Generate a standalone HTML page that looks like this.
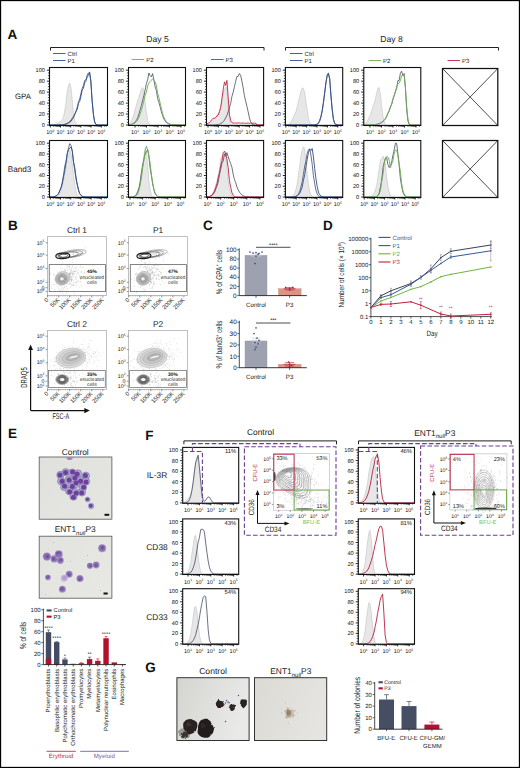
<!DOCTYPE html>
<html><head><meta charset="utf-8"><style>
html,body{margin:0;padding:0;background:#fff;overflow:hidden;width:520px;height:768px;}
svg{display:block;font-family:"Liberation Sans", sans-serif;text-rendering:geometricPrecision;}
</style></head><body>
<svg width="520" height="768" viewBox="0 0 520 768">
<rect x="0" y="0" width="520" height="768" fill="#fff"/>
<defs>
<radialGradient id="cc" cx="0.45" cy="0.45" r="0.6"><stop offset="0" stop-color="#7a3f9e"/><stop offset="0.55" stop-color="#80489f"/><stop offset="0.8" stop-color="#9c96c8"/><stop offset="1" stop-color="#8b88bd"/></radialGradient>
<radialGradient id="ce" cx="0.45" cy="0.45" r="0.6"><stop offset="0" stop-color="#72509e"/><stop offset="0.6" stop-color="#7a5aa8"/><stop offset="0.9" stop-color="#8c78b8"/><stop offset="1" stop-color="#a497c4"/></radialGradient>
<radialGradient id="col" cx="0.5" cy="0.5" r="0.5"><stop offset="0" stop-color="#1e1a1a"/><stop offset="0.7" stop-color="#2a2424"/><stop offset="1" stop-color="#4a4444" stop-opacity="0.6"/></radialGradient>
<linearGradient id="bgE" x1="0" y1="0" x2="1" y2="1"><stop offset="0" stop-color="#e0e1dc"/><stop offset="1" stop-color="#e6e6e2"/></linearGradient>
<linearGradient id="bgE2" x1="0" y1="0" x2="1" y2="1"><stop offset="0" stop-color="#e2e2df"/><stop offset="1" stop-color="#e8e8e5"/></linearGradient>
<filter id="fz" x="-20%" y="-20%" width="140%" height="140%"><feGaussianBlur stdDeviation="0.7"/></filter>
<filter id="fb" x="-20%" y="-20%" width="140%" height="140%"><feGaussianBlur stdDeviation="0.35"/></filter>
<filter id="rag" x="-30%" y="-30%" width="160%" height="160%"><feTurbulence type="fractalNoise" baseFrequency="0.45" numOctaves="2" seed="4" result="n"/><feDisplacementMap in="SourceGraphic" in2="n" scale="2.4" xChannelSelector="R" yChannelSelector="G" result="d"/><feGaussianBlur in="d" stdDeviation="0.55"/></filter>
<linearGradient id="bgG" x1="0" y1="0" x2="1" y2="0.3"><stop offset="0" stop-color="#d4d4d0"/><stop offset="1" stop-color="#e9e9e8"/></linearGradient>
<linearGradient id="bgG2" x1="0" y1="0" x2="1" y2="0.3"><stop offset="0" stop-color="#dcdad5"/><stop offset="1" stop-color="#e5e4e0"/></linearGradient>
</defs>
<text x="7.60" y="39.30" font-size="13.5" text-anchor="start" fill="#111" font-weight="bold">A</text>
<text x="157.50" y="42.20" font-size="8.6" text-anchor="middle" fill="#222" font-weight="normal">Day 5</text>
<text x="391.50" y="42.20" font-size="8.6" text-anchor="middle" fill="#222" font-weight="normal">Day 8</text>
<path d="M50.5,50.5 L50.5,47.5 L264,47.5 L264,50.5" fill="none" stroke="#222" stroke-width="1"/>
<path d="M285.5,50.5 L285.5,47.5 L498.5,47.5 L498.5,50.5" fill="none" stroke="#222" stroke-width="1"/>
<text x="23.00" y="99.00" font-size="7.8" text-anchor="middle" fill="#222" font-weight="normal">GPA</text>
<text x="19.60" y="171.70" font-size="8.2" text-anchor="middle" fill="#222" font-weight="normal">Band3</text>
<line x1="53.00" y1="53.50" x2="65.50" y2="53.50" stroke="#454c63" stroke-width="0.9"/>
<text x="67.60" y="55.60" font-size="6.0" text-anchor="start" fill="#222" font-weight="normal">Ctrl</text>
<line x1="53.00" y1="60.50" x2="65.50" y2="60.50" stroke="#2e4f8e" stroke-width="0.9"/>
<text x="67.60" y="62.60" font-size="6.0" text-anchor="start" fill="#222" font-weight="normal">P1</text>
<line x1="131.70" y1="59.50" x2="144.20" y2="59.50" stroke="#6cb04a" stroke-width="0.9"/>
<text x="146.30" y="61.60" font-size="6.0" text-anchor="start" fill="#222" font-weight="normal">P2</text>
<line x1="211.00" y1="59.50" x2="223.50" y2="59.50" stroke="#c0223e" stroke-width="0.9"/>
<text x="225.60" y="61.60" font-size="6.0" text-anchor="start" fill="#222" font-weight="normal">P3</text>
<line x1="290.00" y1="53.50" x2="302.50" y2="53.50" stroke="#454c63" stroke-width="0.9"/>
<text x="304.60" y="55.60" font-size="6.0" text-anchor="start" fill="#222" font-weight="normal">Ctrl</text>
<line x1="290.00" y1="60.50" x2="302.50" y2="60.50" stroke="#2e4f8e" stroke-width="0.9"/>
<text x="304.60" y="62.60" font-size="6.0" text-anchor="start" fill="#222" font-weight="normal">P1</text>
<line x1="368.50" y1="60.50" x2="381.00" y2="60.50" stroke="#6cb04a" stroke-width="0.9"/>
<text x="383.10" y="62.60" font-size="6.0" text-anchor="start" fill="#222" font-weight="normal">P2</text>
<line x1="447.50" y1="60.50" x2="460.00" y2="60.50" stroke="#c0223e" stroke-width="0.9"/>
<text x="462.10" y="62.60" font-size="6.0" text-anchor="start" fill="#222" font-weight="normal">P3</text>
<path d="M50.0,125.0L51.2,124.9L52.5,124.8L53.7,124.6L55.0,124.3L56.2,123.9L57.4,123.3L58.7,122.6L59.9,122.1L61.2,120.9L62.4,119.4L63.6,116.4L64.9,109.8L66.1,102.1L67.3,90.9L68.6,84.9L69.8,83.0L71.1,88.7L72.3,100.7L73.5,114.1L74.8,120.9L76.0,123.8L77.3,124.7L78.5,125.0L79.7,125.0L81.0,125.0L82.2,125.0L83.5,125.0L84.7,125.0L85.9,125.0L87.2,125.0L88.4,125.0L89.7,125.0L90.9,125.0L92.1,125.0L93.4,125.0L94.6,125.0L95.8,125.0L97.1,125.0L98.3,125.0L99.6,125.0L100.8,125.0L102.0,125.0L103.3,125.0L104.5,125.0L105.8,125.0L107.0,125.0L107.0,125.0L50.0,125.0Z" fill="#e7e7e7" stroke="#b8b8b8" stroke-width="0.5"/>
<path d="M50.0,125.0L51.2,125.0L52.5,125.0L53.7,125.0L55.0,125.0L56.2,125.0L57.4,125.0L58.7,124.9L59.9,124.9L61.2,124.8L62.4,124.7L63.6,124.5L64.9,124.2L66.1,123.8L67.3,123.2L68.6,122.5L69.8,121.2L71.1,120.3L72.3,118.0L73.5,116.3L74.8,113.9L76.0,110.9L77.3,107.0L78.5,101.6L79.7,99.1L81.0,93.2L82.2,88.3L83.5,85.2L84.7,80.4L85.9,79.8L87.2,77.5L88.4,75.2L89.7,71.9L90.9,82.7L92.1,100.1L93.4,113.8L94.6,121.5L95.8,124.2L97.1,124.9L98.3,125.0L99.6,125.0L100.8,125.0L102.0,125.0L103.3,125.0L104.5,125.0L105.8,125.0L107.0,125.0" fill="none" stroke="#454c63" stroke-width="0.8" stroke-linejoin="round"/>
<path d="M50.0,125.0L51.2,125.0L52.5,125.0L53.7,125.0L55.0,125.0L56.2,125.0L57.4,125.0L58.7,125.0L59.9,124.9L61.2,124.9L62.4,124.8L63.6,124.7L64.9,124.5L66.1,124.2L67.3,123.7L68.6,123.0L69.8,122.2L71.1,121.2L72.3,119.4L73.5,117.5L74.8,114.6L76.0,111.7L77.3,109.0L78.5,103.4L79.7,101.4L81.0,96.0L82.2,90.0L83.5,88.1L84.7,82.4L85.9,81.4L87.2,75.2L88.4,73.0L89.7,73.6L90.9,80.9L92.1,100.9L93.4,114.6L94.6,122.0L95.8,124.4L97.1,124.9L98.3,125.0L99.6,125.0L100.8,125.0L102.0,125.0L103.3,125.0L104.5,125.0L105.8,125.0L107.0,125.0" fill="none" stroke="#2e4f8e" stroke-width="0.9" stroke-linejoin="round"/>
<rect x="49.50" y="67.50" width="58.00" height="58.00" fill="none" stroke="#111" stroke-width="1.1"/>
<text x="44.90" y="127.00" font-size="5.6" text-anchor="end" fill="#111" font-weight="normal">0</text>
<text x="44.90" y="116.04" font-size="5.6" text-anchor="end" fill="#111" font-weight="normal">20</text>
<text x="44.90" y="105.08" font-size="5.6" text-anchor="end" fill="#111" font-weight="normal">40</text>
<text x="44.90" y="94.12" font-size="5.6" text-anchor="end" fill="#111" font-weight="normal">60</text>
<text x="44.90" y="83.16" font-size="5.6" text-anchor="end" fill="#111" font-weight="normal">80</text>
<text x="44.90" y="72.20" font-size="5.6" text-anchor="end" fill="#111" font-weight="normal">100</text>
<text x="50.30" y="134.20" font-size="5.5" text-anchor="middle" fill="#111">10<tspan font-size="3.30" dy="-2.20">0</tspan></text>
<text x="60.50" y="134.20" font-size="5.5" text-anchor="middle" fill="#111">10<tspan font-size="3.30" dy="-2.20">1</tspan></text>
<text x="70.70" y="134.20" font-size="5.5" text-anchor="middle" fill="#111">10<tspan font-size="3.30" dy="-2.20">2</tspan></text>
<text x="80.90" y="134.20" font-size="5.5" text-anchor="middle" fill="#111">10<tspan font-size="3.30" dy="-2.20">3</tspan></text>
<text x="91.10" y="134.20" font-size="5.5" text-anchor="middle" fill="#111">10<tspan font-size="3.30" dy="-2.20">4</tspan></text>
<text x="101.30" y="134.20" font-size="5.5" text-anchor="middle" fill="#111">10<tspan font-size="3.30" dy="-2.20">5</tspan></text>
<path d="M46.9,125.0h2.6M46.9,114.0h2.6M46.9,103.1h2.6M46.9,92.1h2.6M46.9,81.2h2.6M46.9,70.2h2.6M50.3,125.5v2M60.5,125.5v2M70.7,125.5v2M80.9,125.5v2M91.1,125.5v2M101.3,125.5v2" fill="none" stroke="#111" stroke-width="0.9"/>
<path d="M47.9,122.3h1.6M47.9,119.5h1.6M47.9,116.8h1.6M47.9,111.3h1.6M47.9,108.6h1.6M47.9,105.8h1.6M47.9,100.3h1.6M47.9,97.6h1.6M47.9,94.9h1.6M47.9,89.4h1.6M47.9,86.6h1.6M47.9,83.9h1.6M47.9,78.4h1.6M47.9,75.7h1.6M47.9,72.9h1.6M53.4,125.5v1.2M55.2,125.5v1.2M56.4,125.5v1.2M57.4,125.5v1.2M58.2,125.5v1.2M58.9,125.5v1.2M59.5,125.5v1.2M60.0,125.5v1.2M63.6,125.5v1.2M65.4,125.5v1.2M66.6,125.5v1.2M67.6,125.5v1.2M68.4,125.5v1.2M69.1,125.5v1.2M69.7,125.5v1.2M70.2,125.5v1.2M73.8,125.5v1.2M75.6,125.5v1.2M76.8,125.5v1.2M77.8,125.5v1.2M78.6,125.5v1.2M79.3,125.5v1.2M79.9,125.5v1.2M80.4,125.5v1.2M84.0,125.5v1.2M85.8,125.5v1.2M87.0,125.5v1.2M88.0,125.5v1.2M88.8,125.5v1.2M89.5,125.5v1.2M90.1,125.5v1.2M90.6,125.5v1.2M94.2,125.5v1.2M96.0,125.5v1.2M97.2,125.5v1.2M98.2,125.5v1.2M99.0,125.5v1.2M99.7,125.5v1.2M100.3,125.5v1.2M100.8,125.5v1.2M104.4,125.5v1.2M106.2,125.5v1.2" fill="none" stroke="#111" stroke-width="0.7"/>
<path d="M50.0,197.0L51.2,197.0L52.5,197.0L53.7,196.9L55.0,196.8L56.2,196.6L57.4,196.1L58.7,195.1L59.9,193.4L61.2,190.4L62.4,185.9L63.6,180.8L64.9,173.5L66.1,168.2L67.3,159.0L68.6,154.3L69.8,150.3L71.1,154.0L72.3,165.0L73.5,175.3L74.8,184.4L76.0,191.5L77.3,194.7L78.5,196.2L79.7,196.8L81.0,196.9L82.2,197.0L83.5,197.0L84.7,197.0L85.9,197.0L87.2,197.0L88.4,197.0L89.7,197.0L90.9,197.0L92.1,197.0L93.4,197.0L94.6,197.0L95.8,197.0L97.1,197.0L98.3,197.0L99.6,197.0L100.8,197.0L102.0,197.0L103.3,197.0L104.5,197.0L105.8,197.0L107.0,197.0L107.0,197.0L50.0,197.0Z" fill="#e7e7e7" stroke="#b8b8b8" stroke-width="0.5"/>
<path d="M50.0,197.0L51.2,197.0L52.5,196.9L53.7,196.7L55.0,196.4L56.2,195.9L57.4,194.9L58.7,193.3L59.9,190.1L61.2,186.8L62.4,181.4L63.6,174.6L64.9,165.5L66.1,161.1L67.3,152.9L68.6,147.6L69.8,143.6L71.1,145.6L72.3,151.1L73.5,162.1L74.8,170.5L76.0,179.0L77.3,185.0L78.5,190.0L79.7,193.7L81.0,195.4L82.2,196.3L83.5,196.7L84.7,196.9L85.9,197.0L87.2,197.0L88.4,197.0L89.7,197.0L90.9,197.0L92.1,197.0L93.4,197.0L94.6,197.0L95.8,197.0L97.1,197.0L98.3,197.0L99.6,197.0L100.8,197.0L102.0,197.0L103.3,197.0L104.5,197.0L105.8,197.0L107.0,197.0" fill="none" stroke="#454c63" stroke-width="0.8" stroke-linejoin="round"/>
<path d="M50.0,197.0L51.2,196.9L52.5,196.9L53.7,196.7L55.0,196.4L56.2,195.9L57.4,195.0L58.7,193.3L59.9,190.7L61.2,187.4L62.4,183.2L63.6,176.5L64.9,169.9L66.1,162.1L67.3,153.6L68.6,149.7L69.8,147.8L71.1,147.3L72.3,151.3L73.5,161.9L74.8,167.8L76.0,177.3L77.3,184.6L78.5,190.1L79.7,193.6L81.0,195.4L82.2,196.3L83.5,196.7L84.7,196.9L85.9,197.0L87.2,197.0L88.4,197.0L89.7,197.0L90.9,197.0L92.1,197.0L93.4,197.0L94.6,197.0L95.8,197.0L97.1,197.0L98.3,197.0L99.6,197.0L100.8,197.0L102.0,197.0L103.3,197.0L104.5,197.0L105.8,197.0L107.0,197.0" fill="none" stroke="#2e4f8e" stroke-width="0.9" stroke-linejoin="round"/>
<rect x="49.50" y="140.50" width="58.00" height="57.00" fill="none" stroke="#111" stroke-width="1.1"/>
<text x="44.90" y="199.00" font-size="5.6" text-anchor="end" fill="#111" font-weight="normal">0</text>
<text x="44.90" y="188.24" font-size="5.6" text-anchor="end" fill="#111" font-weight="normal">20</text>
<text x="44.90" y="177.48" font-size="5.6" text-anchor="end" fill="#111" font-weight="normal">40</text>
<text x="44.90" y="166.72" font-size="5.6" text-anchor="end" fill="#111" font-weight="normal">60</text>
<text x="44.90" y="155.96" font-size="5.6" text-anchor="end" fill="#111" font-weight="normal">80</text>
<text x="44.90" y="145.20" font-size="5.6" text-anchor="end" fill="#111" font-weight="normal">100</text>
<text x="50.30" y="206.20" font-size="5.5" text-anchor="middle" fill="#111">10<tspan font-size="3.30" dy="-2.20">0</tspan></text>
<text x="60.50" y="206.20" font-size="5.5" text-anchor="middle" fill="#111">10<tspan font-size="3.30" dy="-2.20">1</tspan></text>
<text x="70.70" y="206.20" font-size="5.5" text-anchor="middle" fill="#111">10<tspan font-size="3.30" dy="-2.20">2</tspan></text>
<text x="80.90" y="206.20" font-size="5.5" text-anchor="middle" fill="#111">10<tspan font-size="3.30" dy="-2.20">3</tspan></text>
<text x="91.10" y="206.20" font-size="5.5" text-anchor="middle" fill="#111">10<tspan font-size="3.30" dy="-2.20">4</tspan></text>
<text x="101.30" y="206.20" font-size="5.5" text-anchor="middle" fill="#111">10<tspan font-size="3.30" dy="-2.20">5</tspan></text>
<path d="M46.9,197.0h2.6M46.9,186.2h2.6M46.9,175.5h2.6M46.9,164.7h2.6M46.9,154.0h2.6M46.9,143.2h2.6M50.3,197.5v2M60.5,197.5v2M70.7,197.5v2M80.9,197.5v2M91.1,197.5v2M101.3,197.5v2" fill="none" stroke="#111" stroke-width="0.9"/>
<path d="M47.9,194.3h1.6M47.9,191.6h1.6M47.9,188.9h1.6M47.9,183.6h1.6M47.9,180.9h1.6M47.9,178.2h1.6M47.9,172.8h1.6M47.9,170.1h1.6M47.9,167.4h1.6M47.9,162.0h1.6M47.9,159.3h1.6M47.9,156.7h1.6M47.9,151.3h1.6M47.9,148.6h1.6M47.9,145.9h1.6M53.4,197.5v1.2M55.2,197.5v1.2M56.4,197.5v1.2M57.4,197.5v1.2M58.2,197.5v1.2M58.9,197.5v1.2M59.5,197.5v1.2M60.0,197.5v1.2M63.6,197.5v1.2M65.4,197.5v1.2M66.6,197.5v1.2M67.6,197.5v1.2M68.4,197.5v1.2M69.1,197.5v1.2M69.7,197.5v1.2M70.2,197.5v1.2M73.8,197.5v1.2M75.6,197.5v1.2M76.8,197.5v1.2M77.8,197.5v1.2M78.6,197.5v1.2M79.3,197.5v1.2M79.9,197.5v1.2M80.4,197.5v1.2M84.0,197.5v1.2M85.8,197.5v1.2M87.0,197.5v1.2M88.0,197.5v1.2M88.8,197.5v1.2M89.5,197.5v1.2M90.1,197.5v1.2M90.6,197.5v1.2M94.2,197.5v1.2M96.0,197.5v1.2M97.2,197.5v1.2M98.2,197.5v1.2M99.0,197.5v1.2M99.7,197.5v1.2M100.3,197.5v1.2M100.8,197.5v1.2M104.4,197.5v1.2M106.2,197.5v1.2" fill="none" stroke="#111" stroke-width="0.7"/>
<path d="M129.0,124.2L130.2,123.2L131.5,120.7L132.7,118.1L134.0,114.1L135.2,109.3L136.5,105.1L137.7,100.0L139.0,97.0L140.2,93.2L141.4,88.7L142.7,87.6L143.9,89.5L145.2,102.8L146.4,112.4L147.7,120.7L148.9,123.9L150.2,124.8L151.4,125.0L152.6,125.0L153.9,125.0L155.1,125.0L156.4,125.0L157.6,125.0L158.9,125.0L160.1,125.0L161.4,125.0L162.6,125.0L163.8,125.0L165.1,125.0L166.3,125.0L167.6,125.0L168.8,125.0L170.1,125.0L171.3,125.0L172.6,125.0L173.8,125.0L175.0,125.0L176.3,125.0L177.5,125.0L178.8,125.0L180.0,125.0L181.3,125.0L182.5,125.0L183.8,125.0L185.0,125.0L185.0,125.0L129.0,125.0Z" fill="#e7e7e7" stroke="#b8b8b8" stroke-width="0.5"/>
<path d="M129.0,124.8L130.2,124.6L131.5,124.3L132.7,123.8L134.0,123.0L135.2,121.8L136.5,120.1L137.7,117.9L139.0,113.9L140.2,109.5L141.4,105.6L142.7,100.0L143.9,95.6L145.2,89.9L146.4,83.5L147.7,79.5L148.9,73.0L150.2,75.7L151.4,76.9L152.6,73.6L153.9,79.9L155.1,86.7L156.4,90.6L157.6,98.3L158.9,102.4L160.1,106.7L161.4,111.7L162.6,115.7L163.8,118.9L165.1,120.9L166.3,122.5L167.6,123.3L168.8,124.0L170.1,124.4L171.3,124.7L172.6,124.8L173.8,124.9L175.0,125.0L176.3,125.0L177.5,125.0L178.8,125.0L180.0,125.0L181.3,125.0L182.5,125.0L183.8,125.0L185.0,125.0" fill="none" stroke="#454c63" stroke-width="0.8" stroke-linejoin="round"/>
<path d="M129.0,124.8L130.2,124.7L131.5,124.5L132.7,124.1L134.0,123.6L135.2,122.7L136.5,121.6L137.7,119.9L139.0,117.1L140.2,113.8L141.4,110.1L142.7,105.6L143.9,100.5L145.2,95.3L146.4,92.1L147.7,86.0L148.9,82.7L150.2,81.6L151.4,80.2L152.6,78.8L153.9,80.7L155.1,81.9L156.4,85.5L157.6,93.2L158.9,97.3L160.1,103.0L161.4,108.3L162.6,113.6L163.8,117.1L165.1,119.7L166.3,121.5L167.6,122.8L168.8,123.6L170.1,124.2L171.3,124.6L172.6,124.8L173.8,124.9L175.0,124.9L176.3,125.0L177.5,125.0L178.8,125.0L180.0,125.0L181.3,125.0L182.5,125.0L183.8,125.0L185.0,125.0" fill="none" stroke="#6cb04a" stroke-width="0.9" stroke-linejoin="round"/>
<rect x="128.50" y="67.50" width="57.00" height="58.00" fill="none" stroke="#111" stroke-width="1.1"/>
<text x="123.90" y="127.00" font-size="5.6" text-anchor="end" fill="#111" font-weight="normal">0</text>
<text x="123.90" y="116.04" font-size="5.6" text-anchor="end" fill="#111" font-weight="normal">20</text>
<text x="123.90" y="105.08" font-size="5.6" text-anchor="end" fill="#111" font-weight="normal">40</text>
<text x="123.90" y="94.12" font-size="5.6" text-anchor="end" fill="#111" font-weight="normal">60</text>
<text x="123.90" y="83.16" font-size="5.6" text-anchor="end" fill="#111" font-weight="normal">80</text>
<text x="123.90" y="72.20" font-size="5.6" text-anchor="end" fill="#111" font-weight="normal">100</text>
<text x="135.00" y="134.20" font-size="5.5" text-anchor="middle" fill="#111">10<tspan font-size="3.30" dy="-2.20">1</tspan></text>
<text x="146.50" y="134.20" font-size="5.5" text-anchor="middle" fill="#111">10<tspan font-size="3.30" dy="-2.20">2</tspan></text>
<text x="158.00" y="134.20" font-size="5.5" text-anchor="middle" fill="#111">10<tspan font-size="3.30" dy="-2.20">3</tspan></text>
<text x="169.50" y="134.20" font-size="5.5" text-anchor="middle" fill="#111">10<tspan font-size="3.30" dy="-2.20">4</tspan></text>
<text x="181.00" y="134.20" font-size="5.5" text-anchor="middle" fill="#111">10<tspan font-size="3.30" dy="-2.20">5</tspan></text>
<path d="M125.9,125.0h2.6M125.9,114.0h2.6M125.9,103.1h2.6M125.9,92.1h2.6M125.9,81.2h2.6M125.9,70.2h2.6M135.0,125.5v2M146.5,125.5v2M158.0,125.5v2M169.5,125.5v2M181.0,125.5v2" fill="none" stroke="#111" stroke-width="0.9"/>
<path d="M126.9,122.3h1.6M126.9,119.5h1.6M126.9,116.8h1.6M126.9,111.3h1.6M126.9,108.6h1.6M126.9,105.8h1.6M126.9,100.3h1.6M126.9,97.6h1.6M126.9,94.9h1.6M126.9,89.4h1.6M126.9,86.6h1.6M126.9,83.9h1.6M126.9,78.4h1.6M126.9,75.7h1.6M126.9,72.9h1.6M138.5,125.5v1.2M140.5,125.5v1.2M141.9,125.5v1.2M143.0,125.5v1.2M143.9,125.5v1.2M144.7,125.5v1.2M145.4,125.5v1.2M146.0,125.5v1.2M150.0,125.5v1.2M152.0,125.5v1.2M153.4,125.5v1.2M154.5,125.5v1.2M155.4,125.5v1.2M156.2,125.5v1.2M156.9,125.5v1.2M157.5,125.5v1.2M161.5,125.5v1.2M163.5,125.5v1.2M164.9,125.5v1.2M166.0,125.5v1.2M166.9,125.5v1.2M167.7,125.5v1.2M168.4,125.5v1.2M169.0,125.5v1.2M173.0,125.5v1.2M175.0,125.5v1.2M176.4,125.5v1.2M177.5,125.5v1.2M178.4,125.5v1.2M179.2,125.5v1.2M179.9,125.5v1.2M180.5,125.5v1.2M184.5,125.5v1.2" fill="none" stroke="#111" stroke-width="0.7"/>
<path d="M129.0,197.0L130.2,197.0L131.5,197.0L132.7,196.9L134.0,196.7L135.2,196.2L136.5,194.9L137.7,192.4L139.0,188.4L140.2,181.3L141.4,171.7L142.7,166.2L143.9,154.7L145.2,148.7L146.4,152.9L147.7,165.6L148.9,180.6L150.2,190.5L151.4,194.7L152.6,196.5L153.9,196.9L155.1,197.0L156.4,197.0L157.6,197.0L158.9,197.0L160.1,197.0L161.4,197.0L162.6,197.0L163.8,197.0L165.1,197.0L166.3,197.0L167.6,197.0L168.8,197.0L170.1,197.0L171.3,197.0L172.6,197.0L173.8,197.0L175.0,197.0L176.3,197.0L177.5,197.0L178.8,197.0L180.0,197.0L181.3,197.0L182.5,197.0L183.8,197.0L185.0,197.0L185.0,197.0L129.0,197.0Z" fill="#e7e7e7" stroke="#b8b8b8" stroke-width="0.5"/>
<path d="M129.0,197.0L130.2,197.0L131.5,196.9L132.7,196.8L134.0,196.4L135.2,195.7L136.5,194.2L137.7,191.4L139.0,187.7L140.2,181.8L141.4,172.8L142.7,164.8L143.9,159.3L145.2,154.0L146.4,151.6L147.7,149.6L148.9,156.9L150.2,168.5L151.4,175.6L152.6,183.5L153.9,189.7L155.1,193.5L156.4,195.4L157.6,196.3L158.9,196.8L160.1,196.9L161.4,197.0L162.6,197.0L163.8,197.0L165.1,197.0L166.3,197.0L167.6,197.0L168.8,197.0L170.1,197.0L171.3,197.0L172.6,197.0L173.8,197.0L175.0,197.0L176.3,197.0L177.5,197.0L178.8,197.0L180.0,197.0L181.3,197.0L182.5,197.0L183.8,197.0L185.0,197.0" fill="none" stroke="#454c63" stroke-width="0.8" stroke-linejoin="round"/>
<path d="M129.0,197.0L130.2,197.0L131.5,197.0L132.7,196.9L134.0,196.8L135.2,196.4L136.5,195.5L137.7,193.9L139.0,190.1L140.2,185.1L141.4,178.1L142.7,167.9L143.9,160.4L145.2,150.4L146.4,146.1L147.7,150.0L148.9,155.3L150.2,164.1L151.4,174.3L152.6,182.4L153.9,189.3L155.1,193.2L156.4,195.4L157.6,196.4L158.9,196.8L160.1,196.9L161.4,197.0L162.6,197.0L163.8,197.0L165.1,197.0L166.3,197.0L167.6,197.0L168.8,197.0L170.1,197.0L171.3,197.0L172.6,197.0L173.8,197.0L175.0,197.0L176.3,197.0L177.5,197.0L178.8,197.0L180.0,197.0L181.3,197.0L182.5,197.0L183.8,197.0L185.0,197.0" fill="none" stroke="#6cb04a" stroke-width="0.9" stroke-linejoin="round"/>
<rect x="128.50" y="140.50" width="57.00" height="57.00" fill="none" stroke="#111" stroke-width="1.1"/>
<text x="123.90" y="199.00" font-size="5.6" text-anchor="end" fill="#111" font-weight="normal">0</text>
<text x="123.90" y="188.24" font-size="5.6" text-anchor="end" fill="#111" font-weight="normal">20</text>
<text x="123.90" y="177.48" font-size="5.6" text-anchor="end" fill="#111" font-weight="normal">40</text>
<text x="123.90" y="166.72" font-size="5.6" text-anchor="end" fill="#111" font-weight="normal">60</text>
<text x="123.90" y="155.96" font-size="5.6" text-anchor="end" fill="#111" font-weight="normal">80</text>
<text x="123.90" y="145.20" font-size="5.6" text-anchor="end" fill="#111" font-weight="normal">100</text>
<text x="130.00" y="206.20" font-size="5.5" text-anchor="middle" fill="#111">10<tspan font-size="3.30" dy="-2.20">1</tspan></text>
<text x="142.60" y="206.20" font-size="5.5" text-anchor="middle" fill="#111">10<tspan font-size="3.30" dy="-2.20">2</tspan></text>
<text x="155.20" y="206.20" font-size="5.5" text-anchor="middle" fill="#111">10<tspan font-size="3.30" dy="-2.20">3</tspan></text>
<text x="167.80" y="206.20" font-size="5.5" text-anchor="middle" fill="#111">10<tspan font-size="3.30" dy="-2.20">4</tspan></text>
<text x="180.40" y="206.20" font-size="5.5" text-anchor="middle" fill="#111">10<tspan font-size="3.30" dy="-2.20">5</tspan></text>
<path d="M125.9,197.0h2.6M125.9,186.2h2.6M125.9,175.5h2.6M125.9,164.7h2.6M125.9,154.0h2.6M125.9,143.2h2.6M130.0,197.5v2M142.6,197.5v2M155.2,197.5v2M167.8,197.5v2M180.4,197.5v2" fill="none" stroke="#111" stroke-width="0.9"/>
<path d="M126.9,194.3h1.6M126.9,191.6h1.6M126.9,188.9h1.6M126.9,183.6h1.6M126.9,180.9h1.6M126.9,178.2h1.6M126.9,172.8h1.6M126.9,170.1h1.6M126.9,167.4h1.6M126.9,162.0h1.6M126.9,159.3h1.6M126.9,156.7h1.6M126.9,151.3h1.6M126.9,148.6h1.6M126.9,145.9h1.6M133.8,197.5v1.2M136.0,197.5v1.2M137.6,197.5v1.2M138.8,197.5v1.2M139.8,197.5v1.2M140.6,197.5v1.2M141.4,197.5v1.2M142.0,197.5v1.2M146.4,197.5v1.2M148.6,197.5v1.2M150.2,197.5v1.2M151.4,197.5v1.2M152.4,197.5v1.2M153.2,197.5v1.2M154.0,197.5v1.2M154.6,197.5v1.2M159.0,197.5v1.2M161.2,197.5v1.2M162.8,197.5v1.2M164.0,197.5v1.2M165.0,197.5v1.2M165.8,197.5v1.2M166.6,197.5v1.2M167.2,197.5v1.2M171.6,197.5v1.2M173.8,197.5v1.2M175.4,197.5v1.2M176.6,197.5v1.2M177.6,197.5v1.2M178.4,197.5v1.2M179.2,197.5v1.2M179.8,197.5v1.2M184.2,197.5v1.2" fill="none" stroke="#111" stroke-width="0.7"/>
<path d="M207.0,124.7L208.2,124.3L209.5,123.6L210.7,122.8L212.0,121.5L213.2,119.9L214.5,118.0L215.7,117.1L217.0,114.9L218.2,113.7L219.5,110.8L220.7,106.1L222.0,102.0L223.2,93.0L224.5,88.9L225.7,87.5L226.9,87.4L228.2,106.7L229.4,118.4L230.7,123.6L231.9,124.8L233.2,125.0L234.4,125.0L235.7,125.0L236.9,125.0L238.2,125.0L239.4,125.0L240.7,125.0L241.9,125.0L243.2,125.0L244.4,125.0L245.6,125.0L246.9,125.0L248.1,125.0L249.4,125.0L250.6,125.0L251.9,125.0L253.1,125.0L254.4,125.0L255.6,125.0L256.9,125.0L258.1,125.0L259.4,125.0L260.6,125.0L261.9,125.0L263.1,125.0L263.1,125.0L207.0,125.0Z" fill="#e7e7e7" stroke="#b8b8b8" stroke-width="0.5"/>
<path d="M207.0,125.0L208.2,125.0L209.5,125.0L210.7,125.0L212.0,125.0L213.2,125.0L214.5,124.9L215.7,124.8L217.0,124.7L218.2,124.5L219.5,124.2L220.7,123.6L222.0,122.9L223.2,121.7L224.5,120.1L225.7,117.7L226.9,115.6L228.2,111.5L229.4,108.0L230.7,103.3L231.9,96.6L233.2,92.2L234.4,86.8L235.7,81.2L236.9,76.5L238.2,76.4L239.4,73.5L240.7,75.4L241.9,81.3L243.2,88.0L244.4,95.6L245.6,100.8L246.9,106.2L248.1,111.6L249.4,117.8L250.6,121.8L251.9,123.9L253.1,124.7L254.4,124.9L255.6,125.0L256.9,125.0L258.1,125.0L259.4,125.0L260.6,125.0L261.9,125.0L263.1,125.0" fill="none" stroke="#454c63" stroke-width="0.8" stroke-linejoin="round"/>
<path d="M207.0,124.1L208.2,123.2L209.5,122.6L210.7,121.2L212.0,119.4L213.2,118.2L214.5,118.4L215.7,117.6L217.0,116.0L218.2,115.1L219.5,111.6L220.7,107.6L222.0,98.1L223.2,89.7L224.5,81.9L225.7,85.4L226.9,80.4L228.2,97.2L229.4,114.3L230.7,120.6L231.9,122.6L233.2,123.2L234.4,122.9L235.7,123.1L236.9,123.1L238.2,122.9L239.4,122.9L240.7,123.2L241.9,123.1L243.2,123.1L244.4,123.2L245.6,123.2L246.9,123.2L248.1,123.0L249.4,123.3L250.6,123.1L251.9,123.1L253.1,123.3L254.4,123.2L255.6,123.0L256.9,125.0L258.1,125.0L259.4,125.0L260.6,125.0L261.9,125.0L263.1,125.0" fill="none" stroke="#c0223e" stroke-width="0.9" stroke-linejoin="round"/>
<rect x="206.50" y="67.50" width="57.10" height="58.00" fill="none" stroke="#111" stroke-width="1.1"/>
<text x="201.90" y="127.00" font-size="5.6" text-anchor="end" fill="#111" font-weight="normal">0</text>
<text x="201.90" y="116.04" font-size="5.6" text-anchor="end" fill="#111" font-weight="normal">20</text>
<text x="201.90" y="105.08" font-size="5.6" text-anchor="end" fill="#111" font-weight="normal">40</text>
<text x="201.90" y="94.12" font-size="5.6" text-anchor="end" fill="#111" font-weight="normal">60</text>
<text x="201.90" y="83.16" font-size="5.6" text-anchor="end" fill="#111" font-weight="normal">80</text>
<text x="201.90" y="72.20" font-size="5.6" text-anchor="end" fill="#111" font-weight="normal">100</text>
<text x="208.00" y="134.20" font-size="5.5" text-anchor="middle" fill="#111">10<tspan font-size="3.30" dy="-2.20">0</tspan></text>
<text x="218.40" y="134.20" font-size="5.5" text-anchor="middle" fill="#111">10<tspan font-size="3.30" dy="-2.20">1</tspan></text>
<text x="228.80" y="134.20" font-size="5.5" text-anchor="middle" fill="#111">10<tspan font-size="3.30" dy="-2.20">2</tspan></text>
<text x="239.20" y="134.20" font-size="5.5" text-anchor="middle" fill="#111">10<tspan font-size="3.30" dy="-2.20">3</tspan></text>
<text x="249.60" y="134.20" font-size="5.5" text-anchor="middle" fill="#111">10<tspan font-size="3.30" dy="-2.20">4</tspan></text>
<text x="260.00" y="134.20" font-size="5.5" text-anchor="middle" fill="#111">10<tspan font-size="3.30" dy="-2.20">5</tspan></text>
<path d="M203.9,125.0h2.6M203.9,114.0h2.6M203.9,103.1h2.6M203.9,92.1h2.6M203.9,81.2h2.6M203.9,70.2h2.6M208.0,125.5v2M218.4,125.5v2M228.8,125.5v2M239.2,125.5v2M249.6,125.5v2M260.0,125.5v2" fill="none" stroke="#111" stroke-width="0.9"/>
<path d="M204.9,122.3h1.6M204.9,119.5h1.6M204.9,116.8h1.6M204.9,111.3h1.6M204.9,108.6h1.6M204.9,105.8h1.6M204.9,100.3h1.6M204.9,97.6h1.6M204.9,94.9h1.6M204.9,89.4h1.6M204.9,86.6h1.6M204.9,83.9h1.6M204.9,78.4h1.6M204.9,75.7h1.6M204.9,72.9h1.6M211.1,125.5v1.2M213.0,125.5v1.2M214.3,125.5v1.2M215.3,125.5v1.2M216.1,125.5v1.2M216.8,125.5v1.2M217.4,125.5v1.2M217.9,125.5v1.2M221.5,125.5v1.2M223.4,125.5v1.2M224.7,125.5v1.2M225.7,125.5v1.2M226.5,125.5v1.2M227.2,125.5v1.2M227.8,125.5v1.2M228.3,125.5v1.2M231.9,125.5v1.2M233.8,125.5v1.2M235.1,125.5v1.2M236.1,125.5v1.2M236.9,125.5v1.2M237.6,125.5v1.2M238.2,125.5v1.2M238.7,125.5v1.2M242.3,125.5v1.2M244.2,125.5v1.2M245.5,125.5v1.2M246.5,125.5v1.2M247.3,125.5v1.2M248.0,125.5v1.2M248.6,125.5v1.2M249.1,125.5v1.2M252.7,125.5v1.2M254.6,125.5v1.2M255.9,125.5v1.2M256.9,125.5v1.2M257.7,125.5v1.2M258.4,125.5v1.2M259.0,125.5v1.2M259.5,125.5v1.2M263.1,125.5v1.2" fill="none" stroke="#111" stroke-width="0.7"/>
<path d="M207.0,196.9L208.2,196.7L209.5,196.3L210.7,195.6L212.0,194.6L213.2,192.1L214.5,189.1L215.7,184.4L217.0,181.2L218.2,174.5L219.5,169.2L220.7,158.3L222.0,156.7L223.2,154.9L224.5,152.4L225.7,155.2L226.9,167.1L228.2,180.5L229.4,188.7L230.7,192.9L231.9,195.6L233.2,196.6L234.4,196.9L235.7,197.0L236.9,197.0L238.2,197.0L239.4,197.0L240.7,197.0L241.9,197.0L243.2,197.0L244.4,197.0L245.6,197.0L246.9,197.0L248.1,197.0L249.4,197.0L250.6,197.0L251.9,197.0L253.1,197.0L254.4,197.0L255.6,197.0L256.9,197.0L258.1,197.0L259.4,197.0L260.6,197.0L261.9,197.0L263.1,197.0L263.1,197.0L207.0,197.0Z" fill="#e7e7e7" stroke="#b8b8b8" stroke-width="0.5"/>
<path d="M207.0,196.9L208.2,196.8L209.5,196.5L210.7,196.1L212.0,195.3L213.2,194.2L214.5,192.5L215.7,189.3L217.0,185.9L218.2,182.0L219.5,174.6L220.7,169.4L222.0,162.9L223.2,161.1L224.5,153.9L225.7,156.3L226.9,152.6L228.2,156.6L229.4,160.3L230.7,163.6L231.9,167.2L233.2,174.3L234.4,179.3L235.7,182.7L236.9,186.8L238.2,189.9L239.4,192.1L240.7,193.8L241.9,194.9L243.2,195.7L244.4,196.2L245.6,196.6L246.9,196.8L248.1,196.9L249.4,196.9L250.6,197.0L251.9,197.0L253.1,197.0L254.4,197.0L255.6,197.0L256.9,197.0L258.1,197.0L259.4,197.0L260.6,197.0L261.9,197.0L263.1,197.0" fill="none" stroke="#454c63" stroke-width="0.8" stroke-linejoin="round"/>
<path d="M207.0,196.9L208.2,196.7L209.5,196.5L210.7,195.9L212.0,195.1L213.2,193.4L214.5,191.2L215.7,187.7L217.0,183.6L218.2,177.8L219.5,172.5L220.7,165.4L222.0,160.7L223.2,152.7L224.5,151.2L225.7,154.0L226.9,159.1L228.2,167.8L229.4,180.4L230.7,187.2L231.9,192.7L233.2,195.3L234.4,196.4L235.7,196.8L236.9,197.0L238.2,197.0L239.4,197.0L240.7,197.0L241.9,197.0L243.2,197.0L244.4,197.0L245.6,197.0L246.9,197.0L248.1,197.0L249.4,197.0L250.6,197.0L251.9,197.0L253.1,197.0L254.4,197.0L255.6,197.0L256.9,197.0L258.1,197.0L259.4,197.0L260.6,197.0L261.9,197.0L263.1,197.0" fill="none" stroke="#c0223e" stroke-width="0.9" stroke-linejoin="round"/>
<rect x="206.50" y="140.50" width="57.10" height="57.00" fill="none" stroke="#111" stroke-width="1.1"/>
<text x="201.90" y="199.00" font-size="5.6" text-anchor="end" fill="#111" font-weight="normal">0</text>
<text x="201.90" y="188.24" font-size="5.6" text-anchor="end" fill="#111" font-weight="normal">20</text>
<text x="201.90" y="177.48" font-size="5.6" text-anchor="end" fill="#111" font-weight="normal">40</text>
<text x="201.90" y="166.72" font-size="5.6" text-anchor="end" fill="#111" font-weight="normal">60</text>
<text x="201.90" y="155.96" font-size="5.6" text-anchor="end" fill="#111" font-weight="normal">80</text>
<text x="201.90" y="145.20" font-size="5.6" text-anchor="end" fill="#111" font-weight="normal">100</text>
<text x="207.50" y="206.20" font-size="5.5" text-anchor="middle" fill="#111">10<tspan font-size="3.30" dy="-2.20">1</tspan></text>
<text x="220.60" y="206.20" font-size="5.5" text-anchor="middle" fill="#111">10<tspan font-size="3.30" dy="-2.20">2</tspan></text>
<text x="233.70" y="206.20" font-size="5.5" text-anchor="middle" fill="#111">10<tspan font-size="3.30" dy="-2.20">3</tspan></text>
<text x="246.80" y="206.20" font-size="5.5" text-anchor="middle" fill="#111">10<tspan font-size="3.30" dy="-2.20">4</tspan></text>
<text x="259.90" y="206.20" font-size="5.5" text-anchor="middle" fill="#111">10<tspan font-size="3.30" dy="-2.20">5</tspan></text>
<path d="M203.9,197.0h2.6M203.9,186.2h2.6M203.9,175.5h2.6M203.9,164.7h2.6M203.9,154.0h2.6M203.9,143.2h2.6M207.5,197.5v2M220.6,197.5v2M233.7,197.5v2M246.8,197.5v2M259.9,197.5v2" fill="none" stroke="#111" stroke-width="0.9"/>
<path d="M204.9,194.3h1.6M204.9,191.6h1.6M204.9,188.9h1.6M204.9,183.6h1.6M204.9,180.9h1.6M204.9,178.2h1.6M204.9,172.8h1.6M204.9,170.1h1.6M204.9,167.4h1.6M204.9,162.0h1.6M204.9,159.3h1.6M204.9,156.7h1.6M204.9,151.3h1.6M204.9,148.6h1.6M204.9,145.9h1.6M211.4,197.5v1.2M213.8,197.5v1.2M215.4,197.5v1.2M216.7,197.5v1.2M217.7,197.5v1.2M218.6,197.5v1.2M219.3,197.5v1.2M220.0,197.5v1.2M224.5,197.5v1.2M226.9,197.5v1.2M228.5,197.5v1.2M229.8,197.5v1.2M230.8,197.5v1.2M231.7,197.5v1.2M232.4,197.5v1.2M233.1,197.5v1.2M237.6,197.5v1.2M240.0,197.5v1.2M241.6,197.5v1.2M242.9,197.5v1.2M243.9,197.5v1.2M244.8,197.5v1.2M245.5,197.5v1.2M246.2,197.5v1.2M250.7,197.5v1.2M253.1,197.5v1.2M254.7,197.5v1.2M256.0,197.5v1.2M257.0,197.5v1.2M257.9,197.5v1.2M258.6,197.5v1.2M259.3,197.5v1.2" fill="none" stroke="#111" stroke-width="0.7"/>
<path d="M285.9,124.9L287.2,124.8L288.4,124.4L289.7,123.5L290.9,122.1L292.2,120.0L293.4,117.2L294.7,113.7L295.9,111.9L297.2,106.7L298.4,102.0L299.7,96.3L300.9,91.6L302.2,87.8L303.4,88.6L304.7,92.3L305.9,101.5L307.2,109.2L308.4,117.9L309.7,122.2L310.9,124.0L312.2,124.7L313.4,124.9L314.7,125.0L315.9,125.0L317.2,125.0L318.4,125.0L319.7,125.0L320.9,125.0L322.2,125.0L323.4,125.0L324.7,125.0L325.9,125.0L327.2,125.0L328.4,125.0L329.7,125.0L330.9,125.0L332.2,125.0L333.4,125.0L334.7,125.0L335.9,125.0L337.2,125.0L338.4,125.0L339.7,125.0L340.9,125.0L342.2,125.0L342.2,125.0L285.9,125.0Z" fill="#e7e7e7" stroke="#b8b8b8" stroke-width="0.5"/>
<path d="M285.9,125.0L287.2,125.0L288.4,125.0L289.7,125.0L290.9,125.0L292.2,125.0L293.4,125.0L294.7,125.0L295.9,125.0L297.2,125.0L298.4,125.0L299.7,125.0L300.9,125.0L302.2,125.0L303.4,125.0L304.7,125.0L305.9,125.0L307.2,125.0L308.4,125.0L309.7,125.0L310.9,125.0L312.2,125.0L313.4,125.0L314.7,124.9L315.9,124.8L317.2,124.4L318.4,123.5L319.7,121.3L320.9,117.5L322.2,111.5L323.4,103.4L324.7,93.4L325.9,83.2L327.2,75.0L328.4,72.9L329.7,78.6L330.9,95.1L332.2,109.9L333.4,119.6L334.7,123.6L335.9,124.7L337.2,125.0L338.4,125.0L339.7,125.0L340.9,125.0L342.2,125.0" fill="none" stroke="#454c63" stroke-width="0.8" stroke-linejoin="round"/>
<path d="M285.9,125.0L287.2,125.0L288.4,125.0L289.7,125.0L290.9,125.0L292.2,125.0L293.4,125.0L294.7,125.0L295.9,125.0L297.2,125.0L298.4,125.0L299.7,125.0L300.9,125.0L302.2,125.0L303.4,125.0L304.7,125.0L305.9,125.0L307.2,125.0L308.4,125.0L309.7,125.0L310.9,125.0L312.2,125.0L313.4,125.0L314.7,124.9L315.9,124.6L317.2,124.1L318.4,122.8L319.7,120.3L320.9,116.4L322.2,110.2L323.4,102.4L324.7,92.2L325.9,82.7L327.2,75.7L328.4,73.9L329.7,78.9L330.9,94.9L332.2,109.3L333.4,118.9L334.7,123.1L335.9,124.6L337.2,124.9L338.4,125.0L339.7,125.0L340.9,125.0L342.2,125.0" fill="none" stroke="#2e4f8e" stroke-width="0.9" stroke-linejoin="round"/>
<rect x="285.40" y="67.50" width="57.30" height="58.00" fill="none" stroke="#111" stroke-width="1.1"/>
<text x="280.80" y="127.00" font-size="5.6" text-anchor="end" fill="#111" font-weight="normal">0</text>
<text x="280.80" y="116.04" font-size="5.6" text-anchor="end" fill="#111" font-weight="normal">20</text>
<text x="280.80" y="105.08" font-size="5.6" text-anchor="end" fill="#111" font-weight="normal">40</text>
<text x="280.80" y="94.12" font-size="5.6" text-anchor="end" fill="#111" font-weight="normal">60</text>
<text x="280.80" y="83.16" font-size="5.6" text-anchor="end" fill="#111" font-weight="normal">80</text>
<text x="280.80" y="72.20" font-size="5.6" text-anchor="end" fill="#111" font-weight="normal">100</text>
<text x="285.80" y="134.20" font-size="5.5" text-anchor="middle" fill="#111">10<tspan font-size="3.30" dy="-2.20">0</tspan></text>
<text x="296.20" y="134.20" font-size="5.5" text-anchor="middle" fill="#111">10<tspan font-size="3.30" dy="-2.20">1</tspan></text>
<text x="306.60" y="134.20" font-size="5.5" text-anchor="middle" fill="#111">10<tspan font-size="3.30" dy="-2.20">2</tspan></text>
<text x="317.00" y="134.20" font-size="5.5" text-anchor="middle" fill="#111">10<tspan font-size="3.30" dy="-2.20">3</tspan></text>
<text x="327.40" y="134.20" font-size="5.5" text-anchor="middle" fill="#111">10<tspan font-size="3.30" dy="-2.20">4</tspan></text>
<text x="337.80" y="134.20" font-size="5.5" text-anchor="middle" fill="#111">10<tspan font-size="3.30" dy="-2.20">5</tspan></text>
<path d="M282.8,125.0h2.6M282.8,114.0h2.6M282.8,103.1h2.6M282.8,92.1h2.6M282.8,81.2h2.6M282.8,70.2h2.6M285.8,125.5v2M296.2,125.5v2M306.6,125.5v2M317.0,125.5v2M327.4,125.5v2M337.8,125.5v2" fill="none" stroke="#111" stroke-width="0.9"/>
<path d="M283.8,122.3h1.6M283.8,119.5h1.6M283.8,116.8h1.6M283.8,111.3h1.6M283.8,108.6h1.6M283.8,105.8h1.6M283.8,100.3h1.6M283.8,97.6h1.6M283.8,94.9h1.6M283.8,89.4h1.6M283.8,86.6h1.6M283.8,83.9h1.6M283.8,78.4h1.6M283.8,75.7h1.6M283.8,72.9h1.6M288.9,125.5v1.2M290.8,125.5v1.2M292.1,125.5v1.2M293.1,125.5v1.2M293.9,125.5v1.2M294.6,125.5v1.2M295.2,125.5v1.2M295.7,125.5v1.2M299.3,125.5v1.2M301.2,125.5v1.2M302.5,125.5v1.2M303.5,125.5v1.2M304.3,125.5v1.2M305.0,125.5v1.2M305.6,125.5v1.2M306.1,125.5v1.2M309.7,125.5v1.2M311.6,125.5v1.2M312.9,125.5v1.2M313.9,125.5v1.2M314.7,125.5v1.2M315.4,125.5v1.2M316.0,125.5v1.2M316.5,125.5v1.2M320.1,125.5v1.2M322.0,125.5v1.2M323.3,125.5v1.2M324.3,125.5v1.2M325.1,125.5v1.2M325.8,125.5v1.2M326.4,125.5v1.2M326.9,125.5v1.2M330.5,125.5v1.2M332.4,125.5v1.2M333.7,125.5v1.2M334.7,125.5v1.2M335.5,125.5v1.2M336.2,125.5v1.2M336.8,125.5v1.2M337.3,125.5v1.2M340.9,125.5v1.2" fill="none" stroke="#111" stroke-width="0.7"/>
<path d="M285.9,197.0L287.2,197.0L288.4,197.0L289.7,196.9L290.9,196.7L292.2,196.1L293.4,195.2L294.7,193.2L295.9,189.3L297.2,183.9L298.4,175.1L299.7,166.3L300.9,155.9L302.2,149.9L303.4,146.7L304.7,149.0L305.9,162.7L307.2,174.8L308.4,183.3L309.7,191.5L310.9,194.6L312.2,196.3L313.4,196.8L314.7,197.0L315.9,197.0L317.2,197.0L318.4,197.0L319.7,197.0L320.9,197.0L322.2,197.0L323.4,197.0L324.7,197.0L325.9,197.0L327.2,197.0L328.4,197.0L329.7,197.0L330.9,197.0L332.2,197.0L333.4,197.0L334.7,197.0L335.9,197.0L337.2,197.0L338.4,197.0L339.7,197.0L340.9,197.0L342.2,197.0L342.2,197.0L285.9,197.0Z" fill="#e7e7e7" stroke="#b8b8b8" stroke-width="0.5"/>
<path d="M285.9,197.0L287.2,197.0L288.4,197.0L289.7,197.0L290.9,197.0L292.2,197.0L293.4,196.9L294.7,196.7L295.9,196.3L297.2,195.5L298.4,194.2L299.7,191.3L300.9,187.1L302.2,181.8L303.4,174.5L304.7,166.1L305.9,161.2L307.2,153.3L308.4,150.0L309.7,148.7L310.9,154.8L312.2,164.4L313.4,175.5L314.7,183.7L315.9,190.2L317.2,193.8L318.4,195.8L319.7,196.5L320.9,196.9L322.2,197.0L323.4,197.0L324.7,197.0L325.9,197.0L327.2,197.0L328.4,197.0L329.7,197.0L330.9,197.0L332.2,197.0L333.4,197.0L334.7,197.0L335.9,197.0L337.2,197.0L338.4,197.0L339.7,197.0L340.9,197.0L342.2,197.0" fill="none" stroke="#454c63" stroke-width="0.8" stroke-linejoin="round"/>
<path d="M285.9,197.0L287.2,197.0L288.4,197.0L289.7,197.0L290.9,197.0L292.2,197.0L293.4,196.9L294.7,196.8L295.9,196.5L297.2,195.9L298.4,195.0L299.7,193.4L300.9,190.6L302.2,187.1L303.4,180.7L304.7,174.7L305.9,167.0L307.2,159.5L308.4,152.7L309.7,149.3L310.9,150.5L312.2,148.5L313.4,156.9L314.7,168.5L315.9,178.5L317.2,186.4L318.4,192.1L319.7,194.6L320.9,196.1L322.2,196.7L323.4,196.9L324.7,197.0L325.9,197.0L327.2,197.0L328.4,197.0L329.7,197.0L330.9,197.0L332.2,197.0L333.4,197.0L334.7,197.0L335.9,197.0L337.2,197.0L338.4,197.0L339.7,197.0L340.9,197.0L342.2,197.0" fill="none" stroke="#2e4f8e" stroke-width="0.9" stroke-linejoin="round"/>
<rect x="285.40" y="140.50" width="57.30" height="57.00" fill="none" stroke="#111" stroke-width="1.1"/>
<text x="280.80" y="199.00" font-size="5.6" text-anchor="end" fill="#111" font-weight="normal">0</text>
<text x="280.80" y="188.24" font-size="5.6" text-anchor="end" fill="#111" font-weight="normal">20</text>
<text x="280.80" y="177.48" font-size="5.6" text-anchor="end" fill="#111" font-weight="normal">40</text>
<text x="280.80" y="166.72" font-size="5.6" text-anchor="end" fill="#111" font-weight="normal">60</text>
<text x="280.80" y="155.96" font-size="5.6" text-anchor="end" fill="#111" font-weight="normal">80</text>
<text x="280.80" y="145.20" font-size="5.6" text-anchor="end" fill="#111" font-weight="normal">100</text>
<text x="285.80" y="206.20" font-size="5.5" text-anchor="middle" fill="#111">10<tspan font-size="3.30" dy="-2.20">0</tspan></text>
<text x="296.20" y="206.20" font-size="5.5" text-anchor="middle" fill="#111">10<tspan font-size="3.30" dy="-2.20">1</tspan></text>
<text x="306.60" y="206.20" font-size="5.5" text-anchor="middle" fill="#111">10<tspan font-size="3.30" dy="-2.20">2</tspan></text>
<text x="317.00" y="206.20" font-size="5.5" text-anchor="middle" fill="#111">10<tspan font-size="3.30" dy="-2.20">3</tspan></text>
<text x="327.40" y="206.20" font-size="5.5" text-anchor="middle" fill="#111">10<tspan font-size="3.30" dy="-2.20">4</tspan></text>
<text x="337.80" y="206.20" font-size="5.5" text-anchor="middle" fill="#111">10<tspan font-size="3.30" dy="-2.20">5</tspan></text>
<path d="M282.8,197.0h2.6M282.8,186.2h2.6M282.8,175.5h2.6M282.8,164.7h2.6M282.8,154.0h2.6M282.8,143.2h2.6M285.8,197.5v2M296.2,197.5v2M306.6,197.5v2M317.0,197.5v2M327.4,197.5v2M337.8,197.5v2" fill="none" stroke="#111" stroke-width="0.9"/>
<path d="M283.8,194.3h1.6M283.8,191.6h1.6M283.8,188.9h1.6M283.8,183.6h1.6M283.8,180.9h1.6M283.8,178.2h1.6M283.8,172.8h1.6M283.8,170.1h1.6M283.8,167.4h1.6M283.8,162.0h1.6M283.8,159.3h1.6M283.8,156.7h1.6M283.8,151.3h1.6M283.8,148.6h1.6M283.8,145.9h1.6M288.9,197.5v1.2M290.8,197.5v1.2M292.1,197.5v1.2M293.1,197.5v1.2M293.9,197.5v1.2M294.6,197.5v1.2M295.2,197.5v1.2M295.7,197.5v1.2M299.3,197.5v1.2M301.2,197.5v1.2M302.5,197.5v1.2M303.5,197.5v1.2M304.3,197.5v1.2M305.0,197.5v1.2M305.6,197.5v1.2M306.1,197.5v1.2M309.7,197.5v1.2M311.6,197.5v1.2M312.9,197.5v1.2M313.9,197.5v1.2M314.7,197.5v1.2M315.4,197.5v1.2M316.0,197.5v1.2M316.5,197.5v1.2M320.1,197.5v1.2M322.0,197.5v1.2M323.3,197.5v1.2M324.3,197.5v1.2M325.1,197.5v1.2M325.8,197.5v1.2M326.4,197.5v1.2M326.9,197.5v1.2M330.5,197.5v1.2M332.4,197.5v1.2M333.7,197.5v1.2M334.7,197.5v1.2M335.5,197.5v1.2M336.2,197.5v1.2M336.8,197.5v1.2M337.3,197.5v1.2M340.9,197.5v1.2" fill="none" stroke="#111" stroke-width="0.7"/>
<path d="M364.3,124.3L365.5,123.5L366.8,122.1L368.0,119.9L369.3,116.6L370.5,114.6L371.8,110.4L373.0,106.0L374.3,103.1L375.5,98.3L376.7,92.7L378.0,88.0L379.2,87.5L380.5,95.5L381.7,106.3L383.0,116.7L384.2,121.7L385.5,124.0L386.7,124.8L387.9,125.0L389.2,125.0L390.4,125.0L391.7,125.0L392.9,125.0L394.2,125.0L395.4,125.0L396.7,125.0L397.9,125.0L399.1,125.0L400.4,125.0L401.6,125.0L402.9,125.0L404.1,125.0L405.4,125.0L406.6,125.0L407.9,125.0L409.1,125.0L410.3,125.0L411.6,125.0L412.8,125.0L414.1,125.0L415.3,125.0L416.6,125.0L417.8,125.0L419.1,125.0L420.3,125.0L420.3,125.0L364.3,125.0Z" fill="#e7e7e7" stroke="#b8b8b8" stroke-width="0.5"/>
<path d="M364.3,125.0L365.5,125.0L366.8,125.0L368.0,125.0L369.3,125.0L370.5,124.9L371.8,124.9L373.0,124.8L374.3,124.8L375.5,124.6L376.7,124.4L378.0,124.1L379.2,123.8L380.5,123.1L381.7,122.5L383.0,121.4L384.2,120.4L385.5,118.8L386.7,116.6L387.9,113.6L389.2,110.6L390.4,107.2L391.7,104.3L392.9,99.6L394.2,95.5L395.4,91.1L396.7,88.4L397.9,80.6L399.1,80.6L400.4,73.2L401.6,71.2L402.9,75.7L404.1,73.5L405.4,87.6L406.6,108.6L407.9,120.9L409.1,124.3L410.3,124.9L411.6,125.0L412.8,125.0L414.1,125.0L415.3,125.0L416.6,125.0L417.8,125.0L419.1,125.0L420.3,125.0" fill="none" stroke="#454c63" stroke-width="0.8" stroke-linejoin="round"/>
<path d="M364.3,125.0L365.5,125.0L366.8,125.0L368.0,125.0L369.3,125.0L370.5,124.9L371.8,124.9L373.0,124.8L374.3,124.7L375.5,124.5L376.7,124.3L378.0,124.0L379.2,123.6L380.5,123.0L381.7,122.0L383.0,121.2L384.2,119.7L385.5,118.3L386.7,115.9L387.9,112.9L389.2,111.3L390.4,106.7L391.7,103.8L392.9,98.8L394.2,95.1L395.4,92.8L396.7,85.9L397.9,84.0L399.1,83.1L400.4,80.6L401.6,75.7L402.9,74.7L404.1,75.4L405.4,87.3L406.6,105.5L407.9,118.6L409.1,123.6L410.3,124.8L411.6,125.0L412.8,125.0L414.1,125.0L415.3,125.0L416.6,125.0L417.8,125.0L419.1,125.0L420.3,125.0" fill="none" stroke="#6cb04a" stroke-width="0.9" stroke-linejoin="round"/>
<rect x="363.80" y="67.50" width="57.00" height="58.00" fill="none" stroke="#111" stroke-width="1.1"/>
<text x="359.20" y="127.00" font-size="5.6" text-anchor="end" fill="#111" font-weight="normal">0</text>
<text x="359.20" y="116.04" font-size="5.6" text-anchor="end" fill="#111" font-weight="normal">20</text>
<text x="359.20" y="105.08" font-size="5.6" text-anchor="end" fill="#111" font-weight="normal">40</text>
<text x="359.20" y="94.12" font-size="5.6" text-anchor="end" fill="#111" font-weight="normal">60</text>
<text x="359.20" y="83.16" font-size="5.6" text-anchor="end" fill="#111" font-weight="normal">80</text>
<text x="359.20" y="72.20" font-size="5.6" text-anchor="end" fill="#111" font-weight="normal">100</text>
<text x="370.00" y="134.20" font-size="5.5" text-anchor="middle" fill="#111">10<tspan font-size="3.30" dy="-2.20">1</tspan></text>
<text x="381.50" y="134.20" font-size="5.5" text-anchor="middle" fill="#111">10<tspan font-size="3.30" dy="-2.20">2</tspan></text>
<text x="393.00" y="134.20" font-size="5.5" text-anchor="middle" fill="#111">10<tspan font-size="3.30" dy="-2.20">3</tspan></text>
<text x="404.50" y="134.20" font-size="5.5" text-anchor="middle" fill="#111">10<tspan font-size="3.30" dy="-2.20">4</tspan></text>
<text x="416.00" y="134.20" font-size="5.5" text-anchor="middle" fill="#111">10<tspan font-size="3.30" dy="-2.20">5</tspan></text>
<path d="M361.2,125.0h2.6M361.2,114.0h2.6M361.2,103.1h2.6M361.2,92.1h2.6M361.2,81.2h2.6M361.2,70.2h2.6M370.0,125.5v2M381.5,125.5v2M393.0,125.5v2M404.5,125.5v2M416.0,125.5v2" fill="none" stroke="#111" stroke-width="0.9"/>
<path d="M362.2,122.3h1.6M362.2,119.5h1.6M362.2,116.8h1.6M362.2,111.3h1.6M362.2,108.6h1.6M362.2,105.8h1.6M362.2,100.3h1.6M362.2,97.6h1.6M362.2,94.9h1.6M362.2,89.4h1.6M362.2,86.6h1.6M362.2,83.9h1.6M362.2,78.4h1.6M362.2,75.7h1.6M362.2,72.9h1.6M373.5,125.5v1.2M375.5,125.5v1.2M376.9,125.5v1.2M378.0,125.5v1.2M378.9,125.5v1.2M379.7,125.5v1.2M380.4,125.5v1.2M381.0,125.5v1.2M385.0,125.5v1.2M387.0,125.5v1.2M388.4,125.5v1.2M389.5,125.5v1.2M390.4,125.5v1.2M391.2,125.5v1.2M391.9,125.5v1.2M392.5,125.5v1.2M396.5,125.5v1.2M398.5,125.5v1.2M399.9,125.5v1.2M401.0,125.5v1.2M401.9,125.5v1.2M402.7,125.5v1.2M403.4,125.5v1.2M404.0,125.5v1.2M408.0,125.5v1.2M410.0,125.5v1.2M411.4,125.5v1.2M412.5,125.5v1.2M413.4,125.5v1.2M414.2,125.5v1.2M414.9,125.5v1.2M415.5,125.5v1.2M419.5,125.5v1.2" fill="none" stroke="#111" stroke-width="0.7"/>
<path d="M364.3,197.0L365.5,197.0L366.8,197.0L368.0,197.0L369.3,196.9L370.5,196.7L371.8,196.2L373.0,195.3L374.3,193.0L375.5,189.3L376.7,185.5L378.0,176.4L379.2,169.0L380.5,160.1L381.7,158.6L383.0,156.0L384.2,159.1L385.5,164.3L386.7,177.1L387.9,186.5L389.2,192.1L390.4,195.1L391.7,196.4L392.9,196.8L394.2,197.0L395.4,197.0L396.7,197.0L397.9,197.0L399.1,197.0L400.4,197.0L401.6,197.0L402.9,197.0L404.1,197.0L405.4,197.0L406.6,197.0L407.9,197.0L409.1,197.0L410.3,197.0L411.6,197.0L412.8,197.0L414.1,197.0L415.3,197.0L416.6,197.0L417.8,197.0L419.1,197.0L420.3,197.0L420.3,197.0L364.3,197.0Z" fill="#e7e7e7" stroke="#b8b8b8" stroke-width="0.5"/>
<path d="M364.3,197.0L365.5,197.0L366.8,197.0L368.0,197.0L369.3,197.0L370.5,197.0L371.8,197.0L373.0,197.0L374.3,197.0L375.5,196.9L376.7,196.5L378.0,195.4L379.2,192.9L380.5,186.9L381.7,180.1L383.0,167.5L384.2,162.6L385.5,158.4L386.7,157.8L387.9,164.5L389.2,167.6L390.4,165.4L391.7,161.9L392.9,155.4L394.2,149.8L395.4,143.1L396.7,143.5L397.9,154.2L399.1,164.6L400.4,178.9L401.6,185.8L402.9,192.0L404.1,194.9L405.4,196.3L406.6,196.8L407.9,196.9L409.1,197.0L410.3,197.0L411.6,197.0L412.8,197.0L414.1,197.0L415.3,197.0L416.6,197.0L417.8,197.0L419.1,197.0L420.3,197.0" fill="none" stroke="#454c63" stroke-width="0.8" stroke-linejoin="round"/>
<path d="M364.3,197.0L365.5,197.0L366.8,197.0L368.0,197.0L369.3,197.0L370.5,197.0L371.8,197.0L373.0,197.0L374.3,197.0L375.5,196.9L376.7,196.7L378.0,195.8L379.2,194.0L380.5,190.2L381.7,181.4L383.0,174.5L384.2,163.2L385.5,157.4L386.7,156.5L387.9,156.9L389.2,160.6L390.4,167.5L391.7,163.8L392.9,161.1L394.2,153.2L395.4,149.8L396.7,150.5L397.9,154.7L399.1,163.7L400.4,171.6L401.6,183.3L402.9,190.6L404.1,193.9L405.4,195.9L406.6,196.7L407.9,196.9L409.1,197.0L410.3,197.0L411.6,197.0L412.8,197.0L414.1,197.0L415.3,197.0L416.6,197.0L417.8,197.0L419.1,197.0L420.3,197.0" fill="none" stroke="#6cb04a" stroke-width="0.9" stroke-linejoin="round"/>
<rect x="363.80" y="140.50" width="57.00" height="57.00" fill="none" stroke="#111" stroke-width="1.1"/>
<text x="359.20" y="199.00" font-size="5.6" text-anchor="end" fill="#111" font-weight="normal">0</text>
<text x="359.20" y="188.24" font-size="5.6" text-anchor="end" fill="#111" font-weight="normal">20</text>
<text x="359.20" y="177.48" font-size="5.6" text-anchor="end" fill="#111" font-weight="normal">40</text>
<text x="359.20" y="166.72" font-size="5.6" text-anchor="end" fill="#111" font-weight="normal">60</text>
<text x="359.20" y="155.96" font-size="5.6" text-anchor="end" fill="#111" font-weight="normal">80</text>
<text x="359.20" y="145.20" font-size="5.6" text-anchor="end" fill="#111" font-weight="normal">100</text>
<text x="364.20" y="206.20" font-size="5.5" text-anchor="middle" fill="#111">10<tspan font-size="3.30" dy="-2.20">0</tspan></text>
<text x="374.40" y="206.20" font-size="5.5" text-anchor="middle" fill="#111">10<tspan font-size="3.30" dy="-2.20">1</tspan></text>
<text x="384.60" y="206.20" font-size="5.5" text-anchor="middle" fill="#111">10<tspan font-size="3.30" dy="-2.20">2</tspan></text>
<text x="394.80" y="206.20" font-size="5.5" text-anchor="middle" fill="#111">10<tspan font-size="3.30" dy="-2.20">3</tspan></text>
<text x="405.00" y="206.20" font-size="5.5" text-anchor="middle" fill="#111">10<tspan font-size="3.30" dy="-2.20">4</tspan></text>
<text x="415.20" y="206.20" font-size="5.5" text-anchor="middle" fill="#111">10<tspan font-size="3.30" dy="-2.20">5</tspan></text>
<path d="M361.2,197.0h2.6M361.2,186.2h2.6M361.2,175.5h2.6M361.2,164.7h2.6M361.2,154.0h2.6M361.2,143.2h2.6M364.2,197.5v2M374.4,197.5v2M384.6,197.5v2M394.8,197.5v2M405.0,197.5v2M415.2,197.5v2" fill="none" stroke="#111" stroke-width="0.9"/>
<path d="M362.2,194.3h1.6M362.2,191.6h1.6M362.2,188.9h1.6M362.2,183.6h1.6M362.2,180.9h1.6M362.2,178.2h1.6M362.2,172.8h1.6M362.2,170.1h1.6M362.2,167.4h1.6M362.2,162.0h1.6M362.2,159.3h1.6M362.2,156.7h1.6M362.2,151.3h1.6M362.2,148.6h1.6M362.2,145.9h1.6M367.3,197.5v1.2M369.1,197.5v1.2M370.3,197.5v1.2M371.3,197.5v1.2M372.1,197.5v1.2M372.8,197.5v1.2M373.4,197.5v1.2M373.9,197.5v1.2M377.5,197.5v1.2M379.3,197.5v1.2M380.5,197.5v1.2M381.5,197.5v1.2M382.3,197.5v1.2M383.0,197.5v1.2M383.6,197.5v1.2M384.1,197.5v1.2M387.7,197.5v1.2M389.5,197.5v1.2M390.7,197.5v1.2M391.7,197.5v1.2M392.5,197.5v1.2M393.2,197.5v1.2M393.8,197.5v1.2M394.3,197.5v1.2M397.9,197.5v1.2M399.7,197.5v1.2M400.9,197.5v1.2M401.9,197.5v1.2M402.7,197.5v1.2M403.4,197.5v1.2M404.0,197.5v1.2M404.5,197.5v1.2M408.1,197.5v1.2M409.9,197.5v1.2M411.1,197.5v1.2M412.1,197.5v1.2M412.9,197.5v1.2M413.6,197.5v1.2M414.2,197.5v1.2M414.7,197.5v1.2M418.3,197.5v1.2M420.1,197.5v1.2" fill="none" stroke="#111" stroke-width="0.7"/>
<rect x="442.50" y="68.50" width="55.30" height="57.00" fill="none" stroke="#111" stroke-width="1.25"/>
<line x1="442.50" y1="68.50" x2="497.80" y2="125.50" stroke="#222" stroke-width="0.8"/>
<line x1="442.50" y1="125.50" x2="497.80" y2="68.50" stroke="#222" stroke-width="0.8"/>
<rect x="442.50" y="140.50" width="55.30" height="57.00" fill="none" stroke="#111" stroke-width="1.25"/>
<line x1="442.50" y1="140.50" x2="497.80" y2="197.50" stroke="#222" stroke-width="0.8"/>
<line x1="442.50" y1="197.50" x2="497.80" y2="140.50" stroke="#222" stroke-width="0.8"/>
<text x="8.00" y="230.00" font-size="13.5" text-anchor="start" fill="#111" font-weight="bold">B</text>
<text x="76.90" y="233.00" font-size="8.4" text-anchor="middle" fill="#1a1a1a" font-weight="normal">Ctrl 1</text>
<path d="M81.9,252.7h0.6M77.5,254.6h0.6M79.9,254.1h0.6M78.8,254.1h0.6M74.4,256.7h0.6M82.7,250.4h0.6M68.5,256.2h0.6M67.7,255.0h0.6M73.2,254.9h0.6M72.2,259.7h0.6M80.4,254.7h0.6M64.5,252.9h0.6M75.8,255.4h0.6M74.8,256.1h0.6M58.6,258.6h0.6M82.0,249.4h0.6M76.2,253.9h0.6M70.0,250.7h0.6M65.4,256.1h0.6M81.3,252.9h0.6M85.7,250.4h0.6M85.0,247.9h0.6M74.6,255.0h0.6M79.5,255.2h0.6M66.8,251.0h0.6M72.1,251.6h0.6M74.7,251.8h0.6M72.5,254.2h0.6M75.2,252.5h0.6M82.9,251.2h0.6M73.4,255.3h0.6M74.8,256.9h0.6M73.2,253.4h0.6M82.2,253.8h0.6M68.3,254.2h0.6M76.4,256.5h0.6M80.2,253.2h0.6M57.7,258.3h0.6M65.0,252.4h0.6M69.5,255.2h0.6M75.6,259.1h0.6M72.5,252.8h0.6M82.5,253.0h0.6M70.8,252.9h0.6M74.4,257.1h0.6M78.7,252.7h0.6M80.6,253.4h0.6M65.5,257.1h0.6M78.9,256.7h0.6M73.4,251.9h0.6" fill="none" stroke="#aaa" stroke-width="0.6"/>
<g filter="url(#fb)">
<ellipse cx="71.9" cy="253.8" rx="14.5" ry="3.6" transform="rotate(-9 71.9 253.8)" fill="none" stroke="#888" stroke-width="0.55" opacity="1.0"/>
<ellipse cx="70.9" cy="254.2" rx="12.0" ry="2.9" transform="rotate(-9 70.9 254.2)" fill="none" stroke="#666" stroke-width="0.6" opacity="1.0"/>
<ellipse cx="69.4" cy="254.6" rx="9.5" ry="2.4" transform="rotate(-7 69.4 254.6)" fill="none" stroke="#555" stroke-width="0.6" opacity="1.0"/>
<ellipse cx="62.8" cy="255.9" rx="7.0" ry="2.7" transform="rotate(-3 62.8 255.9)" fill="none" stroke="#1a1a1a" stroke-width="1.2" opacity="1.0"/>
<ellipse cx="63.0" cy="255.8" rx="4.8" ry="1.5" transform="rotate(-3 63.0 255.8)" fill="none" stroke="#444" stroke-width="0.8" opacity="1.0"/>
<ellipse cx="63.4" cy="255.8" rx="2.8" ry="0.6" transform="rotate(-3 63.4 255.8)" fill="#fff" stroke="none" stroke-width="0.5" opacity="1.0"/>
</g>
<path d="M79.6,287.2h0.6M67.2,288.6h0.6M69.6,280.2h0.6M64.8,272.3h0.6M73.6,270.6h0.6M70.8,279.2h0.6M60.2,285.9h0.6M70.1,273.8h0.6M64.4,281.3h0.6M70.4,274.3h0.6M69.5,276.2h0.6M59.3,290.5h0.6M72.0,266.4h0.6M82.8,267.4h0.6M66.5,281.0h0.6M75.5,267.4h0.6M77.8,272.6h0.6M64.1,283.2h0.6M66.4,280.9h0.6M72.6,273.7h0.6M62.6,293.3h0.6M85.1,278.9h0.6M71.3,280.6h0.6M67.5,265.0h0.6M65.3,278.7h0.6M60.8,281.5h0.6M69.9,273.0h0.6M62.0,290.9h0.6M74.5,273.9h0.6M66.6,266.1h0.6M68.9,276.2h0.6M83.9,273.1h0.6M71.4,285.8h0.6M70.3,271.2h0.6M71.9,291.2h0.6M61.3,276.5h0.6M63.1,273.2h0.6M67.1,277.4h0.6M60.8,265.0h0.6M50.5,274.0h0.6M72.2,274.6h0.6M50.9,288.8h0.6M72.6,271.6h0.6M70.0,282.4h0.6M51.3,286.6h0.6M76.9,282.5h0.6M60.4,267.8h0.6M64.2,269.1h0.6M66.4,282.6h0.6M63.1,288.3h0.6M71.9,276.2h0.6M64.7,272.9h0.6M68.9,276.5h0.6M60.2,278.8h0.6M80.4,267.3h0.6M72.1,273.5h0.6M70.3,276.5h0.6M56.0,283.3h0.6M62.8,280.9h0.6M60.6,285.3h0.6M57.2,272.3h0.6M69.1,267.2h0.6M80.5,278.2h0.6M68.2,284.8h0.6M62.5,287.6h0.6M70.7,279.7h0.6M68.7,279.8h0.6M71.1,268.4h0.6M66.4,283.4h0.6M75.0,271.9h0.6M73.8,285.4h0.6M47.2,270.8h0.6M75.2,276.8h0.6M67.3,264.6h0.6M68.2,275.1h0.6M67.4,280.0h0.6M81.3,285.9h0.6M49.6,278.9h0.6M61.6,290.0h0.6M62.5,281.1h0.6M62.7,262.9h0.6M76.7,277.0h0.6M61.9,276.5h0.6M65.5,280.5h0.6M70.6,279.8h0.6M56.2,277.2h0.6M67.6,277.5h0.6M66.0,286.6h0.6M71.7,279.7h0.6M75.6,283.7h0.6M64.2,277.7h0.6M74.3,276.8h0.6M56.2,280.0h0.6M71.4,276.6h0.6M61.6,273.3h0.6M68.2,282.0h0.6M71.9,272.3h0.6M59.8,278.4h0.6M57.9,289.0h0.6M73.4,273.0h0.6M75.1,282.7h0.6M67.4,277.3h0.6M71.0,270.3h0.6M67.2,270.4h0.6M70.4,269.7h0.6M68.0,277.3h0.6M56.1,280.0h0.6M68.7,274.2h0.6M60.1,276.2h0.6M63.0,279.1h0.6M68.7,284.1h0.6M69.2,274.1h0.6M54.7,284.7h0.6M71.0,273.6h0.6M83.6,279.1h0.6M74.2,271.4h0.6M84.1,272.2h0.6M59.7,290.8h0.6M53.7,275.7h0.6M77.9,280.9h0.6M71.1,281.4h0.6M69.7,264.6h0.6M70.8,279.1h0.6M62.3,284.5h0.6M65.3,280.2h0.6M71.9,285.1h0.6M68.0,275.1h0.6M54.2,279.8h0.6M81.1,271.8h0.6M76.6,277.6h0.6M56.3,280.0h0.6M67.3,283.4h0.6M59.0,277.8h0.6M60.1,274.5h0.6M65.8,278.1h0.6M58.6,276.2h0.6M73.1,285.1h0.6M65.1,270.4h0.6M73.3,280.3h0.6M70.7,277.0h0.6M64.7,279.5h0.6M60.4,283.6h0.6M77.5,273.3h0.6M79.1,275.4h0.6M64.8,269.9h0.6M75.8,274.5h0.6M59.8,292.8h0.6M80.3,279.5h0.6M78.0,270.2h0.6M66.9,272.7h0.6M74.5,271.6h0.6M80.0,265.2h0.6M77.7,281.2h0.6M68.7,274.8h0.6M64.1,287.9h0.6M80.3,281.6h0.6M70.4,287.5h0.6M74.8,278.8h0.6M70.1,272.8h0.6M69.8,283.4h0.6M66.8,278.7h0.6M70.2,278.7h0.6M74.8,268.3h0.6M69.1,273.0h0.6M66.2,274.0h0.6M56.4,281.1h0.6M62.6,290.2h0.6M57.0,279.5h0.6M68.4,273.9h0.6M76.5,270.9h0.6M60.5,288.3h0.6M74.1,293.8h0.6M59.8,277.9h0.6M64.4,270.9h0.6M76.4,281.6h0.6M80.8,272.7h0.6M71.0,284.4h0.6M75.7,270.9h0.6M61.6,274.8h0.6M68.7,275.9h0.6M75.9,279.4h0.6M60.8,283.8h0.6M68.8,273.5h0.6M72.7,283.6h0.6M67.4,276.7h0.6M66.0,280.0h0.6M65.5,281.6h0.6M56.9,278.0h0.6M73.7,282.3h0.6M63.5,279.5h0.6M70.8,272.6h0.6M69.8,277.7h0.6M53.2,274.1h0.6M65.3,270.9h0.6M67.3,277.7h0.6M58.4,274.8h0.6M64.5,286.3h0.6M54.1,290.0h0.6M64.1,273.3h0.6M68.1,275.0h0.6M59.4,279.9h0.6M68.1,278.6h0.6M66.6,276.0h0.6M49.0,282.0h0.6M71.4,277.9h0.6M58.2,276.7h0.6M54.6,274.1h0.6M71.9,279.3h0.6M67.1,278.8h0.6M72.8,265.7h0.6M66.4,276.4h0.6M69.2,266.1h0.6M56.8,285.2h0.6M62.8,280.7h0.6M72.2,276.9h0.6M73.6,274.5h0.6M62.3,268.9h0.6M69.2,266.6h0.6M69.8,284.0h0.6M57.7,287.0h0.6M61.2,279.4h0.6M49.6,272.9h0.6M75.9,285.7h0.6M72.5,274.2h0.6M72.8,284.9h0.6M76.0,267.7h0.6M65.7,290.2h0.6M66.4,281.7h0.6M72.8,268.2h0.6M59.1,271.8h0.6M74.2,271.7h0.6M68.7,266.8h0.6M69.0,269.9h0.6M61.6,271.1h0.6M67.1,281.2h0.6M64.1,276.6h0.6M69.3,273.5h0.6M70.4,275.4h0.6M71.5,271.5h0.6M68.5,277.3h0.6M78.4,273.0h0.6M56.3,275.0h0.6M65.6,275.1h0.6M59.8,277.4h0.6M67.1,265.1h0.6M68.2,274.5h0.6M72.3,262.4h0.6M69.5,274.3h0.6M69.2,278.8h0.6M81.3,271.5h0.6M66.7,267.9h0.6M67.6,267.8h0.6M67.5,279.6h0.6M79.3,276.4h0.6M71.1,280.3h0.6M65.9,278.1h0.6M69.1,281.3h0.6M62.7,272.9h0.6M66.2,293.4h0.6M53.2,284.5h0.6" fill="none" stroke="#a0a0a0" stroke-width="0.6"/>
<g filter="url(#fb)">
<ellipse cx="62.4" cy="278.4" rx="7.4" ry="6.6" transform="rotate(-30 62.4 278.4)" fill="#d6d6d6" stroke="#aaa" stroke-width="0.5" opacity="1.0"/>
<ellipse cx="61.9" cy="278.9" rx="6.0" ry="5.4" transform="rotate(0 61.9 278.9)" fill="none" stroke="#999" stroke-width="0.65" opacity="1.0"/>
<ellipse cx="61.9" cy="278.9" rx="4.9" ry="4.4" transform="rotate(0 61.9 278.9)" fill="none" stroke="#888" stroke-width="0.65" opacity="1.0"/>
<ellipse cx="61.9" cy="278.9" rx="3.8" ry="3.4" transform="rotate(0 61.9 278.9)" fill="none" stroke="#777" stroke-width="0.65" opacity="1.0"/>
<ellipse cx="61.9" cy="278.9" rx="2.7" ry="2.4" transform="rotate(0 61.9 278.9)" fill="none" stroke="#777" stroke-width="0.65" opacity="1.0"/>
<ellipse cx="61.9" cy="278.9" rx="1.2" ry="1.1" transform="rotate(0 61.9 278.9)" fill="#f4f4f4" stroke="none" stroke-width="0.5" opacity="1.0"/>
</g>
<rect x="47.40" y="236.60" width="59.00" height="59.00" fill="none" stroke="#b0b0b0" stroke-width="0.8"/>
<rect x="49.20" y="264.60" width="56.20" height="27.00" fill="none" stroke="#666" stroke-width="0.8"/>
<text x="91.90" y="273.40" font-size="4.9" text-anchor="middle" fill="#111" font-weight="bold">45%</text>
<text x="91.90" y="278.60" font-size="5.0" text-anchor="middle" fill="#333" font-weight="normal">enucleated</text>
<text x="91.90" y="283.60" font-size="5.0" text-anchor="middle" fill="#333" font-weight="normal">cells</text>
<text x="44.4" y="244.5" font-size="5.3" text-anchor="end" fill="#222">10<tspan font-size="3.3" dy="-2.1">5</tspan></text>
<text x="44.4" y="256.8" font-size="5.3" text-anchor="end" fill="#222">10<tspan font-size="3.3" dy="-2.1">4</tspan></text>
<text x="44.4" y="270.2" font-size="5.3" text-anchor="end" fill="#222">10<tspan font-size="3.3" dy="-2.1">3</tspan></text>
<text x="44.4" y="284.0" font-size="5.3" text-anchor="end" fill="#222">10<tspan font-size="3.3" dy="-2.1">2</tspan></text>
<text x="44.40" y="289.50" font-size="5.3" text-anchor="end" fill="#222" font-weight="normal">0</text>
<text x="44.4" y="293.2" font-size="5.3" text-anchor="end" fill="#222">10<tspan font-size="3.3" dy="-2.1">2</tspan></text>
<text x="48.8" y="300.2" font-size="5.8" text-anchor="end" fill="#222" transform="rotate(-45 48.8 300.2)">0</text>
<text x="59.9" y="300.2" font-size="5.8" text-anchor="end" fill="#222" transform="rotate(-45 59.9 300.2)">50K</text>
<text x="70.9" y="300.2" font-size="5.8" text-anchor="end" fill="#222" transform="rotate(-45 70.9 300.2)">100K</text>
<text x="82.0" y="300.2" font-size="5.8" text-anchor="end" fill="#222" transform="rotate(-45 82.0 300.2)">150K</text>
<text x="93.0" y="300.2" font-size="5.8" text-anchor="end" fill="#222" transform="rotate(-45 93.0 300.2)">200K</text>
<text x="104.0" y="300.2" font-size="5.8" text-anchor="end" fill="#222" transform="rotate(-45 104.0 300.2)">250K</text>
<path d="M45.6,242.8h1.8M45.6,255.1h1.8M45.6,268.5h1.8M45.6,282.3h1.8M45.6,287.7h1.8M45.6,291.5h1.8M47.6,295.6v1.8M58.7,295.6v1.8M69.7,295.6v1.8M80.8,295.6v1.8M91.8,295.6v1.8M102.8,295.6v1.8" fill="none" stroke="#333" stroke-width="0.5"/>
<path d="M47.6,295.6v1M49.8,295.6v1M52.0,295.6v1M54.2,295.6v1M56.4,295.6v1M58.6,295.6v1M60.8,295.6v1M63.0,295.6v1M65.2,295.6v1M67.4,295.6v1M69.6,295.6v1M71.8,295.6v1M74.0,295.6v1M76.2,295.6v1M78.4,295.6v1M80.6,295.6v1M82.8,295.6v1M85.0,295.6v1M87.2,295.6v1M89.4,295.6v1M91.6,295.6v1M93.8,295.6v1M96.0,295.6v1M98.2,295.6v1M100.4,295.6v1" fill="none" stroke="#555" stroke-width="0.35"/>
<text x="158.00" y="233.00" font-size="8.4" text-anchor="middle" fill="#1a1a1a" font-weight="normal">P1</text>
<path d="M154.2,254.0h0.6M149.4,256.3h0.6M156.1,252.1h0.6M152.7,252.2h0.6M159.0,257.4h0.6M166.6,254.2h0.6M155.7,254.2h0.6M159.5,256.7h0.6M156.1,254.0h0.6M147.5,255.6h0.6M156.6,252.7h0.6M149.1,255.3h0.6M157.9,252.3h0.6M160.7,252.6h0.6M158.4,256.7h0.6M152.2,254.7h0.6M153.5,253.8h0.6M157.5,250.7h0.6M157.3,251.0h0.6M151.5,256.4h0.6M144.5,258.7h0.6M168.2,254.0h0.6M160.2,253.5h0.6M155.0,258.5h0.6M148.8,255.3h0.6M159.1,252.5h0.6M147.4,256.1h0.6M155.2,250.8h0.6M151.4,253.3h0.6M153.8,255.4h0.6M160.7,250.7h0.6M155.1,252.9h0.6M144.7,257.3h0.6M152.3,254.2h0.6M141.7,257.5h0.6M156.1,255.3h0.6M152.6,257.6h0.6M157.6,252.8h0.6M158.6,254.8h0.6M152.0,256.9h0.6M159.0,255.0h0.6M163.4,257.8h0.6M154.9,253.3h0.6M158.6,253.3h0.6M141.4,260.5h0.6M158.1,250.5h0.6M151.4,255.4h0.6M153.3,253.8h0.6M157.7,255.7h0.6M162.4,253.3h0.6" fill="none" stroke="#aaa" stroke-width="0.6"/>
<g filter="url(#fb)">
<ellipse cx="153.0" cy="253.8" rx="14.5" ry="3.6" transform="rotate(-9 153.0 253.8)" fill="none" stroke="#888" stroke-width="0.55" opacity="1.0"/>
<ellipse cx="152.0" cy="254.2" rx="12.0" ry="2.9" transform="rotate(-9 152.0 254.2)" fill="none" stroke="#666" stroke-width="0.6" opacity="1.0"/>
<ellipse cx="150.5" cy="254.6" rx="9.5" ry="2.4" transform="rotate(-7 150.5 254.6)" fill="none" stroke="#555" stroke-width="0.6" opacity="1.0"/>
<ellipse cx="143.9" cy="255.9" rx="7.0" ry="2.7" transform="rotate(-3 143.9 255.9)" fill="none" stroke="#1a1a1a" stroke-width="1.2" opacity="1.0"/>
<ellipse cx="144.1" cy="255.8" rx="4.8" ry="1.5" transform="rotate(-3 144.1 255.8)" fill="none" stroke="#444" stroke-width="0.8" opacity="1.0"/>
<ellipse cx="144.5" cy="255.8" rx="2.8" ry="0.6" transform="rotate(-3 144.5 255.8)" fill="#fff" stroke="none" stroke-width="0.5" opacity="1.0"/>
</g>
<path d="M146.3,267.6h0.6M138.2,282.5h0.6M144.6,279.7h0.6M140.5,276.9h0.6M140.6,266.1h0.6M141.5,284.5h0.6M144.8,271.5h0.6M154.2,284.3h0.6M153.2,265.7h0.6M138.2,269.6h0.6M139.9,272.6h0.6M143.0,281.5h0.6M144.8,276.5h0.6M139.9,287.4h0.6M141.6,271.1h0.6M151.1,282.4h0.6M139.9,284.3h0.6M141.7,286.2h0.6M151.2,273.2h0.6M136.9,273.4h0.6M144.1,284.3h0.6M149.8,275.6h0.6M143.6,278.4h0.6M144.3,262.9h0.6M144.7,278.4h0.6M138.6,278.4h0.6M142.8,271.8h0.6M135.3,274.2h0.6M140.5,280.2h0.6M151.8,273.2h0.6M142.5,273.7h0.6M146.8,274.1h0.6M154.2,272.7h0.6M154.0,275.3h0.6M147.4,277.9h0.6M143.2,283.2h0.6M143.3,273.5h0.6M149.7,280.9h0.6M140.0,265.1h0.6M142.8,279.1h0.6M147.4,270.7h0.6M150.4,279.1h0.6M144.7,266.4h0.6M140.3,275.5h0.6M142.6,278.1h0.6M153.7,272.2h0.6M135.5,274.3h0.6M148.1,269.7h0.6M149.2,284.6h0.6M161.3,278.5h0.6M144.4,289.7h0.6M150.2,282.3h0.6M151.0,282.5h0.6M148.4,277.1h0.6M144.6,273.3h0.6M150.7,281.2h0.6M141.1,281.8h0.6M138.0,274.9h0.6M142.9,292.0h0.6M148.6,274.7h0.6M149.3,262.8h0.6M147.2,273.6h0.6M149.1,267.7h0.6M149.1,276.4h0.6M156.4,269.1h0.6M149.4,279.3h0.6M152.9,278.0h0.6M146.3,271.6h0.6M161.9,281.1h0.6M147.3,273.2h0.6M152.8,268.2h0.6M145.6,268.2h0.6M154.3,265.7h0.6M148.7,272.6h0.6M141.5,272.6h0.6M144.4,271.5h0.6M152.0,268.7h0.6M149.7,280.9h0.6M155.9,278.6h0.6M156.5,274.8h0.6M155.7,278.8h0.6M139.4,282.0h0.6M148.3,276.1h0.6M149.4,269.6h0.6M136.8,279.4h0.6M149.2,270.6h0.6M136.3,292.2h0.6M158.7,275.2h0.6M146.4,276.6h0.6M137.0,276.6h0.6M152.5,271.7h0.6M155.8,271.4h0.6M133.9,286.5h0.6M159.8,272.4h0.6M141.6,276.1h0.6M150.1,270.6h0.6M140.2,282.7h0.6M146.6,273.0h0.6M142.6,282.9h0.6M133.9,280.7h0.6M150.0,288.3h0.6M143.3,284.3h0.6M150.4,283.7h0.6M157.3,270.0h0.6M147.0,271.5h0.6M147.9,282.3h0.6M137.4,277.9h0.6M147.6,275.2h0.6M139.4,267.7h0.6M145.6,277.7h0.6M148.1,277.6h0.6M160.0,284.5h0.6M137.4,276.6h0.6M145.3,263.7h0.6M138.0,276.5h0.6M137.2,275.5h0.6M136.8,277.4h0.6M154.7,283.0h0.6M138.0,285.8h0.6M152.7,276.8h0.6M160.8,272.2h0.6M154.4,268.0h0.6M143.3,289.0h0.6M146.3,269.2h0.6M150.2,281.5h0.6M143.9,282.1h0.6M140.8,285.2h0.6M149.7,275.0h0.6M145.9,277.3h0.6M161.0,278.0h0.6M131.1,279.6h0.6M147.1,277.8h0.6M143.6,285.5h0.6M162.8,260.9h0.6M141.4,281.8h0.6M158.6,276.8h0.6M150.6,279.3h0.6M148.7,276.6h0.6M145.2,275.3h0.6M150.6,274.8h0.6M149.3,273.5h0.6M159.5,271.5h0.6M153.4,285.0h0.6M149.7,277.9h0.6M145.0,267.8h0.6M151.1,266.3h0.6M158.5,275.7h0.6M142.8,272.4h0.6M151.9,272.5h0.6M157.7,268.9h0.6M149.2,276.3h0.6M136.0,273.4h0.6M154.5,276.0h0.6M145.7,274.1h0.6M150.5,269.3h0.6M155.2,275.2h0.6M139.9,278.2h0.6M144.8,275.3h0.6M147.2,271.1h0.6M138.7,274.6h0.6M143.5,282.9h0.6M144.7,262.5h0.6M146.1,269.2h0.6M148.4,279.0h0.6M157.9,269.4h0.6M148.5,271.1h0.6M127.9,276.7h0.6M149.0,268.1h0.6M148.3,283.6h0.6M151.3,270.7h0.6M140.5,272.6h0.6M154.7,265.4h0.6M148.1,277.2h0.6M150.5,282.7h0.6M134.2,278.2h0.6M149.0,275.0h0.6M149.6,265.0h0.6M151.2,268.4h0.6M151.8,288.1h0.6M147.4,267.4h0.6M152.1,271.3h0.6M157.5,275.9h0.6M147.4,272.8h0.6M141.1,264.8h0.6M153.0,283.4h0.6M141.6,273.6h0.6M151.6,279.9h0.6M142.8,267.6h0.6M145.4,279.1h0.6M147.3,266.1h0.6M152.9,283.1h0.6M155.7,263.7h0.6M139.7,280.6h0.6M143.2,277.3h0.6M151.3,279.1h0.6M143.3,273.3h0.6M140.3,278.6h0.6M143.9,278.8h0.6M173.6,268.7h0.6M146.7,280.0h0.6M135.9,274.9h0.6M156.6,279.7h0.6M146.3,284.8h0.6M149.9,276.0h0.6M161.5,268.3h0.6M139.4,282.6h0.6M152.3,286.4h0.6M136.3,291.2h0.6M143.9,266.6h0.6M152.6,273.0h0.6M153.0,275.1h0.6M150.4,278.2h0.6M157.6,274.1h0.6M150.9,269.7h0.6M160.2,264.9h0.6M158.2,274.7h0.6M146.1,280.1h0.6M152.6,272.9h0.6M137.2,279.2h0.6M156.7,269.1h0.6M144.1,283.8h0.6M164.2,282.7h0.6M152.8,273.9h0.6M153.7,274.9h0.6M144.2,291.1h0.6M155.7,265.0h0.6M161.2,272.8h0.6M141.3,271.1h0.6M150.2,275.4h0.6M159.1,279.7h0.6M156.0,268.4h0.6M149.0,285.1h0.6M146.7,274.4h0.6M147.7,281.9h0.6M156.1,277.8h0.6M152.4,278.8h0.6M158.0,279.3h0.6M159.4,271.2h0.6M149.4,277.9h0.6M151.5,272.8h0.6M158.3,265.3h0.6M149.8,273.4h0.6M145.5,279.4h0.6M157.5,265.6h0.6M140.4,275.8h0.6M145.8,289.1h0.6M138.9,283.5h0.6M152.7,278.0h0.6M159.9,273.8h0.6M143.8,278.1h0.6M150.0,271.8h0.6M145.5,280.5h0.6M151.9,287.8h0.6M147.4,280.8h0.6M142.1,280.7h0.6M150.0,273.8h0.6M150.2,275.3h0.6M153.4,267.5h0.6M153.2,281.5h0.6M149.0,281.5h0.6" fill="none" stroke="#a0a0a0" stroke-width="0.6"/>
<g filter="url(#fb)">
<ellipse cx="143.5" cy="278.4" rx="7.4" ry="6.6" transform="rotate(-30 143.5 278.4)" fill="#d6d6d6" stroke="#aaa" stroke-width="0.5" opacity="1.0"/>
<ellipse cx="143.0" cy="278.9" rx="6.0" ry="5.4" transform="rotate(0 143.0 278.9)" fill="none" stroke="#999" stroke-width="0.65" opacity="1.0"/>
<ellipse cx="143.0" cy="278.9" rx="4.9" ry="4.4" transform="rotate(0 143.0 278.9)" fill="none" stroke="#888" stroke-width="0.65" opacity="1.0"/>
<ellipse cx="143.0" cy="278.9" rx="3.8" ry="3.4" transform="rotate(0 143.0 278.9)" fill="none" stroke="#777" stroke-width="0.65" opacity="1.0"/>
<ellipse cx="143.0" cy="278.9" rx="2.7" ry="2.4" transform="rotate(0 143.0 278.9)" fill="none" stroke="#777" stroke-width="0.65" opacity="1.0"/>
<ellipse cx="143.0" cy="278.9" rx="1.2" ry="1.1" transform="rotate(0 143.0 278.9)" fill="#f4f4f4" stroke="none" stroke-width="0.5" opacity="1.0"/>
</g>
<rect x="128.50" y="236.60" width="59.00" height="59.00" fill="none" stroke="#b0b0b0" stroke-width="0.8"/>
<rect x="130.30" y="264.60" width="56.20" height="27.00" fill="none" stroke="#666" stroke-width="0.8"/>
<text x="173.00" y="273.40" font-size="4.9" text-anchor="middle" fill="#111" font-weight="bold">47%</text>
<text x="173.00" y="278.60" font-size="5.0" text-anchor="middle" fill="#333" font-weight="normal">enucleated</text>
<text x="173.00" y="283.60" font-size="5.0" text-anchor="middle" fill="#333" font-weight="normal">cells</text>
<text x="125.5" y="244.5" font-size="5.3" text-anchor="end" fill="#222">10<tspan font-size="3.3" dy="-2.1">5</tspan></text>
<text x="125.5" y="256.8" font-size="5.3" text-anchor="end" fill="#222">10<tspan font-size="3.3" dy="-2.1">4</tspan></text>
<text x="125.5" y="270.2" font-size="5.3" text-anchor="end" fill="#222">10<tspan font-size="3.3" dy="-2.1">3</tspan></text>
<text x="125.5" y="284.0" font-size="5.3" text-anchor="end" fill="#222">10<tspan font-size="3.3" dy="-2.1">2</tspan></text>
<text x="125.50" y="289.50" font-size="5.3" text-anchor="end" fill="#222" font-weight="normal">0</text>
<text x="125.5" y="293.2" font-size="5.3" text-anchor="end" fill="#222">10<tspan font-size="3.3" dy="-2.1">2</tspan></text>
<text x="129.9" y="300.2" font-size="5.8" text-anchor="end" fill="#222" transform="rotate(-45 129.9 300.2)">0</text>
<text x="140.9" y="300.2" font-size="5.8" text-anchor="end" fill="#222" transform="rotate(-45 140.9 300.2)">50K</text>
<text x="152.0" y="300.2" font-size="5.8" text-anchor="end" fill="#222" transform="rotate(-45 152.0 300.2)">100K</text>
<text x="163.0" y="300.2" font-size="5.8" text-anchor="end" fill="#222" transform="rotate(-45 163.0 300.2)">150K</text>
<text x="174.1" y="300.2" font-size="5.8" text-anchor="end" fill="#222" transform="rotate(-45 174.1 300.2)">200K</text>
<text x="185.1" y="300.2" font-size="5.8" text-anchor="end" fill="#222" transform="rotate(-45 185.1 300.2)">250K</text>
<path d="M126.7,242.8h1.8M126.7,255.1h1.8M126.7,268.5h1.8M126.7,282.3h1.8M126.7,287.7h1.8M126.7,291.5h1.8M128.7,295.6v1.8M139.8,295.6v1.8M150.8,295.6v1.8M161.8,295.6v1.8M172.9,295.6v1.8M183.9,295.6v1.8" fill="none" stroke="#333" stroke-width="0.5"/>
<path d="M128.7,295.6v1M130.9,295.6v1M133.1,295.6v1M135.3,295.6v1M137.5,295.6v1M139.7,295.6v1M141.9,295.6v1M144.1,295.6v1M146.3,295.6v1M148.5,295.6v1M150.7,295.6v1M152.9,295.6v1M155.1,295.6v1M157.3,295.6v1M159.5,295.6v1M161.7,295.6v1M163.9,295.6v1M166.1,295.6v1M168.3,295.6v1M170.5,295.6v1M172.7,295.6v1M174.9,295.6v1M177.1,295.6v1M179.3,295.6v1M181.5,295.6v1" fill="none" stroke="#555" stroke-width="0.35"/>
<text x="76.90" y="326.80" font-size="8.4" text-anchor="middle" fill="#1a1a1a" font-weight="normal">Ctrl 2</text>
<path d="M77.8,363.3h0.6M113.5,345.7h0.6M77.2,355.4h0.6M70.6,373.6h0.6M91.4,357.2h0.6M69.1,378.4h0.6M94.1,353.6h0.6M70.3,362.0h0.6M94.8,352.3h0.6M65.4,359.2h0.6M51.0,370.2h0.6M78.2,365.8h0.6M78.5,360.0h0.6M72.4,346.8h0.6M75.1,360.2h0.6M87.7,359.2h0.6M63.7,360.6h0.6M79.7,365.8h0.6M64.2,347.6h0.6M65.5,357.5h0.6M91.3,357.8h0.6M58.9,368.1h0.6M93.9,356.9h0.6M64.5,372.2h0.6M80.2,349.7h0.6M98.6,352.7h0.6M50.2,366.2h0.6M73.3,362.5h0.6M76.8,350.9h0.6M80.2,362.0h0.6M71.9,357.9h0.6M60.2,360.4h0.6M67.0,359.2h0.6M64.9,347.1h0.6M78.5,351.7h0.6M68.4,352.3h0.6M72.3,355.6h0.6M89.7,340.6h0.6M59.1,362.0h0.6M58.3,360.2h0.6M103.6,352.2h0.6M75.2,361.9h0.6M80.8,359.2h0.6M73.7,356.2h0.6M89.3,360.0h0.6M74.0,359.0h0.6M59.2,356.1h0.6M54.6,361.3h0.6M93.8,361.2h0.6M71.6,356.2h0.6M84.1,360.9h0.6M63.5,360.5h0.6M82.7,360.5h0.6M84.9,362.2h0.6M76.3,353.9h0.6M54.3,357.7h0.6M86.9,365.9h0.6M82.8,352.6h0.6M55.1,369.4h0.6M61.1,360.0h0.6M90.5,348.8h0.6M69.5,363.5h0.6M68.3,365.9h0.6M93.3,351.0h0.6M89.3,346.7h0.6M74.6,355.6h0.6M43.4,363.9h0.6M80.4,353.8h0.6M59.6,366.4h0.6M65.2,366.8h0.6M84.9,358.0h0.6M70.5,358.6h0.6M96.2,366.5h0.6M73.2,341.1h0.6M56.3,352.6h0.6M88.4,343.8h0.6M89.7,355.7h0.6M73.9,368.6h0.6M73.0,366.9h0.6M86.1,349.8h0.6M75.0,366.2h0.6M48.7,371.7h0.6M72.1,364.2h0.6M68.6,356.2h0.6M46.3,355.0h0.6M63.6,360.0h0.6M59.4,363.5h0.6M77.2,359.8h0.6M80.6,360.4h0.6M65.8,363.2h0.6M73.9,360.8h0.6M50.7,360.0h0.6M59.8,355.5h0.6M67.4,355.5h0.6M67.8,351.6h0.6M56.9,359.3h0.6M63.4,361.8h0.6M74.6,362.7h0.6M61.4,360.5h0.6M71.2,357.9h0.6M61.9,372.5h0.6M76.3,366.3h0.6M63.5,360.8h0.6M82.5,355.0h0.6M72.8,353.8h0.6M95.8,357.8h0.6M69.3,359.9h0.6M64.7,365.3h0.6M71.5,354.9h0.6M82.0,373.7h0.6M71.4,354.2h0.6M68.7,364.9h0.6M63.4,351.6h0.6M82.8,344.5h0.6M53.7,361.8h0.6M69.0,346.8h0.6M53.3,365.2h0.6M62.4,345.3h0.6M91.9,363.4h0.6M92.7,353.0h0.6M60.1,357.1h0.6M87.0,352.0h0.6M56.8,368.6h0.6M82.2,348.4h0.6M65.0,365.6h0.6M55.7,365.6h0.6M71.6,365.3h0.6M61.6,358.6h0.6M66.9,371.1h0.6M79.2,349.4h0.6M66.4,361.3h0.6M71.7,362.1h0.6M58.2,357.6h0.6M97.2,360.0h0.6M66.0,372.3h0.6M84.4,339.4h0.6M78.2,363.9h0.6M74.2,357.1h0.6M87.9,356.7h0.6M46.9,365.2h0.6M72.8,349.1h0.6M86.9,354.2h0.6M55.1,361.6h0.6M65.6,364.3h0.6M63.0,356.9h0.6M88.5,350.3h0.6M67.5,358.9h0.6M65.9,365.1h0.6M58.0,358.4h0.6M91.5,340.2h0.6M60.6,361.9h0.6M41.3,349.4h0.6M66.9,367.0h0.6M74.7,353.4h0.6M64.1,378.6h0.6M77.4,349.1h0.6M94.3,362.1h0.6M61.9,348.5h0.6M96.9,350.6h0.6M67.5,361.5h0.6M71.6,366.8h0.6M65.4,359.9h0.6M82.0,364.9h0.6M63.3,356.5h0.6M89.3,353.2h0.6M84.9,356.7h0.6M73.7,351.8h0.6M72.4,357.5h0.6M68.7,372.2h0.6M56.8,356.8h0.6M79.4,364.3h0.6M63.8,358.6h0.6M62.5,353.7h0.6M88.0,353.8h0.6M68.4,361.2h0.6M86.3,364.6h0.6M77.6,358.8h0.6M81.6,363.4h0.6M77.7,347.8h0.6M73.7,355.3h0.6M93.0,353.6h0.6M67.4,369.8h0.6M69.5,362.4h0.6M73.2,361.2h0.6M84.1,349.5h0.6M67.1,366.0h0.6M70.4,360.3h0.6M83.2,349.2h0.6M84.5,352.9h0.6M65.6,356.2h0.6M99.8,355.4h0.6M77.8,351.7h0.6M88.1,346.0h0.6M70.0,368.1h0.6M85.5,352.5h0.6M80.7,354.2h0.6M60.5,368.7h0.6M76.2,363.2h0.6M80.9,350.0h0.6M73.9,352.5h0.6M79.5,362.3h0.6M89.4,371.4h0.6M71.4,367.4h0.6M85.1,360.6h0.6M65.2,364.9h0.6M78.7,357.9h0.6M76.3,351.1h0.6M74.3,362.3h0.6M72.4,363.3h0.6M90.2,355.7h0.6M70.1,362.3h0.6M70.7,355.5h0.6M73.6,371.5h0.6M83.0,360.9h0.6M80.9,344.6h0.6M80.2,361.7h0.6M69.2,352.0h0.6M80.2,354.8h0.6M85.3,352.1h0.6M76.7,364.9h0.6M87.3,362.5h0.6M75.1,372.9h0.6M62.5,357.1h0.6M75.8,367.2h0.6M82.0,369.9h0.6M84.4,361.0h0.6M63.6,359.0h0.6M72.7,351.0h0.6M62.7,352.9h0.6M70.3,365.4h0.6M79.7,358.5h0.6M77.7,351.6h0.6M69.3,356.0h0.6M62.1,358.3h0.6M63.2,360.6h0.6M82.7,357.9h0.6M74.7,361.2h0.6M69.5,353.1h0.6M54.3,372.0h0.6M72.9,343.2h0.6M76.1,354.2h0.6M72.9,359.8h0.6M63.2,350.9h0.6M67.3,365.5h0.6M60.8,351.8h0.6M76.6,371.0h0.6M65.2,368.2h0.6M76.1,360.4h0.6M87.5,347.9h0.6M71.6,356.3h0.6M79.8,357.2h0.6M77.5,362.6h0.6M70.8,359.9h0.6M69.1,368.6h0.6M85.5,367.2h0.6M55.0,357.9h0.6M74.5,365.3h0.6M67.1,353.4h0.6M94.9,352.2h0.6M73.0,352.1h0.6M95.8,355.7h0.6M69.7,357.4h0.6M74.0,361.2h0.6M73.7,353.0h0.6M87.9,347.8h0.6M89.6,359.3h0.6M59.7,369.0h0.6M76.1,352.0h0.6M98.9,360.4h0.6M51.1,371.5h0.6M63.3,349.5h0.6M78.5,347.6h0.6M69.4,359.7h0.6M67.2,352.3h0.6M46.1,363.9h0.6M88.8,362.6h0.6M91.0,356.2h0.6M74.7,352.2h0.6M42.2,360.7h0.6M61.7,354.1h0.6M73.5,360.4h0.6M66.9,365.4h0.6M77.4,362.8h0.6M86.9,362.8h0.6M67.6,354.7h0.6M75.8,365.9h0.6M48.8,370.2h0.6M68.3,364.1h0.6M77.0,354.2h0.6M62.6,358.2h0.6M76.6,348.6h0.6M72.3,353.8h0.6M62.9,352.2h0.6M54.5,365.9h0.6M74.9,354.3h0.6M71.9,364.9h0.6M74.6,360.0h0.6M72.6,362.8h0.6M67.2,352.0h0.6M81.7,359.8h0.6" fill="none" stroke="#b0b0b0" stroke-width="0.6"/>
<g filter="url(#fb)">
<ellipse cx="70.9" cy="358.0" rx="15.0" ry="9.8" transform="rotate(-8 70.9 358.0)" fill="#e0e0e0" stroke="#b0b0b0" stroke-width="0.5" opacity="1.0"/>
<ellipse cx="71.4" cy="357.7" rx="12.8" ry="7.8" transform="rotate(-10 71.4 357.7)" fill="#d4d4d4" stroke="#aaa" stroke-width="0.4" opacity="1.0"/>
<ellipse cx="71.9" cy="357.5" rx="10.2" ry="5.6" transform="rotate(-13 71.9 357.5)" fill="#c8c8c8" stroke="#a0a0a0" stroke-width="0.4" opacity="1.0"/>
<ellipse cx="72.9" cy="357.2" rx="7.0" ry="3.2" transform="rotate(-15 72.9 357.2)" fill="#b4b4b4" stroke="#999" stroke-width="0.4" opacity="1.0"/>
<ellipse cx="73.4" cy="357.0" rx="4.8" ry="0.9" transform="rotate(-15 73.4 357.0)" fill="#f6f6f6" stroke="none" stroke-width="0.5" opacity="1.0"/>
</g>
<path d="M60.7,380.3h0.6M68.5,380.9h0.6M88.9,380.4h0.6M67.2,377.9h0.6M63.2,368.6h0.6M64.1,378.9h0.6M59.7,379.9h0.6M70.4,384.3h0.6M82.9,380.1h0.6M61.1,375.2h0.6M76.5,377.3h0.6M67.2,382.6h0.6M68.3,380.3h0.6M69.2,372.0h0.6M65.9,382.1h0.6M58.4,373.7h0.6M71.0,378.5h0.6M70.0,372.2h0.6M66.9,376.0h0.6M72.4,386.4h0.6M64.3,383.1h0.6M60.8,378.4h0.6M69.7,377.0h0.6M76.0,380.9h0.6M58.2,374.3h0.6M63.0,371.3h0.6M74.9,378.0h0.6M63.1,379.6h0.6M64.4,384.6h0.6M76.6,382.5h0.6M71.1,383.3h0.6M70.2,379.3h0.6M74.5,380.7h0.6M71.3,385.6h0.6M80.6,379.7h0.6M74.8,374.1h0.6M62.1,381.1h0.6M62.8,375.5h0.6M61.6,381.3h0.6M57.6,381.8h0.6M74.2,371.9h0.6M70.2,382.5h0.6M58.8,381.4h0.6M64.5,381.8h0.6M72.5,381.4h0.6M49.1,382.2h0.6M79.0,375.3h0.6M84.9,378.0h0.6M57.9,374.6h0.6M77.0,381.8h0.6M62.7,377.5h0.6M51.6,375.3h0.6M57.2,380.3h0.6M65.2,383.1h0.6M68.4,379.0h0.6M71.2,385.2h0.6M64.4,380.1h0.6M63.6,376.3h0.6M60.9,377.6h0.6M58.3,378.6h0.6M64.5,380.8h0.6M73.4,387.2h0.6M63.9,379.0h0.6M70.7,377.3h0.6M74.3,382.4h0.6M67.1,384.2h0.6M62.5,378.6h0.6M64.1,378.7h0.6M57.9,379.2h0.6M73.5,381.6h0.6M73.9,381.5h0.6M73.0,375.8h0.6M64.6,373.0h0.6M83.3,387.7h0.6M66.6,377.8h0.6M70.6,376.1h0.6M75.6,388.5h0.6M56.0,376.9h0.6M75.1,384.8h0.6M72.0,380.6h0.6M66.3,380.1h0.6M63.2,378.1h0.6M63.8,385.6h0.6M54.1,383.4h0.6M56.9,374.0h0.6M52.8,376.2h0.6M70.1,377.8h0.6M67.0,375.9h0.6M68.1,373.6h0.6M68.8,377.8h0.6" fill="none" stroke="#a0a0a0" stroke-width="0.6"/>
<g filter="url(#fb)">
<ellipse cx="62.2" cy="379.6" rx="6.6" ry="5.0" transform="rotate(0 62.2 379.6)" fill="#c8c8c8" stroke="#999" stroke-width="0.5" opacity="1.0"/>
<ellipse cx="62.2" cy="379.6" rx="5.6" ry="4.2" transform="rotate(0 62.2 379.6)" fill="none" stroke="#555" stroke-width="0.7" opacity="1.0"/>
<ellipse cx="62.2" cy="379.6" rx="4.7" ry="3.5" transform="rotate(0 62.2 379.6)" fill="none" stroke="#444" stroke-width="0.7" opacity="1.0"/>
<ellipse cx="62.2" cy="379.6" rx="3.8" ry="2.8" transform="rotate(0 62.2 379.6)" fill="none" stroke="#333" stroke-width="0.7" opacity="1.0"/>
<ellipse cx="62.2" cy="379.6" rx="2.9" ry="2.1" transform="rotate(0 62.2 379.6)" fill="none" stroke="#444" stroke-width="0.7" opacity="1.0"/>
<ellipse cx="62.2" cy="379.6" rx="1.9" ry="1.3" transform="rotate(0 62.2 379.6)" fill="#fff" stroke="none" stroke-width="0.5" opacity="1.0"/>
</g>
<rect x="47.40" y="330.40" width="59.00" height="59.00" fill="none" stroke="#b0b0b0" stroke-width="0.8"/>
<rect x="48.50" y="370.40" width="56.80" height="17.00" fill="none" stroke="#777" stroke-width="0.8"/>
<text x="91.90" y="376.20" font-size="4.9" text-anchor="middle" fill="#111" font-weight="bold">35%</text>
<text x="91.90" y="381.20" font-size="5.0" text-anchor="middle" fill="#333" font-weight="normal">enucleated</text>
<text x="91.90" y="386.20" font-size="5.0" text-anchor="middle" fill="#333" font-weight="normal">cells</text>
<text x="44.4" y="337.9" font-size="5.3" text-anchor="end" fill="#222">10<tspan font-size="3.3" dy="-2.1">5</tspan></text>
<text x="44.4" y="351.3" font-size="5.3" text-anchor="end" fill="#222">10<tspan font-size="3.3" dy="-2.1">4</tspan></text>
<text x="44.4" y="364.4" font-size="5.3" text-anchor="end" fill="#222">10<tspan font-size="3.3" dy="-2.1">3</tspan></text>
<text x="44.4" y="377.5" font-size="5.3" text-anchor="end" fill="#222">10<tspan font-size="3.3" dy="-2.1">2</tspan></text>
<text x="44.40" y="383.00" font-size="5.3" text-anchor="end" fill="#222" font-weight="normal">0</text>
<text x="44.4" y="387.7" font-size="5.3" text-anchor="end" fill="#222">10<tspan font-size="3.3" dy="-2.1">2</tspan></text>
<text x="48.8" y="394.0" font-size="5.8" text-anchor="end" fill="#222" transform="rotate(-45 48.8 394.0)">0</text>
<text x="59.9" y="394.0" font-size="5.8" text-anchor="end" fill="#222" transform="rotate(-45 59.9 394.0)">50K</text>
<text x="70.9" y="394.0" font-size="5.8" text-anchor="end" fill="#222" transform="rotate(-45 70.9 394.0)">100K</text>
<text x="82.0" y="394.0" font-size="5.8" text-anchor="end" fill="#222" transform="rotate(-45 82.0 394.0)">150K</text>
<text x="93.0" y="394.0" font-size="5.8" text-anchor="end" fill="#222" transform="rotate(-45 93.0 394.0)">200K</text>
<text x="104.0" y="394.0" font-size="5.8" text-anchor="end" fill="#222" transform="rotate(-45 104.0 394.0)">250K</text>
<path d="M45.6,336.2h1.8M45.6,349.6h1.8M45.6,362.7h1.8M45.6,375.8h1.8M45.6,381.2h1.8M45.6,386.0h1.8M47.6,389.4v1.8M58.7,389.4v1.8M69.7,389.4v1.8M80.8,389.4v1.8M91.8,389.4v1.8M102.8,389.4v1.8" fill="none" stroke="#333" stroke-width="0.5"/>
<path d="M47.6,389.4v1M49.8,389.4v1M52.0,389.4v1M54.2,389.4v1M56.4,389.4v1M58.6,389.4v1M60.8,389.4v1M63.0,389.4v1M65.2,389.4v1M67.4,389.4v1M69.6,389.4v1M71.8,389.4v1M74.0,389.4v1M76.2,389.4v1M78.4,389.4v1M80.6,389.4v1M82.8,389.4v1M85.0,389.4v1M87.2,389.4v1M89.4,389.4v1M91.6,389.4v1M93.8,389.4v1M96.0,389.4v1M98.2,389.4v1M100.4,389.4v1" fill="none" stroke="#555" stroke-width="0.35"/>
<text x="158.00" y="326.80" font-size="8.4" text-anchor="middle" fill="#1a1a1a" font-weight="normal">P2</text>
<path d="M142.9,369.5h0.6M170.6,349.8h0.6M169.9,356.4h0.6M167.2,359.8h0.6M155.0,354.4h0.6M168.3,349.3h0.6M155.0,362.5h0.6M134.2,367.8h0.6M148.6,357.7h0.6M159.7,356.9h0.6M155.2,353.3h0.6M144.5,358.6h0.6M148.0,353.1h0.6M171.5,365.0h0.6M136.1,360.1h0.6M160.0,339.9h0.6M164.7,355.7h0.6M163.7,362.3h0.6M166.2,345.4h0.6M161.4,357.0h0.6M158.8,346.8h0.6M145.0,365.6h0.6M169.1,365.7h0.6M137.8,371.5h0.6M150.0,357.2h0.6M151.2,363.2h0.6M164.7,349.2h0.6M161.1,357.3h0.6M147.2,366.1h0.6M143.0,357.6h0.6M153.4,358.8h0.6M144.0,357.6h0.6M167.0,355.5h0.6M157.5,356.9h0.6M166.7,363.2h0.6M154.1,363.7h0.6M145.0,360.4h0.6M140.2,358.0h0.6M187.3,343.1h0.6M169.0,356.0h0.6M153.4,343.6h0.6M154.0,347.9h0.6M145.4,355.1h0.6M153.1,370.9h0.6M170.0,341.4h0.6M148.5,353.9h0.6M152.6,346.5h0.6M137.4,361.9h0.6M147.2,367.2h0.6M151.0,360.2h0.6M150.0,364.5h0.6M167.1,353.9h0.6M149.2,363.3h0.6M156.7,364.0h0.6M155.1,358.4h0.6M161.3,350.3h0.6M140.6,364.7h0.6M152.8,362.5h0.6M163.6,357.9h0.6M150.0,370.0h0.6M126.8,359.9h0.6M143.4,374.6h0.6M149.5,357.7h0.6M162.8,364.3h0.6M164.7,354.6h0.6M154.0,350.4h0.6M156.4,355.3h0.6M129.7,366.0h0.6M153.9,363.5h0.6M161.0,356.7h0.6M154.8,369.0h0.6M158.1,364.1h0.6M161.2,365.5h0.6M163.0,347.7h0.6M163.0,366.7h0.6M168.7,351.8h0.6M174.1,358.9h0.6M160.3,351.6h0.6M159.8,360.0h0.6M130.1,361.0h0.6M134.1,350.7h0.6M158.0,363.2h0.6M151.3,348.2h0.6M141.1,367.6h0.6M152.4,360.5h0.6M151.2,359.9h0.6M145.5,355.6h0.6M138.5,362.5h0.6M155.4,365.7h0.6M180.7,352.3h0.6M120.3,358.6h0.6M169.9,357.2h0.6M150.7,352.5h0.6M160.2,358.7h0.6M168.8,363.7h0.6M173.7,359.8h0.6M142.3,365.3h0.6M140.3,356.8h0.6M143.3,352.7h0.6M147.3,370.2h0.6M156.0,368.9h0.6M152.6,345.9h0.6M149.6,370.8h0.6M166.3,353.6h0.6M153.7,366.8h0.6M159.4,355.2h0.6M167.3,354.9h0.6M140.2,351.3h0.6M135.4,379.6h0.6M159.7,368.5h0.6M156.6,358.2h0.6M157.2,359.1h0.6M139.2,361.9h0.6M169.3,369.5h0.6M150.4,362.0h0.6M165.0,365.7h0.6M159.6,354.5h0.6M174.4,354.8h0.6M160.7,376.8h0.6M137.5,362.5h0.6M145.1,371.2h0.6M144.5,362.1h0.6M158.1,354.9h0.6M152.9,355.6h0.6M145.4,354.5h0.6M156.2,355.5h0.6M142.3,358.2h0.6M176.3,343.5h0.6M147.3,356.1h0.6M155.3,363.3h0.6M146.8,362.0h0.6M162.6,367.4h0.6M146.7,355.2h0.6M162.0,355.7h0.6M147.4,358.0h0.6M166.5,343.6h0.6M154.9,369.8h0.6M156.8,351.9h0.6M149.3,366.6h0.6M158.6,354.0h0.6M145.4,351.4h0.6M140.1,364.5h0.6M159.1,353.3h0.6M161.0,351.5h0.6M154.8,343.6h0.6M166.9,367.7h0.6M163.7,355.2h0.6M159.7,357.0h0.6M155.5,357.4h0.6M159.1,354.5h0.6M152.7,355.1h0.6M165.0,364.6h0.6M163.8,358.9h0.6M168.6,348.4h0.6M174.4,338.9h0.6M162.6,356.8h0.6M156.0,346.8h0.6M167.9,356.3h0.6M157.3,364.7h0.6M156.1,358.3h0.6M164.0,355.0h0.6M157.6,354.5h0.6M147.8,360.0h0.6M147.9,361.6h0.6M150.5,355.2h0.6M150.9,350.3h0.6M163.3,359.9h0.6M128.1,365.3h0.6M150.3,363.1h0.6M176.8,348.9h0.6M151.5,352.9h0.6M159.3,361.7h0.6M157.4,358.0h0.6M142.0,360.8h0.6M143.1,358.5h0.6M171.8,354.0h0.6M143.8,353.3h0.6M136.2,359.4h0.6M177.0,350.2h0.6M149.9,351.9h0.6M150.7,365.8h0.6M165.0,353.8h0.6M146.3,365.0h0.6M184.9,370.0h0.6M169.9,354.1h0.6M161.3,353.6h0.6M144.2,356.1h0.6M155.7,362.4h0.6M172.9,362.2h0.6M155.5,342.1h0.6M171.8,356.6h0.6M148.8,368.7h0.6M143.9,358.8h0.6M154.5,357.8h0.6M149.9,344.9h0.6M138.4,361.6h0.6M162.4,355.6h0.6M138.7,353.4h0.6M142.7,368.9h0.6M144.3,366.1h0.6M139.0,354.9h0.6M149.1,368.5h0.6M145.7,358.8h0.6M146.2,356.4h0.6M163.9,350.9h0.6M149.3,350.6h0.6M146.1,360.9h0.6M173.9,365.6h0.6M139.7,360.2h0.6M132.5,361.5h0.6M155.6,362.0h0.6M157.8,349.7h0.6M137.6,351.9h0.6M170.1,344.7h0.6M165.4,356.8h0.6M161.6,344.3h0.6M159.5,359.4h0.6M154.8,361.2h0.6M143.6,371.0h0.6M141.1,360.4h0.6M164.9,358.9h0.6M171.8,353.0h0.6M142.1,363.8h0.6M156.9,345.6h0.6M166.5,363.5h0.6M146.2,366.6h0.6M156.6,364.3h0.6M149.4,365.2h0.6M161.8,356.4h0.6M150.1,358.0h0.6M164.6,365.5h0.6M154.0,364.3h0.6M158.6,370.5h0.6M169.2,359.5h0.6M158.0,353.2h0.6M137.3,368.4h0.6M144.6,355.8h0.6M166.6,356.8h0.6M143.8,369.2h0.6M152.5,365.5h0.6M138.7,351.5h0.6M148.6,365.2h0.6M128.8,356.9h0.6M169.6,371.9h0.6M149.6,352.4h0.6M147.4,354.2h0.6M172.9,358.2h0.6M145.2,366.4h0.6M129.1,365.0h0.6M153.7,356.4h0.6M142.1,356.7h0.6M133.3,366.8h0.6M143.7,364.9h0.6M162.4,350.8h0.6M140.3,362.2h0.6M159.4,346.9h0.6M151.5,351.3h0.6M171.6,356.0h0.6M134.2,359.2h0.6M153.8,354.4h0.6M155.6,360.4h0.6M155.4,354.6h0.6M172.1,359.5h0.6M150.2,358.1h0.6M143.7,350.4h0.6M150.2,359.3h0.6M147.9,352.6h0.6M115.3,355.5h0.6M160.2,342.9h0.6M161.7,361.1h0.6M152.7,358.3h0.6M163.2,355.1h0.6M154.8,364.1h0.6M156.9,371.6h0.6M140.2,358.7h0.6M151.0,359.9h0.6M149.6,372.9h0.6M157.9,343.4h0.6M154.9,362.6h0.6M168.3,357.0h0.6M146.4,365.8h0.6M138.9,362.7h0.6M142.6,370.8h0.6M165.9,370.3h0.6M150.3,358.2h0.6M150.4,367.2h0.6M142.7,366.1h0.6M151.2,363.9h0.6M155.3,351.9h0.6M145.7,347.6h0.6M142.2,356.8h0.6M164.8,352.0h0.6M156.4,355.6h0.6M139.9,366.0h0.6M177.1,356.2h0.6M169.1,358.2h0.6M168.8,368.9h0.6M133.5,358.6h0.6M136.7,362.8h0.6M148.2,354.1h0.6" fill="none" stroke="#b0b0b0" stroke-width="0.6"/>
<g filter="url(#fb)">
<ellipse cx="152.0" cy="358.0" rx="15.0" ry="9.8" transform="rotate(-8 152.0 358.0)" fill="#e0e0e0" stroke="#b0b0b0" stroke-width="0.5" opacity="1.0"/>
<ellipse cx="152.5" cy="357.7" rx="12.8" ry="7.8" transform="rotate(-10 152.5 357.7)" fill="#d4d4d4" stroke="#aaa" stroke-width="0.4" opacity="1.0"/>
<ellipse cx="153.0" cy="357.5" rx="10.2" ry="5.6" transform="rotate(-13 153.0 357.5)" fill="#c8c8c8" stroke="#a0a0a0" stroke-width="0.4" opacity="1.0"/>
<ellipse cx="154.0" cy="357.2" rx="7.0" ry="3.2" transform="rotate(-15 154.0 357.2)" fill="#b4b4b4" stroke="#999" stroke-width="0.4" opacity="1.0"/>
<ellipse cx="154.5" cy="357.0" rx="4.8" ry="0.9" transform="rotate(-15 154.5 357.0)" fill="#f6f6f6" stroke="none" stroke-width="0.5" opacity="1.0"/>
</g>
<path d="M151.5,387.0h0.6M157.8,386.7h0.6M149.2,381.4h0.6M158.4,383.5h0.6M155.2,378.3h0.6M145.4,377.0h0.6M157.1,376.2h0.6M149.6,380.7h0.6M147.6,378.5h0.6M151.3,376.7h0.6M149.3,384.9h0.6M144.5,384.3h0.6M157.1,386.9h0.6M142.2,386.5h0.6M155.6,385.5h0.6M155.2,379.1h0.6M155.0,380.4h0.6M145.1,377.4h0.6M145.3,379.1h0.6M137.3,381.0h0.6M138.8,382.2h0.6M158.2,384.5h0.6M159.7,385.9h0.6M164.9,379.4h0.6M142.6,379.1h0.6M141.6,385.0h0.6M132.2,379.8h0.6M155.0,382.1h0.6M154.5,375.5h0.6M145.4,379.2h0.6M151.9,382.0h0.6M158.9,374.8h0.6M150.6,388.6h0.6M157.6,380.7h0.6M154.6,378.9h0.6M157.9,377.6h0.6M154.3,380.7h0.6M143.3,380.5h0.6M148.1,377.1h0.6M149.7,376.3h0.6M156.4,381.8h0.6M155.6,382.5h0.6M150.5,374.4h0.6M146.5,379.9h0.6M145.1,379.4h0.6M146.1,377.9h0.6M142.5,377.8h0.6M141.0,383.8h0.6M150.5,381.7h0.6M154.2,378.3h0.6M156.1,372.8h0.6M144.4,379.9h0.6M160.3,384.2h0.6M154.4,382.7h0.6M144.9,379.2h0.6M144.2,380.1h0.6M140.2,378.5h0.6M145.2,381.6h0.6M144.4,381.1h0.6M151.9,381.7h0.6M154.0,376.2h0.6M149.2,379.2h0.6M155.9,378.0h0.6M150.6,374.6h0.6M146.4,376.9h0.6M148.3,377.3h0.6M148.1,380.6h0.6M141.7,382.6h0.6M144.5,387.7h0.6M156.2,382.3h0.6M149.2,385.0h0.6M150.6,373.4h0.6M153.2,380.7h0.6M132.1,372.9h0.6M157.7,381.0h0.6M143.7,372.7h0.6M141.3,385.7h0.6M133.0,381.7h0.6M164.9,380.2h0.6M142.2,381.7h0.6M152.8,381.2h0.6M147.2,373.6h0.6M152.0,382.6h0.6M151.3,381.7h0.6M149.5,383.1h0.6M172.1,377.5h0.6M150.4,375.2h0.6M136.1,379.7h0.6M158.1,376.0h0.6M145.2,377.6h0.6" fill="none" stroke="#a0a0a0" stroke-width="0.6"/>
<g filter="url(#fb)">
<ellipse cx="143.3" cy="379.6" rx="6.6" ry="5.0" transform="rotate(0 143.3 379.6)" fill="#c8c8c8" stroke="#999" stroke-width="0.5" opacity="1.0"/>
<ellipse cx="143.3" cy="379.6" rx="5.6" ry="4.2" transform="rotate(0 143.3 379.6)" fill="none" stroke="#555" stroke-width="0.7" opacity="1.0"/>
<ellipse cx="143.3" cy="379.6" rx="4.7" ry="3.5" transform="rotate(0 143.3 379.6)" fill="none" stroke="#444" stroke-width="0.7" opacity="1.0"/>
<ellipse cx="143.3" cy="379.6" rx="3.8" ry="2.8" transform="rotate(0 143.3 379.6)" fill="none" stroke="#333" stroke-width="0.7" opacity="1.0"/>
<ellipse cx="143.3" cy="379.6" rx="2.9" ry="2.1" transform="rotate(0 143.3 379.6)" fill="none" stroke="#444" stroke-width="0.7" opacity="1.0"/>
<ellipse cx="143.3" cy="379.6" rx="1.9" ry="1.3" transform="rotate(0 143.3 379.6)" fill="#fff" stroke="none" stroke-width="0.5" opacity="1.0"/>
</g>
<rect x="128.50" y="330.40" width="59.00" height="59.00" fill="none" stroke="#b0b0b0" stroke-width="0.8"/>
<rect x="129.60" y="370.40" width="56.80" height="17.00" fill="none" stroke="#777" stroke-width="0.8"/>
<text x="173.00" y="376.20" font-size="4.9" text-anchor="middle" fill="#111" font-weight="bold">30%</text>
<text x="173.00" y="381.20" font-size="5.0" text-anchor="middle" fill="#333" font-weight="normal">enucleated</text>
<text x="173.00" y="386.20" font-size="5.0" text-anchor="middle" fill="#333" font-weight="normal">cells</text>
<text x="125.5" y="337.9" font-size="5.3" text-anchor="end" fill="#222">10<tspan font-size="3.3" dy="-2.1">5</tspan></text>
<text x="125.5" y="351.3" font-size="5.3" text-anchor="end" fill="#222">10<tspan font-size="3.3" dy="-2.1">4</tspan></text>
<text x="125.5" y="364.4" font-size="5.3" text-anchor="end" fill="#222">10<tspan font-size="3.3" dy="-2.1">3</tspan></text>
<text x="125.5" y="377.5" font-size="5.3" text-anchor="end" fill="#222">10<tspan font-size="3.3" dy="-2.1">2</tspan></text>
<text x="125.50" y="383.00" font-size="5.3" text-anchor="end" fill="#222" font-weight="normal">0</text>
<text x="125.5" y="387.7" font-size="5.3" text-anchor="end" fill="#222">10<tspan font-size="3.3" dy="-2.1">2</tspan></text>
<text x="129.9" y="394.0" font-size="5.8" text-anchor="end" fill="#222" transform="rotate(-45 129.9 394.0)">0</text>
<text x="140.9" y="394.0" font-size="5.8" text-anchor="end" fill="#222" transform="rotate(-45 140.9 394.0)">50K</text>
<text x="152.0" y="394.0" font-size="5.8" text-anchor="end" fill="#222" transform="rotate(-45 152.0 394.0)">100K</text>
<text x="163.0" y="394.0" font-size="5.8" text-anchor="end" fill="#222" transform="rotate(-45 163.0 394.0)">150K</text>
<text x="174.1" y="394.0" font-size="5.8" text-anchor="end" fill="#222" transform="rotate(-45 174.1 394.0)">200K</text>
<text x="185.1" y="394.0" font-size="5.8" text-anchor="end" fill="#222" transform="rotate(-45 185.1 394.0)">250K</text>
<path d="M126.7,336.2h1.8M126.7,349.6h1.8M126.7,362.7h1.8M126.7,375.8h1.8M126.7,381.2h1.8M126.7,386.0h1.8M128.7,389.4v1.8M139.8,389.4v1.8M150.8,389.4v1.8M161.8,389.4v1.8M172.9,389.4v1.8M183.9,389.4v1.8" fill="none" stroke="#333" stroke-width="0.5"/>
<path d="M128.7,389.4v1M130.9,389.4v1M133.1,389.4v1M135.3,389.4v1M137.5,389.4v1M139.7,389.4v1M141.9,389.4v1M144.1,389.4v1M146.3,389.4v1M148.5,389.4v1M150.7,389.4v1M152.9,389.4v1M155.1,389.4v1M157.3,389.4v1M159.5,389.4v1M161.7,389.4v1M163.9,389.4v1M166.1,389.4v1M168.3,389.4v1M170.5,389.4v1M172.7,389.4v1M174.9,389.4v1M177.1,389.4v1M179.3,389.4v1M181.5,389.4v1" fill="none" stroke="#555" stroke-width="0.35"/>
<path d="M30.6,410.6 L30.6,348" fill="none" stroke="#111" stroke-width="1.2"/>
<path d="M28.2,350 L30.6,344.6 L33,350 Z" fill="#111" stroke="none" stroke-width="1"/>
<path d="M30.6,410.6 L85,410.6" fill="none" stroke="#111" stroke-width="1.2"/>
<path d="M84.3,408 L89.8,410.6 L84.3,413.2 Z" fill="#111" stroke="none" stroke-width="1"/>
<g transform="translate(27.00,377.50) rotate(-90) scale(0.676,1)"><text x="0" y="0" font-size="8.8" text-anchor="middle" fill="#222"><tspan>DRAQ5</tspan></text></g>
<g transform="translate(60.80,419.00) rotate(0) scale(0.667,1)"><text x="0" y="0" font-size="8.3" text-anchor="middle" fill="#222"><tspan>FSC-A</tspan></text></g>
<text x="203.00" y="230.00" font-size="13.5" text-anchor="start" fill="#111" font-weight="bold">C</text>
<rect x="245.00" y="255.30" width="22.00" height="40.30" fill="#9ea1b0" stroke="#9296a6" stroke-width="0.4"/>
<rect x="278.50" y="288.73" width="22.60" height="6.87" fill="#dc9584" stroke="#d08676" stroke-width="0.4"/>
<line x1="256.00" y1="253.92" x2="256.00" y2="256.67" stroke="#c4c8d6" stroke-width="0.6"/>
<line x1="251.50" y1="253.92" x2="260.50" y2="253.92" stroke="#c4c8d6" stroke-width="0.6"/>
<line x1="251.50" y1="256.67" x2="260.50" y2="256.67" stroke="#c4c8d6" stroke-width="0.6"/>
<line x1="250.00" y1="255.30" x2="262.00" y2="255.30" stroke="#c4c8d6" stroke-width="0.7"/>
<line x1="289.60" y1="287.59" x2="289.60" y2="289.88" stroke="#b3203a" stroke-width="0.6"/>
<line x1="285.10" y1="287.59" x2="294.10" y2="287.59" stroke="#b3203a" stroke-width="0.6"/>
<line x1="285.10" y1="289.88" x2="294.10" y2="289.88" stroke="#b3203a" stroke-width="0.6"/>
<line x1="283.60" y1="288.73" x2="295.60" y2="288.73" stroke="#b3203a" stroke-width="0.7"/>
<rect x="249.30" y="251.39" width="1.40" height="1.40" fill="#33446e" stroke="none" stroke-width="1"/>
<rect x="252.30" y="252.31" width="1.40" height="1.40" fill="#33446e" stroke="none" stroke-width="1"/>
<rect x="255.30" y="251.85" width="1.40" height="1.40" fill="#33446e" stroke="none" stroke-width="1"/>
<rect x="258.30" y="252.76" width="1.40" height="1.40" fill="#33446e" stroke="none" stroke-width="1"/>
<rect x="261.30" y="251.39" width="1.40" height="1.40" fill="#33446e" stroke="none" stroke-width="1"/>
<rect x="255.30" y="255.51" width="1.40" height="1.40" fill="#33446e" stroke="none" stroke-width="1"/>
<rect x="254.30" y="262.84" width="1.40" height="1.40" fill="#33446e" stroke="none" stroke-width="1"/>
<rect x="257.30" y="253.68" width="1.40" height="1.40" fill="#33446e" stroke="none" stroke-width="1"/>
<rect x="284.90" y="286.66" width="1.40" height="1.40" fill="#b01c38" stroke="none" stroke-width="1"/>
<rect x="288.90" y="287.57" width="1.40" height="1.40" fill="#b01c38" stroke="none" stroke-width="1"/>
<rect x="291.90" y="286.66" width="1.40" height="1.40" fill="#b01c38" stroke="none" stroke-width="1"/>
<rect x="288.90" y="289.40" width="1.40" height="1.40" fill="#b01c38" stroke="none" stroke-width="1"/>
<line x1="239.20" y1="248.30" x2="239.20" y2="295.60" stroke="#222" stroke-width="0.8"/>
<line x1="239.20" y1="295.60" x2="306.80" y2="295.60" stroke="#222" stroke-width="0.9"/>
<text x="236.60" y="297.80" font-size="6.4" text-anchor="end" fill="#222" font-weight="normal">0</text>
<text x="236.60" y="288.64" font-size="6.4" text-anchor="end" fill="#222" font-weight="normal">20</text>
<text x="236.60" y="279.48" font-size="6.4" text-anchor="end" fill="#222" font-weight="normal">40</text>
<text x="236.60" y="270.32" font-size="6.4" text-anchor="end" fill="#222" font-weight="normal">60</text>
<text x="236.60" y="261.16" font-size="6.4" text-anchor="end" fill="#222" font-weight="normal">80</text>
<text x="236.60" y="252.00" font-size="6.4" text-anchor="end" fill="#222" font-weight="normal">100</text>
<path d="M237.2,295.6h2M237.2,286.4h2M237.2,277.3h2M237.2,268.1h2M237.2,259.0h2M237.2,249.8h2M256,295.6v2.2M289.6,295.6v2.2" fill="none" stroke="#222" stroke-width="0.7"/>
<line x1="256.00" y1="247.30" x2="290.50" y2="247.30" stroke="#222" stroke-width="0.8"/>
<text x="273.30" y="246.50" font-size="5.4" text-anchor="middle" fill="#222" font-weight="normal">****</text>
<text x="256.00" y="307.20" font-size="6.2" text-anchor="middle" fill="#222" font-weight="normal">Control</text>
<text x="289.60" y="307.20" font-size="6.2" text-anchor="middle" fill="#222" font-weight="normal">P3</text>
<g transform="translate(221.80,272.00) rotate(-90) scale(0.763,1)"><text x="0" y="0" font-size="8.4" text-anchor="middle" fill="#222"><tspan>% of GPA</tspan><tspan font-size="5.04" dy="-2.9">+</tspan><tspan font-size="8.40" dy="2.9"> cells</tspan></text></g>
<rect x="245.00" y="340.97" width="22.00" height="26.73" fill="#9ea1b0" stroke="#9296a6" stroke-width="0.4"/>
<rect x="278.50" y="364.29" width="22.60" height="3.41" fill="#dc9584" stroke="#d08676" stroke-width="0.4"/>
<line x1="256.00" y1="338.12" x2="256.00" y2="343.81" stroke="#c4c8d6" stroke-width="0.6"/>
<line x1="251.50" y1="338.12" x2="260.50" y2="338.12" stroke="#c4c8d6" stroke-width="0.6"/>
<line x1="251.50" y1="343.81" x2="260.50" y2="343.81" stroke="#c4c8d6" stroke-width="0.6"/>
<line x1="250.00" y1="340.97" x2="262.00" y2="340.97" stroke="#c4c8d6" stroke-width="0.7"/>
<line x1="289.60" y1="362.58" x2="289.60" y2="365.99" stroke="#b3203a" stroke-width="0.6"/>
<line x1="285.10" y1="362.58" x2="294.10" y2="362.58" stroke="#b3203a" stroke-width="0.6"/>
<line x1="285.10" y1="365.99" x2="294.10" y2="365.99" stroke="#b3203a" stroke-width="0.6"/>
<line x1="283.60" y1="364.29" x2="295.60" y2="364.29" stroke="#b3203a" stroke-width="0.7"/>
<rect x="255.30" y="327.19" width="1.40" height="1.40" fill="#33446e" stroke="none" stroke-width="1"/>
<rect x="253.30" y="332.88" width="1.40" height="1.40" fill="#33446e" stroke="none" stroke-width="1"/>
<rect x="256.30" y="337.43" width="1.40" height="1.40" fill="#33446e" stroke="none" stroke-width="1"/>
<rect x="254.30" y="341.98" width="1.40" height="1.40" fill="#33446e" stroke="none" stroke-width="1"/>
<rect x="257.30" y="343.11" width="1.40" height="1.40" fill="#33446e" stroke="none" stroke-width="1"/>
<rect x="255.30" y="346.52" width="1.40" height="1.40" fill="#33446e" stroke="none" stroke-width="1"/>
<rect x="254.30" y="348.80" width="1.40" height="1.40" fill="#33446e" stroke="none" stroke-width="1"/>
<rect x="258.30" y="339.70" width="1.40" height="1.40" fill="#33446e" stroke="none" stroke-width="1"/>
<rect x="287.90" y="361.31" width="1.40" height="1.40" fill="#b01c38" stroke="none" stroke-width="1"/>
<rect x="288.90" y="363.59" width="1.40" height="1.40" fill="#b01c38" stroke="none" stroke-width="1"/>
<rect x="290.90" y="364.73" width="1.40" height="1.40" fill="#b01c38" stroke="none" stroke-width="1"/>
<rect x="288.90" y="365.86" width="1.40" height="1.40" fill="#b01c38" stroke="none" stroke-width="1"/>
<line x1="239.30" y1="320.70" x2="239.30" y2="367.70" stroke="#222" stroke-width="0.8"/>
<line x1="239.30" y1="367.70" x2="306.80" y2="367.70" stroke="#222" stroke-width="0.9"/>
<text x="236.70" y="369.90" font-size="6.4" text-anchor="end" fill="#222" font-weight="normal">0</text>
<text x="236.70" y="358.52" font-size="6.4" text-anchor="end" fill="#222" font-weight="normal">10</text>
<text x="236.70" y="347.15" font-size="6.4" text-anchor="end" fill="#222" font-weight="normal">20</text>
<text x="236.70" y="335.77" font-size="6.4" text-anchor="end" fill="#222" font-weight="normal">30</text>
<text x="236.70" y="324.40" font-size="6.4" text-anchor="end" fill="#222" font-weight="normal">40</text>
<path d="M237.3,367.7h2M237.3,356.3h2M237.3,344.9h2M237.3,333.6h2M237.3,322.2h2M256,367.7v2.2M289.6,367.7v2.2" fill="none" stroke="#222" stroke-width="0.7"/>
<line x1="256.00" y1="323.00" x2="290.50" y2="323.00" stroke="#222" stroke-width="0.8"/>
<text x="273.30" y="322.20" font-size="5.4" text-anchor="middle" fill="#222" font-weight="normal">***</text>
<text x="256.00" y="378.60" font-size="6.2" text-anchor="middle" fill="#222" font-weight="normal">Control</text>
<text x="289.60" y="378.60" font-size="6.2" text-anchor="middle" fill="#222" font-weight="normal">P3</text>
<g transform="translate(222.30,344.50) rotate(-90) scale(0.743,1)"><text x="0" y="0" font-size="8.4" text-anchor="middle" fill="#222"><tspan>% of band3</tspan><tspan font-size="5.04" dy="-2.9">+</tspan><tspan font-size="8.40" dy="2.9"> cells</tspan></text></g>
<text x="323.00" y="230.00" font-size="13.5" text-anchor="start" fill="#111" font-weight="bold">D</text>
<line x1="370.90" y1="237.78" x2="370.90" y2="316.60" stroke="#222" stroke-width="0.8"/>
<line x1="370.90" y1="316.60" x2="491.78" y2="316.60" stroke="#222" stroke-width="0.8"/>
<text x="368.30" y="318.70" font-size="6.0" text-anchor="end" fill="#222" font-weight="normal">0.1</text>
<text x="368.30" y="305.73" font-size="6.0" text-anchor="end" fill="#222" font-weight="normal">1</text>
<text x="368.30" y="292.76" font-size="6.0" text-anchor="end" fill="#222" font-weight="normal">10</text>
<text x="368.30" y="279.79" font-size="6.0" text-anchor="end" fill="#222" font-weight="normal">100</text>
<text x="368.30" y="266.82" font-size="6.0" text-anchor="end" fill="#222" font-weight="normal">1000</text>
<text x="368.30" y="253.85" font-size="6.0" text-anchor="end" fill="#222" font-weight="normal">10000</text>
<text x="368.30" y="240.88" font-size="6.0" text-anchor="end" fill="#222" font-weight="normal">100000</text>
<text x="370.90" y="324.40" font-size="6.0" text-anchor="middle" fill="#222" font-weight="normal">0</text>
<text x="380.89" y="324.40" font-size="6.0" text-anchor="middle" fill="#222" font-weight="normal">1</text>
<text x="390.88" y="324.40" font-size="6.0" text-anchor="middle" fill="#222" font-weight="normal">2</text>
<text x="400.87" y="324.40" font-size="6.0" text-anchor="middle" fill="#222" font-weight="normal">3</text>
<text x="410.86" y="324.40" font-size="6.0" text-anchor="middle" fill="#222" font-weight="normal">4</text>
<text x="420.85" y="324.40" font-size="6.0" text-anchor="middle" fill="#222" font-weight="normal">5</text>
<text x="430.84" y="324.40" font-size="6.0" text-anchor="middle" fill="#222" font-weight="normal">6</text>
<text x="440.83" y="324.40" font-size="6.0" text-anchor="middle" fill="#222" font-weight="normal">7</text>
<text x="450.82" y="324.40" font-size="6.0" text-anchor="middle" fill="#222" font-weight="normal">8</text>
<text x="460.81" y="324.40" font-size="6.0" text-anchor="middle" fill="#222" font-weight="normal">9</text>
<text x="470.80" y="324.40" font-size="6.0" text-anchor="middle" fill="#222" font-weight="normal">10</text>
<text x="480.79" y="324.40" font-size="6.0" text-anchor="middle" fill="#222" font-weight="normal">11</text>
<text x="490.78" y="324.40" font-size="6.0" text-anchor="middle" fill="#222" font-weight="normal">12</text>
<path d="M368.9,316.6h2M368.9,303.6h2M368.9,290.7h2M368.9,277.7h2M368.9,264.7h2M368.9,251.8h2M368.9,238.8h2M370.9,316.6v2M380.9,316.6v2M390.9,316.6v2M400.9,316.6v2M410.9,316.6v2M420.8,316.6v2M430.8,316.6v2M440.8,316.6v2M450.8,316.6v2M460.8,316.6v2M470.8,316.6v2M480.8,316.6v2M490.8,316.6v2" fill="none" stroke="#222" stroke-width="0.7"/>
<g transform="translate(432.00,335.60) rotate(0) scale(0.793,1)"><text x="0" y="0" font-size="7.8" text-anchor="middle" fill="#222"><tspan>Day</tspan></text></g>
<g transform="translate(343.60,274.80) rotate(-90) scale(0.845,1)"><text x="0" y="0" font-size="7.6" text-anchor="middle" fill="#222"><tspan>Number of cells (× 10</tspan><tspan font-size="4.56" dy="-2.6">6</tspan><tspan font-size="7.60" dy="2.6">)</tspan></text></g>
<path d="M370.9,307.5L380.9,295.8L390.9,290.8L410.9,283.5L420.8,277.4L430.8,269.0L440.8,257.7L450.8,251.3L490.8,245.0" fill="none" stroke="#3b4256" stroke-width="1.0" stroke-linejoin="round"/>
<path d="M380.9,294.6V297.0M379.9,294.6h2M379.9,297.0h2M390.9,288.3V293.3M389.9,288.3h2M389.9,293.3h2M410.9,281.0V286.0M409.9,281.0h2M409.9,286.0h2M430.8,265.0V273.0M429.8,265.0h2M429.8,273.0h2M440.8,254.7V260.7M439.8,254.7h2M439.8,260.7h2M450.8,248.8V253.8M449.8,248.8h2M449.8,253.8h2M490.8,241.5V248.5M489.8,241.5h2M489.8,248.5h2" fill="none" stroke="#777" stroke-width="0.55"/>
<rect x="370.20" y="306.80" width="1.40" height="1.40" fill="#3b4256" stroke="none" stroke-width="1"/>
<rect x="380.19" y="295.10" width="1.40" height="1.40" fill="#3b4256" stroke="none" stroke-width="1"/>
<rect x="390.18" y="290.10" width="1.40" height="1.40" fill="#3b4256" stroke="none" stroke-width="1"/>
<rect x="410.16" y="282.80" width="1.40" height="1.40" fill="#3b4256" stroke="none" stroke-width="1"/>
<rect x="420.15" y="276.70" width="1.40" height="1.40" fill="#3b4256" stroke="none" stroke-width="1"/>
<rect x="430.14" y="268.30" width="1.40" height="1.40" fill="#3b4256" stroke="none" stroke-width="1"/>
<rect x="440.13" y="257.00" width="1.40" height="1.40" fill="#3b4256" stroke="none" stroke-width="1"/>
<rect x="450.12" y="250.60" width="1.40" height="1.40" fill="#3b4256" stroke="none" stroke-width="1"/>
<rect x="490.08" y="244.30" width="1.40" height="1.40" fill="#3b4256" stroke="none" stroke-width="1"/>
<path d="M370.9,307.5L380.9,297.7L390.9,294.7L410.9,284.3L420.8,277.4L430.8,270.4L440.8,263.5L450.8,257.0L490.8,250.8" fill="none" stroke="#34589a" stroke-width="1.0" stroke-linejoin="round"/>
<path d="M380.9,296.7V298.7M379.9,296.7h2M379.9,298.7h2M390.9,293.2V296.2M389.9,293.2h2M389.9,296.2h2M410.9,282.3V286.3M409.9,282.3h2M409.9,286.3h2M420.8,275.4V279.4M419.8,275.4h2M419.8,279.4h2M430.8,268.4V272.4M429.8,268.4h2M429.8,272.4h2M450.8,255.5V258.5M449.8,255.5h2M449.8,258.5h2M490.8,240.8V260.8M489.8,240.8h2M489.8,260.8h2" fill="none" stroke="#8a8a8a" stroke-width="0.55"/>
<rect x="370.20" y="306.80" width="1.40" height="1.40" fill="#34589a" stroke="none" stroke-width="1"/>
<rect x="380.19" y="297.00" width="1.40" height="1.40" fill="#34589a" stroke="none" stroke-width="1"/>
<rect x="390.18" y="294.00" width="1.40" height="1.40" fill="#34589a" stroke="none" stroke-width="1"/>
<rect x="410.16" y="283.60" width="1.40" height="1.40" fill="#34589a" stroke="none" stroke-width="1"/>
<rect x="420.15" y="276.70" width="1.40" height="1.40" fill="#34589a" stroke="none" stroke-width="1"/>
<rect x="430.14" y="269.70" width="1.40" height="1.40" fill="#34589a" stroke="none" stroke-width="1"/>
<rect x="440.13" y="262.80" width="1.40" height="1.40" fill="#34589a" stroke="none" stroke-width="1"/>
<rect x="450.12" y="256.30" width="1.40" height="1.40" fill="#34589a" stroke="none" stroke-width="1"/>
<rect x="490.08" y="250.10" width="1.40" height="1.40" fill="#34589a" stroke="none" stroke-width="1"/>
<path d="M370.9,307.5L380.9,301.0L390.9,297.5L410.9,289.4L420.8,286.6L430.8,282.0L440.8,276.7L450.8,274.4L490.8,267.0" fill="none" stroke="#6fb342" stroke-width="1.0" stroke-linejoin="round"/>
<rect x="370.20" y="306.80" width="1.40" height="1.40" fill="#6fb342" stroke="none" stroke-width="1"/>
<rect x="380.19" y="300.30" width="1.40" height="1.40" fill="#6fb342" stroke="none" stroke-width="1"/>
<rect x="390.18" y="296.80" width="1.40" height="1.40" fill="#6fb342" stroke="none" stroke-width="1"/>
<rect x="410.16" y="288.70" width="1.40" height="1.40" fill="#6fb342" stroke="none" stroke-width="1"/>
<rect x="420.15" y="285.90" width="1.40" height="1.40" fill="#6fb342" stroke="none" stroke-width="1"/>
<rect x="430.14" y="281.30" width="1.40" height="1.40" fill="#6fb342" stroke="none" stroke-width="1"/>
<rect x="440.13" y="276.00" width="1.40" height="1.40" fill="#6fb342" stroke="none" stroke-width="1"/>
<rect x="450.12" y="273.70" width="1.40" height="1.40" fill="#6fb342" stroke="none" stroke-width="1"/>
<rect x="490.08" y="266.30" width="1.40" height="1.40" fill="#6fb342" stroke="none" stroke-width="1"/>
<path d="M370.9,307.5L380.9,304.4L390.9,304.0L410.9,301.8L420.8,305.2L440.8,314.0L450.8,316.0L490.8,314.3" fill="none" stroke="#c0203e" stroke-width="1.0" stroke-linejoin="round"/>
<path d="M380.9,303.2V305.6M379.9,303.2h2M379.9,305.6h2M390.9,301.5V306.5M389.9,301.5h2M389.9,306.5h2M420.8,301.7V308.7M419.8,301.7h2M419.8,308.7h2M440.8,312.0V316.0M439.8,312.0h2M439.8,316.0h2M450.8,314.0V318.0M449.8,314.0h2M449.8,318.0h2M490.8,312.8V315.8M489.8,312.8h2M489.8,315.8h2" fill="none" stroke="#c0203e" stroke-width="0.55"/>
<rect x="370.20" y="306.80" width="1.40" height="1.40" fill="#c0203e" stroke="none" stroke-width="1"/>
<rect x="380.19" y="303.70" width="1.40" height="1.40" fill="#c0203e" stroke="none" stroke-width="1"/>
<rect x="390.18" y="303.30" width="1.40" height="1.40" fill="#c0203e" stroke="none" stroke-width="1"/>
<rect x="410.16" y="301.10" width="1.40" height="1.40" fill="#c0203e" stroke="none" stroke-width="1"/>
<rect x="420.15" y="304.50" width="1.40" height="1.40" fill="#c0203e" stroke="none" stroke-width="1"/>
<rect x="440.13" y="313.30" width="1.40" height="1.40" fill="#c0203e" stroke="none" stroke-width="1"/>
<rect x="450.12" y="315.30" width="1.40" height="1.40" fill="#c0203e" stroke="none" stroke-width="1"/>
<rect x="490.08" y="313.60" width="1.40" height="1.40" fill="#c0203e" stroke="none" stroke-width="1"/>
<text x="420.85" y="301.20" font-size="5" text-anchor="middle" fill="#b01c38" font-weight="normal">**</text>
<text x="440.83" y="308.60" font-size="5" text-anchor="middle" fill="#b01c38" font-weight="normal">**</text>
<text x="450.82" y="310.20" font-size="5" text-anchor="middle" fill="#b01c38" font-weight="normal">**</text>
<text x="490.78" y="308.60" font-size="5" text-anchor="middle" fill="#b01c38" font-weight="normal">**</text>
<line x1="378.50" y1="237.40" x2="390.50" y2="237.40" stroke="#4a5470" stroke-width="1.1"/>
<text x="392.60" y="239.50" font-size="6" text-anchor="start" fill="#4a5470" font-weight="normal">Control</text>
<line x1="378.50" y1="245.60" x2="390.50" y2="245.60" stroke="#34589a" stroke-width="1.1"/>
<text x="392.60" y="247.70" font-size="6" text-anchor="start" fill="#34589a" font-weight="normal">P1</text>
<line x1="378.50" y1="253.80" x2="390.50" y2="253.80" stroke="#6fb342" stroke-width="1.1"/>
<text x="392.60" y="255.90" font-size="6" text-anchor="start" fill="#6fb342" font-weight="normal">P2</text>
<line x1="378.50" y1="262.00" x2="390.50" y2="262.00" stroke="#c0203e" stroke-width="1.1"/>
<text x="392.60" y="264.10" font-size="6" text-anchor="start" fill="#c0203e" font-weight="normal">P3</text>
<text x="8.00" y="438.40" font-size="13.5" text-anchor="start" fill="#111" font-weight="bold">E</text>
<text x="75.20" y="454.60" font-size="8.4" text-anchor="middle" fill="#222" font-weight="normal">Control</text>
<text x="75.2" y="532.4" font-size="8.4" text-anchor="middle" fill="#222">ENT1<tspan font-size="6" font-style="italic" dy="2.3">null</tspan><tspan dy="-2.3">P3</tspan></text>
<rect x="39.20" y="457.00" width="72.70" height="62.20" fill="url(#bgE)" stroke="#555" stroke-width="0.8"/>
<circle cx="60.4" cy="475" r="3.7" fill="#aeaed8" stroke="#5e5488" stroke-width="0.45"/>
<circle cx="65.8" cy="472.3" r="3.7" fill="#aeaed8" stroke="#5e5488" stroke-width="0.45"/>
<circle cx="72.3" cy="472.7" r="3.7" fill="#aeaed8" stroke="#5e5488" stroke-width="0.45"/>
<circle cx="78" cy="473.5" r="3.7" fill="#aeaed8" stroke="#5e5488" stroke-width="0.45"/>
<circle cx="85.8" cy="475.8" r="3.7" fill="#aeaed8" stroke="#5e5488" stroke-width="0.45"/>
<circle cx="61.2" cy="481.2" r="3.7" fill="#aeaed8" stroke="#5e5488" stroke-width="0.45"/>
<circle cx="68.5" cy="480" r="3.7" fill="#aeaed8" stroke="#5e5488" stroke-width="0.45"/>
<circle cx="74.6" cy="478.5" r="3.7" fill="#aeaed8" stroke="#5e5488" stroke-width="0.45"/>
<circle cx="80.4" cy="480.4" r="3.7" fill="#aeaed8" stroke="#5e5488" stroke-width="0.45"/>
<circle cx="86" cy="481.5" r="3.7" fill="#aeaed8" stroke="#5e5488" stroke-width="0.45"/>
<circle cx="64.2" cy="486.9" r="3.7" fill="#aeaed8" stroke="#5e5488" stroke-width="0.45"/>
<circle cx="71.9" cy="486.5" r="3.7" fill="#aeaed8" stroke="#5e5488" stroke-width="0.45"/>
<circle cx="76.5" cy="483.8" r="3.7" fill="#aeaed8" stroke="#5e5488" stroke-width="0.45"/>
<circle cx="83" cy="487.3" r="3.7" fill="#aeaed8" stroke="#5e5488" stroke-width="0.45"/>
<circle cx="69.2" cy="491.2" r="3.7" fill="#aeaed8" stroke="#5e5488" stroke-width="0.45"/>
<circle cx="75.8" cy="492.3" r="3.7" fill="#aeaed8" stroke="#5e5488" stroke-width="0.45"/>
<circle cx="81.9" cy="492.3" r="3.7" fill="#aeaed8" stroke="#5e5488" stroke-width="0.45"/>
<circle cx="73.5" cy="496.5" r="3.7" fill="#aeaed8" stroke="#5e5488" stroke-width="0.45"/>
<circle cx="60.0" cy="475.1" r="2.5" fill="#703f9c"/>
<circle cx="65.6" cy="472.5" r="2.5" fill="#703f9c"/>
<circle cx="72.5" cy="472.0" r="2.5" fill="#703f9c"/>
<circle cx="77.2" cy="474.0" r="2.5" fill="#703f9c"/>
<circle cx="85.4" cy="475.4" r="2.5" fill="#703f9c"/>
<circle cx="62.0" cy="481.2" r="2.5" fill="#703f9c"/>
<circle cx="69.0" cy="480.0" r="2.5" fill="#703f9c"/>
<circle cx="74.8" cy="477.9" r="2.5" fill="#703f9c"/>
<circle cx="80.6" cy="481.0" r="2.5" fill="#703f9c"/>
<circle cx="86.0" cy="481.9" r="2.5" fill="#703f9c"/>
<circle cx="64.5" cy="486.2" r="2.5" fill="#703f9c"/>
<circle cx="72.3" cy="486.6" r="2.5" fill="#703f9c"/>
<circle cx="76.2" cy="483.0" r="2.5" fill="#703f9c"/>
<circle cx="83.6" cy="487.3" r="2.5" fill="#703f9c"/>
<circle cx="69.6" cy="491.8" r="2.5" fill="#703f9c"/>
<circle cx="76.1" cy="493.0" r="2.5" fill="#703f9c"/>
<circle cx="81.7" cy="492.8" r="2.5" fill="#703f9c"/>
<circle cx="73.4" cy="497.2" r="2.5" fill="#703f9c"/>
<circle cx="87.7" cy="499.5" r="2.6" fill="#a8a6d2" stroke="#9390c4" stroke-width="0.4"/>
<circle cx="87.4" cy="499.3" r="1.8" fill="#6c4596"/>
<circle cx="91.1" cy="506" r="2.9" fill="#a8a6d2" stroke="#9390c4" stroke-width="0.4"/>
<circle cx="90.8" cy="505.8" r="2.0" fill="#6c4596"/>
<path d="M66.4,457.5 A3.2,2.4 0 0 0 72.8,457.5 Z" fill="#9a68b8" opacity="0.85"/>
<rect x="104.50" y="513.80" width="4.70" height="2.00" fill="#111" stroke="none" stroke-width="1"/>
<rect x="39.20" y="536.20" width="72.70" height="62.00" fill="url(#bgE2)" stroke="#555" stroke-width="0.8"/>
<circle cx="47" cy="556.6" r="4.2" fill="#a898c8"/>
<circle cx="46.8" cy="556.4" r="3.4" fill="#8a6fb2"/>
<circle cx="47.1" cy="556.5" r="1.3" fill="#6a4c96" opacity="0.6"/>
<circle cx="47.3" cy="556.9" r="1.3" fill="#6a4c96" opacity="0.6"/>
<circle cx="47.9" cy="556.4" r="1.3" fill="#6a4c96" opacity="0.6"/>
<circle cx="54.2" cy="558.9" r="3.6" fill="#a898c8"/>
<circle cx="54.0" cy="558.6999999999999" r="2.9" fill="#8a6fb2"/>
<circle cx="53.8" cy="558.5" r="1.1" fill="#6a4c96" opacity="0.6"/>
<circle cx="53.5" cy="558.9" r="1.1" fill="#6a4c96" opacity="0.6"/>
<circle cx="53.6" cy="559.7" r="1.1" fill="#6a4c96" opacity="0.6"/>
<circle cx="58.8" cy="554.3" r="4" fill="#a898c8"/>
<circle cx="58.599999999999994" cy="554.0999999999999" r="3.2" fill="#8a6fb2"/>
<circle cx="57.2" cy="553.4" r="1.2" fill="#6a4c96" opacity="0.6"/>
<circle cx="58.0" cy="552.6" r="1.2" fill="#6a4c96" opacity="0.6"/>
<circle cx="60.0" cy="552.7" r="1.2" fill="#6a4c96" opacity="0.6"/>
<circle cx="60.4" cy="560.5" r="3.4" fill="#a898c8"/>
<circle cx="60.199999999999996" cy="560.3" r="2.7" fill="#8a6fb2"/>
<circle cx="60.3" cy="560.3" r="1.0" fill="#6a4c96" opacity="0.6"/>
<circle cx="61.4" cy="559.2" r="1.0" fill="#6a4c96" opacity="0.6"/>
<circle cx="61.2" cy="560.0" r="1.0" fill="#6a4c96" opacity="0.6"/>
<circle cx="102.2" cy="548.2" r="4" fill="#a898c8"/>
<circle cx="102.0" cy="548.0" r="3.2" fill="#8a6fb2"/>
<circle cx="102.1" cy="547.8" r="1.2" fill="#6a4c96" opacity="0.6"/>
<circle cx="102.8" cy="547.2" r="1.2" fill="#6a4c96" opacity="0.6"/>
<circle cx="102.2" cy="548.3" r="1.2" fill="#6a4c96" opacity="0.6"/>
<circle cx="90" cy="565.8" r="3.1" fill="#a898c8"/>
<circle cx="89.8" cy="565.5999999999999" r="2.5" fill="#8a6fb2"/>
<circle cx="90.9" cy="564.6" r="0.9" fill="#6a4c96" opacity="0.6"/>
<circle cx="91.1" cy="566.5" r="0.9" fill="#6a4c96" opacity="0.6"/>
<circle cx="89.8" cy="565.9" r="0.9" fill="#6a4c96" opacity="0.6"/>
<circle cx="96.2" cy="565" r="3.4" fill="#a898c8"/>
<circle cx="96.0" cy="564.8" r="2.7" fill="#8a6fb2"/>
<circle cx="95.8" cy="566.3" r="1.0" fill="#6a4c96" opacity="0.6"/>
<circle cx="96.3" cy="564.9" r="1.0" fill="#6a4c96" opacity="0.6"/>
<circle cx="96.1" cy="564.9" r="1.0" fill="#6a4c96" opacity="0.6"/>
<circle cx="48" cy="577.4" r="2.8" fill="#a898c8"/>
<circle cx="47.8" cy="577.1999999999999" r="2.2" fill="#8a6fb2"/>
<circle cx="47.9" cy="576.9" r="0.8" fill="#6a4c96" opacity="0.6"/>
<circle cx="49.0" cy="576.5" r="0.8" fill="#6a4c96" opacity="0.6"/>
<circle cx="46.6" cy="577.4" r="0.8" fill="#6a4c96" opacity="0.6"/>
<circle cx="69.2" cy="574.3" r="3.5" fill="#a898c8"/>
<circle cx="69.0" cy="574.0999999999999" r="2.8" fill="#8a6fb2"/>
<circle cx="69.2" cy="574.4" r="1.1" fill="#6a4c96" opacity="0.6"/>
<circle cx="69.2" cy="574.3" r="1.1" fill="#6a4c96" opacity="0.6"/>
<circle cx="69.4" cy="575.0" r="1.1" fill="#6a4c96" opacity="0.6"/>
<circle cx="80" cy="578.6" r="3.5" fill="#a898c8"/>
<circle cx="79.8" cy="578.4" r="2.8" fill="#8a6fb2"/>
<circle cx="79.8" cy="578.4" r="1.1" fill="#6a4c96" opacity="0.6"/>
<circle cx="81.5" cy="579.0" r="1.1" fill="#6a4c96" opacity="0.6"/>
<circle cx="79.3" cy="580.1" r="1.1" fill="#6a4c96" opacity="0.6"/>
<circle cx="62.4" cy="589.2" r="3.5" fill="#a898c8"/>
<circle cx="62.199999999999996" cy="589.0" r="2.8" fill="#8a6fb2"/>
<circle cx="62.9" cy="588.8" r="1.1" fill="#6a4c96" opacity="0.6"/>
<circle cx="61.5" cy="589.4" r="1.1" fill="#6a4c96" opacity="0.6"/>
<circle cx="61.8" cy="588.4" r="1.1" fill="#6a4c96" opacity="0.6"/>
<rect x="53.00" y="542.00" width="0.70" height="0.70" fill="#999" stroke="none" stroke-width="1"/>
<rect x="70.00" y="561.00" width="0.70" height="0.70" fill="#999" stroke="none" stroke-width="1"/>
<rect x="100.00" y="590.00" width="0.70" height="0.70" fill="#999" stroke="none" stroke-width="1"/>
<rect x="45.00" y="594.00" width="0.70" height="0.70" fill="#999" stroke="none" stroke-width="1"/>
<rect x="87.00" y="555.00" width="0.70" height="0.70" fill="#999" stroke="none" stroke-width="1"/>
<circle cx="64.2" cy="578.2" r="3.4" fill="#c4b6dc"/><circle cx="64.6" cy="577.8" r="2.4" fill="#ad98cc" opacity="0.8"/>
<rect x="103.50" y="592.50" width="4.20" height="2.00" fill="#111" stroke="none" stroke-width="1"/>
<rect x="45.80" y="632.21" width="5.40" height="32.39" fill="#434c64" stroke="none" stroke-width="1"/>
<line x1="48.50" y1="630.01" x2="48.50" y2="632.21" stroke="#434c64" stroke-width="0.6"/>
<line x1="47.00" y1="630.01" x2="50.00" y2="630.01" stroke="#434c64" stroke-width="0.6"/>
<rect x="45.80" y="659.11" width="5.40" height="5.49" fill="#b50f2c" stroke="none" stroke-width="1"/>
<line x1="48.50" y1="658.01" x2="48.50" y2="659.11" stroke="#b50f2c" stroke-width="0.6"/>
<line x1="47.00" y1="658.01" x2="50.00" y2="658.01" stroke="#b50f2c" stroke-width="0.6"/>
<rect x="54.02" y="642.09" width="5.40" height="22.51" fill="#434c64" stroke="none" stroke-width="1"/>
<line x1="56.72" y1="641.54" x2="56.72" y2="642.09" stroke="#434c64" stroke-width="0.6"/>
<line x1="55.22" y1="641.54" x2="58.22" y2="641.54" stroke="#434c64" stroke-width="0.6"/>
<rect x="54.02" y="663.50" width="5.40" height="1.10" fill="#b50f2c" stroke="none" stroke-width="1"/>
<rect x="62.24" y="659.38" width="5.40" height="5.22" fill="#434c64" stroke="none" stroke-width="1"/>
<line x1="64.94" y1="658.01" x2="64.94" y2="659.38" stroke="#434c64" stroke-width="0.6"/>
<line x1="63.44" y1="658.01" x2="66.44" y2="658.01" stroke="#434c64" stroke-width="0.6"/>
<rect x="70.46" y="663.78" width="5.40" height="0.82" fill="#434c64" stroke="none" stroke-width="1"/>
<rect x="78.68" y="663.23" width="5.40" height="1.37" fill="#b50f2c" stroke="none" stroke-width="1"/>
<line x1="81.38" y1="662.79" x2="81.38" y2="663.23" stroke="#b50f2c" stroke-width="0.6"/>
<line x1="79.88" y1="662.79" x2="82.88" y2="662.79" stroke="#b50f2c" stroke-width="0.6"/>
<rect x="86.90" y="659.11" width="5.40" height="5.49" fill="#b50f2c" stroke="none" stroke-width="1"/>
<line x1="89.60" y1="657.19" x2="89.60" y2="659.11" stroke="#b50f2c" stroke-width="0.6"/>
<line x1="88.10" y1="657.19" x2="91.10" y2="657.19" stroke="#b50f2c" stroke-width="0.6"/>
<rect x="95.12" y="660.76" width="5.40" height="3.84" fill="#b50f2c" stroke="none" stroke-width="1"/>
<line x1="97.82" y1="658.84" x2="97.82" y2="660.76" stroke="#b50f2c" stroke-width="0.6"/>
<line x1="96.32" y1="658.84" x2="99.32" y2="658.84" stroke="#b50f2c" stroke-width="0.6"/>
<rect x="103.34" y="638.25" width="5.40" height="26.35" fill="#b50f2c" stroke="none" stroke-width="1"/>
<line x1="106.04" y1="636.60" x2="106.04" y2="638.25" stroke="#b50f2c" stroke-width="0.6"/>
<line x1="104.54" y1="636.60" x2="107.54" y2="636.60" stroke="#b50f2c" stroke-width="0.6"/>
<rect x="111.56" y="662.40" width="5.40" height="2.20" fill="#b50f2c" stroke="none" stroke-width="1"/>
<rect x="119.78" y="664.05" width="5.40" height="0.55" fill="#b50f2c" stroke="none" stroke-width="1"/>
<text x="48.50" y="629.60" font-size="5.6" text-anchor="middle" fill="#222" font-weight="normal">****</text>
<text x="56.72" y="640.20" font-size="5.6" text-anchor="middle" fill="#222" font-weight="normal">****</text>
<text x="64.94" y="657.60" font-size="5.6" text-anchor="middle" fill="#222" font-weight="normal">*</text>
<text x="89.60" y="656.40" font-size="5.6" text-anchor="middle" fill="#222" font-weight="normal">**</text>
<text x="106.04" y="636.40" font-size="5.6" text-anchor="middle" fill="#222" font-weight="normal">****</text>
<line x1="43.40" y1="608.70" x2="43.40" y2="664.60" stroke="#222" stroke-width="0.8"/>
<line x1="43.40" y1="664.60" x2="126.00" y2="664.60" stroke="#222" stroke-width="0.9"/>
<text x="40.60" y="666.70" font-size="6" text-anchor="end" fill="#222" font-weight="normal">0</text>
<text x="40.60" y="655.72" font-size="6" text-anchor="end" fill="#222" font-weight="normal">20</text>
<text x="40.60" y="644.74" font-size="6" text-anchor="end" fill="#222" font-weight="normal">40</text>
<text x="40.60" y="633.76" font-size="6" text-anchor="end" fill="#222" font-weight="normal">60</text>
<text x="40.60" y="622.78" font-size="6" text-anchor="end" fill="#222" font-weight="normal">80</text>
<text x="40.60" y="611.80" font-size="6" text-anchor="end" fill="#222" font-weight="normal">100</text>
<path d="M41.4,664.6h2M41.4,653.6h2M41.4,642.6h2M41.4,631.7h2M41.4,620.7h2M41.4,609.7h2M48.5,664.6v2M56.7,664.6v2M64.9,664.6v2M73.2,664.6v2M81.4,664.6v2M89.6,664.6v2M97.8,664.6v2M106.0,664.6v2M114.3,664.6v2M122.5,664.6v2" fill="none" stroke="#222" stroke-width="0.7"/>
<rect x="46.60" y="609.40" width="5.00" height="2.10" fill="#434c64" stroke="none" stroke-width="1"/>
<text x="53.50" y="612.40" font-size="5.8" text-anchor="start" fill="#222" font-weight="normal">Control</text>
<rect x="46.60" y="615.60" width="5.00" height="2.10" fill="#b50f2c" stroke="none" stroke-width="1"/>
<text x="53.50" y="618.60" font-size="5.8" text-anchor="start" fill="#222" font-weight="normal">P3</text>
<g transform="translate(26.40,635.40) rotate(-90) scale(0.725,1)"><text x="0" y="0" font-size="8.8" text-anchor="middle" fill="#222"><tspan>% of cells</tspan></text></g>
<text x="50.40" y="668.70" font-size="6" text-anchor="end" fill="#222" font-weight="normal" transform="rotate(-90 50.4 668.7)">Proerythroblasts</text>
<text x="58.62" y="668.70" font-size="6" text-anchor="end" fill="#222" font-weight="normal" transform="rotate(-90 58.62 668.7)">Basophilic erythroblasts</text>
<text x="66.84" y="668.70" font-size="6" text-anchor="end" fill="#222" font-weight="normal" transform="rotate(-90 66.83999999999999 668.7)">Polychromatic erythroblasts</text>
<text x="75.06" y="668.70" font-size="6" text-anchor="end" fill="#222" font-weight="normal" transform="rotate(-90 75.06 668.7)">Orthochromatic erythroblasts</text>
<text x="83.28" y="668.70" font-size="6" text-anchor="end" fill="#222" font-weight="normal" transform="rotate(-90 83.28 668.7)">Promyelocytes</text>
<text x="91.50" y="668.70" font-size="6" text-anchor="end" fill="#222" font-weight="normal" transform="rotate(-90 91.5 668.7)">Myelocytes</text>
<text x="99.72" y="668.70" font-size="6" text-anchor="end" fill="#222" font-weight="normal" transform="rotate(-90 99.72 668.7)">Metamyelocytes</text>
<text x="107.94" y="668.70" font-size="6" text-anchor="end" fill="#222" font-weight="normal" transform="rotate(-90 107.94 668.7)">Polynuclear neutrophils</text>
<text x="116.16" y="668.70" font-size="6" text-anchor="end" fill="#222" font-weight="normal" transform="rotate(-90 116.16 668.7)">Eosinophils</text>
<text x="124.38" y="668.70" font-size="6" text-anchor="end" fill="#222" font-weight="normal" transform="rotate(-90 124.38 668.7)">Macrophages</text>
<line x1="46.50" y1="751.30" x2="75.80" y2="751.30" stroke="#c0304c" stroke-width="0.9"/>
<text x="61.00" y="758.20" font-size="6.1" text-anchor="middle" fill="#c0304c" font-weight="normal">Erythroid</text>
<line x1="80.20" y1="751.30" x2="128.80" y2="751.30" stroke="#7d5d9d" stroke-width="0.9"/>
<text x="104.30" y="758.20" font-size="6.1" text-anchor="middle" fill="#7d5d9d" font-weight="normal">Myeloid</text>
<text x="145.30" y="439.80" font-size="13.5" text-anchor="start" fill="#111" font-weight="bold">F</text>
<text x="260.50" y="435.40" font-size="8.4" text-anchor="middle" fill="#222" font-weight="normal">Control</text>
<text x="434.8" y="435.6" font-size="8.4" text-anchor="middle" fill="#222">ENT1<tspan font-size="6" font-style="italic" dy="2.3">null</tspan><tspan dy="-2.3">P3</tspan></text>
<path d="M183.9,444.29999999999995 L183.9,440.9 L336.5,440.9 L336.5,444.29999999999995" fill="none" stroke="#222" stroke-width="1"/>
<path d="M358.5,444.29999999999995 L358.5,440.9 L511.2,440.9 L511.2,444.29999999999995" fill="none" stroke="#222" stroke-width="1"/>
<text x="157.00" y="478.30" font-size="8.4" text-anchor="middle" fill="#222" font-weight="normal">IL-3R</text>
<text x="157.00" y="550.30" font-size="8.4" text-anchor="middle" fill="#222" font-weight="normal">CD38</text>
<text x="157.00" y="620.20" font-size="8.4" text-anchor="middle" fill="#222" font-weight="normal">CD33</text>
<path d="M183.2,502.6L184.4,502.1L185.7,501.3L186.9,500.0L188.2,498.4L189.4,496.9L190.7,493.4L191.9,489.2L193.2,482.7L194.4,471.0L195.7,462.8L196.9,456.7L198.2,460.9L199.4,469.7L200.7,485.2L201.9,496.1L203.2,501.1L204.4,502.5L205.7,502.8L206.9,502.9L208.2,502.9L209.4,502.9L210.7,502.9L211.9,502.9L213.2,502.9L214.4,502.9L215.7,502.9L216.9,502.9L218.2,502.9L219.4,502.9L220.7,502.9L221.9,502.9L223.2,502.9L224.4,502.9L225.7,502.9L226.9,502.9L228.2,502.9L229.4,502.9L230.7,502.9L231.9,502.9L233.2,502.9L234.4,502.9L235.7,502.9L236.9,502.9L238.2,502.9L238.2,502.90000000000003L183.2,502.90000000000003Z" fill="#e7e7e7" stroke="#b8b8b8" stroke-width="0.5"/>
<path d="M183.2,502.9L184.4,502.9L185.7,502.7L186.9,502.4L188.2,501.5L189.4,499.7L190.7,496.2L191.9,490.7L193.2,481.8L194.4,472.0L195.7,462.3L196.9,459.2L198.2,455.1L199.4,467.2L200.7,481.0L201.9,494.2L203.2,499.5L204.4,501.2L205.7,500.5L206.9,498.2L208.2,497.0L209.4,497.2L210.7,499.3L211.9,501.6L213.2,502.6L214.4,502.9L215.7,502.9L216.9,502.9L218.2,502.9L219.4,502.9L220.7,502.9L221.9,502.9L223.2,502.9L224.4,502.9L225.7,502.9L226.9,502.9L228.2,502.9L229.4,502.9L230.7,502.9L231.9,502.9L233.2,502.9L234.4,502.9L235.7,502.9L236.9,502.9L238.2,502.9" fill="none" stroke="#454c63" stroke-width="0.8" stroke-linejoin="round"/>
<rect x="182.70" y="447.40" width="56.00" height="55.90" fill="none" stroke="#111" stroke-width="1.1"/>
<text x="178.10" y="504.90" font-size="5.6" text-anchor="end" fill="#111" font-weight="normal">0</text>
<text x="178.10" y="494.32" font-size="5.6" text-anchor="end" fill="#111" font-weight="normal">20</text>
<text x="178.10" y="483.74" font-size="5.6" text-anchor="end" fill="#111" font-weight="normal">40</text>
<text x="178.10" y="473.16" font-size="5.6" text-anchor="end" fill="#111" font-weight="normal">60</text>
<text x="178.10" y="462.58" font-size="5.6" text-anchor="end" fill="#111" font-weight="normal">80</text>
<text x="178.10" y="452.00" font-size="5.6" text-anchor="end" fill="#111" font-weight="normal">100</text>
<text x="188.00" y="512.30" font-size="5.5" text-anchor="middle" fill="#111">10<tspan font-size="3.30" dy="-2.20">1</tspan></text>
<text x="199.40" y="512.30" font-size="5.5" text-anchor="middle" fill="#111">10<tspan font-size="3.30" dy="-2.20">2</tspan></text>
<text x="210.80" y="512.30" font-size="5.5" text-anchor="middle" fill="#111">10<tspan font-size="3.30" dy="-2.20">3</tspan></text>
<text x="222.20" y="512.30" font-size="5.5" text-anchor="middle" fill="#111">10<tspan font-size="3.30" dy="-2.20">4</tspan></text>
<text x="233.60" y="512.30" font-size="5.5" text-anchor="middle" fill="#111">10<tspan font-size="3.30" dy="-2.20">5</tspan></text>
<path d="M180.1,502.9h2.6M180.1,492.3h2.6M180.1,481.7h2.6M180.1,471.2h2.6M180.1,460.6h2.6M180.1,450.0h2.6M188.0,503.3v2M199.4,503.3v2M210.8,503.3v2M222.2,503.3v2M233.6,503.3v2" fill="none" stroke="#111" stroke-width="0.9"/>
<path d="M181.1,500.3h1.6M181.1,497.6h1.6M181.1,495.0h1.6M181.1,489.7h1.6M181.1,487.0h1.6M181.1,484.4h1.6M181.1,479.1h1.6M181.1,476.4h1.6M181.1,473.8h1.6M181.1,468.5h1.6M181.1,465.9h1.6M181.1,463.2h1.6M181.1,457.9h1.6M181.1,455.3h1.6M181.1,452.6h1.6M191.4,503.3v1.2M193.4,503.3v1.2M194.9,503.3v1.2M196.0,503.3v1.2M196.9,503.3v1.2M197.6,503.3v1.2M198.3,503.3v1.2M198.9,503.3v1.2M202.8,503.3v1.2M204.8,503.3v1.2M206.3,503.3v1.2M207.4,503.3v1.2M208.3,503.3v1.2M209.0,503.3v1.2M209.7,503.3v1.2M210.3,503.3v1.2M214.2,503.3v1.2M216.2,503.3v1.2M217.7,503.3v1.2M218.8,503.3v1.2M219.7,503.3v1.2M220.4,503.3v1.2M221.1,503.3v1.2M221.7,503.3v1.2M225.6,503.3v1.2M227.6,503.3v1.2M229.1,503.3v1.2M230.2,503.3v1.2M231.1,503.3v1.2M231.8,503.3v1.2M232.5,503.3v1.2M233.1,503.3v1.2M237.0,503.3v1.2" fill="none" stroke="#111" stroke-width="0.7"/>
<text x="236.20" y="453.00" font-size="5.8" text-anchor="end" fill="#111" font-weight="normal">11%</text>
<path d="M183.2,574.1L184.4,574.1L185.7,573.9L186.9,573.4L188.2,572.0L189.4,568.5L190.7,562.8L191.9,554.1L193.2,545.5L194.4,536.9L195.7,535.2L196.9,543.3L198.2,555.1L199.4,565.8L200.7,571.5L201.9,573.4L203.2,574.0L204.4,574.1L205.7,574.1L206.9,574.1L208.2,574.1L209.4,574.1L210.7,574.1L211.9,574.1L213.2,574.1L214.4,574.1L215.7,574.1L216.9,574.1L218.2,574.1L219.4,574.1L220.7,574.1L221.9,574.1L223.2,574.1L224.4,574.1L225.7,574.1L226.9,574.1L228.2,574.1L229.4,574.1L230.7,574.1L231.9,574.1L233.2,574.1L234.4,574.1L235.7,574.1L236.9,574.1L238.2,574.1L238.2,574.1L183.2,574.1Z" fill="#e7e7e7" stroke="#b8b8b8" stroke-width="0.5"/>
<path d="M183.2,574.1L184.4,574.1L185.7,574.1L186.9,574.0L188.2,573.8L189.4,573.3L190.7,572.6L191.9,570.8L193.2,567.9L194.4,564.2L195.7,558.1L196.9,550.2L198.2,542.0L199.4,537.8L200.7,529.6L201.9,529.2L203.2,529.6L204.4,531.9L205.7,543.0L206.9,552.3L208.2,561.1L209.4,567.2L210.7,570.9L211.9,572.7L213.2,573.6L214.4,573.9L215.7,574.0L216.9,574.1L218.2,574.1L219.4,574.1L220.7,574.1L221.9,574.1L223.2,574.1L224.4,574.1L225.7,574.1L226.9,574.1L228.2,574.1L229.4,574.1L230.7,574.1L231.9,574.1L233.2,574.1L234.4,574.1L235.7,574.1L236.9,574.1L238.2,574.1" fill="none" stroke="#454c63" stroke-width="0.8" stroke-linejoin="round"/>
<rect x="182.70" y="518.90" width="56.00" height="55.60" fill="none" stroke="#111" stroke-width="1.1"/>
<text x="178.10" y="576.10" font-size="5.6" text-anchor="end" fill="#111" font-weight="normal">0</text>
<text x="178.10" y="565.58" font-size="5.6" text-anchor="end" fill="#111" font-weight="normal">20</text>
<text x="178.10" y="555.06" font-size="5.6" text-anchor="end" fill="#111" font-weight="normal">40</text>
<text x="178.10" y="544.54" font-size="5.6" text-anchor="end" fill="#111" font-weight="normal">60</text>
<text x="178.10" y="534.02" font-size="5.6" text-anchor="end" fill="#111" font-weight="normal">80</text>
<text x="178.10" y="523.50" font-size="5.6" text-anchor="end" fill="#111" font-weight="normal">100</text>
<text x="188.00" y="583.50" font-size="5.5" text-anchor="middle" fill="#111">10<tspan font-size="3.30" dy="-2.20">1</tspan></text>
<text x="199.40" y="583.50" font-size="5.5" text-anchor="middle" fill="#111">10<tspan font-size="3.30" dy="-2.20">2</tspan></text>
<text x="210.80" y="583.50" font-size="5.5" text-anchor="middle" fill="#111">10<tspan font-size="3.30" dy="-2.20">3</tspan></text>
<text x="222.20" y="583.50" font-size="5.5" text-anchor="middle" fill="#111">10<tspan font-size="3.30" dy="-2.20">4</tspan></text>
<text x="233.60" y="583.50" font-size="5.5" text-anchor="middle" fill="#111">10<tspan font-size="3.30" dy="-2.20">5</tspan></text>
<path d="M180.1,574.1h2.6M180.1,563.6h2.6M180.1,553.1h2.6M180.1,542.5h2.6M180.1,532.0h2.6M180.1,521.5h2.6M188.0,574.5v2M199.4,574.5v2M210.8,574.5v2M222.2,574.5v2M233.6,574.5v2" fill="none" stroke="#111" stroke-width="0.9"/>
<path d="M181.1,571.5h1.6M181.1,568.8h1.6M181.1,566.2h1.6M181.1,561.0h1.6M181.1,558.3h1.6M181.1,555.7h1.6M181.1,550.4h1.6M181.1,547.8h1.6M181.1,545.2h1.6M181.1,539.9h1.6M181.1,537.3h1.6M181.1,534.6h1.6M181.1,529.4h1.6M181.1,526.8h1.6M181.1,524.1h1.6M191.4,574.5v1.2M193.4,574.5v1.2M194.9,574.5v1.2M196.0,574.5v1.2M196.9,574.5v1.2M197.6,574.5v1.2M198.3,574.5v1.2M198.9,574.5v1.2M202.8,574.5v1.2M204.8,574.5v1.2M206.3,574.5v1.2M207.4,574.5v1.2M208.3,574.5v1.2M209.0,574.5v1.2M209.7,574.5v1.2M210.3,574.5v1.2M214.2,574.5v1.2M216.2,574.5v1.2M217.7,574.5v1.2M218.8,574.5v1.2M219.7,574.5v1.2M220.4,574.5v1.2M221.1,574.5v1.2M221.7,574.5v1.2M225.6,574.5v1.2M227.6,574.5v1.2M229.1,574.5v1.2M230.2,574.5v1.2M231.1,574.5v1.2M231.8,574.5v1.2M232.5,574.5v1.2M233.1,574.5v1.2M237.0,574.5v1.2" fill="none" stroke="#111" stroke-width="0.7"/>
<text x="236.20" y="524.50" font-size="5.8" text-anchor="end" fill="#111" font-weight="normal">43%</text>
<path d="M183.2,643.9L184.4,643.9L185.7,643.7L186.9,643.3L188.2,642.0L189.4,639.2L190.7,634.2L191.9,626.7L193.2,617.2L194.4,607.9L195.7,606.3L196.9,611.4L198.2,623.2L199.4,635.0L200.7,640.6L201.9,643.1L203.2,643.7L204.4,643.9L205.7,643.9L206.9,643.9L208.2,643.9L209.4,643.9L210.7,643.9L211.9,643.9L213.2,643.9L214.4,643.9L215.7,643.9L216.9,643.9L218.2,643.9L219.4,643.9L220.7,643.9L221.9,643.9L223.2,643.9L224.4,643.9L225.7,643.9L226.9,643.9L228.2,643.9L229.4,643.9L230.7,643.9L231.9,643.9L233.2,643.9L234.4,643.9L235.7,643.9L236.9,643.9L238.2,643.9L238.2,643.9L183.2,643.9Z" fill="#e7e7e7" stroke="#b8b8b8" stroke-width="0.5"/>
<path d="M183.2,643.9L184.4,643.9L185.7,643.9L186.9,643.8L188.2,643.7L189.4,643.4L190.7,642.9L191.9,642.0L193.2,640.4L194.4,638.2L195.7,634.8L196.9,629.6L198.2,624.3L199.4,617.8L200.7,609.5L201.9,603.4L203.2,597.4L204.4,595.8L205.7,596.6L206.9,611.0L208.2,629.8L209.4,639.8L210.7,643.2L211.9,643.8L213.2,643.9L214.4,643.9L215.7,643.9L216.9,643.9L218.2,643.9L219.4,643.9L220.7,643.9L221.9,643.9L223.2,643.9L224.4,643.9L225.7,643.9L226.9,643.9L228.2,643.9L229.4,643.9L230.7,643.9L231.9,643.9L233.2,643.9L234.4,643.9L235.7,643.9L236.9,643.9L238.2,643.9" fill="none" stroke="#454c63" stroke-width="0.8" stroke-linejoin="round"/>
<rect x="182.70" y="588.70" width="56.00" height="55.60" fill="none" stroke="#111" stroke-width="1.1"/>
<text x="178.10" y="645.90" font-size="5.6" text-anchor="end" fill="#111" font-weight="normal">0</text>
<text x="178.10" y="635.38" font-size="5.6" text-anchor="end" fill="#111" font-weight="normal">20</text>
<text x="178.10" y="624.86" font-size="5.6" text-anchor="end" fill="#111" font-weight="normal">40</text>
<text x="178.10" y="614.34" font-size="5.6" text-anchor="end" fill="#111" font-weight="normal">60</text>
<text x="178.10" y="603.82" font-size="5.6" text-anchor="end" fill="#111" font-weight="normal">80</text>
<text x="178.10" y="593.30" font-size="5.6" text-anchor="end" fill="#111" font-weight="normal">100</text>
<text x="188.00" y="653.30" font-size="5.5" text-anchor="middle" fill="#111">10<tspan font-size="3.30" dy="-2.20">1</tspan></text>
<text x="199.40" y="653.30" font-size="5.5" text-anchor="middle" fill="#111">10<tspan font-size="3.30" dy="-2.20">2</tspan></text>
<text x="210.80" y="653.30" font-size="5.5" text-anchor="middle" fill="#111">10<tspan font-size="3.30" dy="-2.20">3</tspan></text>
<text x="222.20" y="653.30" font-size="5.5" text-anchor="middle" fill="#111">10<tspan font-size="3.30" dy="-2.20">4</tspan></text>
<text x="233.60" y="653.30" font-size="5.5" text-anchor="middle" fill="#111">10<tspan font-size="3.30" dy="-2.20">5</tspan></text>
<path d="M180.1,643.9h2.6M180.1,633.4h2.6M180.1,622.9h2.6M180.1,612.3h2.6M180.1,601.8h2.6M180.1,591.3h2.6M188.0,644.3v2M199.4,644.3v2M210.8,644.3v2M222.2,644.3v2M233.6,644.3v2" fill="none" stroke="#111" stroke-width="0.9"/>
<path d="M181.1,641.3h1.6M181.1,638.6h1.6M181.1,636.0h1.6M181.1,630.8h1.6M181.1,628.1h1.6M181.1,625.5h1.6M181.1,620.2h1.6M181.1,617.6h1.6M181.1,615.0h1.6M181.1,609.7h1.6M181.1,607.1h1.6M181.1,604.5h1.6M181.1,599.2h1.6M181.1,596.6h1.6M181.1,593.9h1.6M191.4,644.3v1.2M193.4,644.3v1.2M194.9,644.3v1.2M196.0,644.3v1.2M196.9,644.3v1.2M197.6,644.3v1.2M198.3,644.3v1.2M198.9,644.3v1.2M202.8,644.3v1.2M204.8,644.3v1.2M206.3,644.3v1.2M207.4,644.3v1.2M208.3,644.3v1.2M209.0,644.3v1.2M209.7,644.3v1.2M210.3,644.3v1.2M214.2,644.3v1.2M216.2,644.3v1.2M217.7,644.3v1.2M218.8,644.3v1.2M219.7,644.3v1.2M220.4,644.3v1.2M221.1,644.3v1.2M221.7,644.3v1.2M225.6,644.3v1.2M227.6,644.3v1.2M229.1,644.3v1.2M230.2,644.3v1.2M231.1,644.3v1.2M231.8,644.3v1.2M232.5,644.3v1.2M233.1,644.3v1.2M237.0,644.3v1.2" fill="none" stroke="#111" stroke-width="0.7"/>
<text x="236.20" y="594.30" font-size="5.8" text-anchor="end" fill="#111" font-weight="normal">54%</text>
<path d="M358.8,502.6L360.1,502.2L361.3,501.5L362.6,500.0L363.8,497.9L365.1,494.0L366.3,489.6L367.6,482.9L368.8,472.9L370.1,466.9L371.3,458.7L372.6,457.6L373.9,456.6L375.1,466.7L376.4,479.4L377.6,491.5L378.9,499.0L380.1,501.8L381.4,502.7L382.6,502.9L383.9,502.9L385.1,502.9L386.4,502.9L387.7,502.9L388.9,502.9L390.2,502.9L391.4,502.9L392.7,502.9L393.9,502.9L395.2,502.9L396.4,502.9L397.7,502.9L398.9,502.9L400.2,502.9L401.5,502.9L402.7,502.9L404.0,502.9L405.2,502.9L406.5,502.9L407.7,502.9L409.0,502.9L410.2,502.9L411.5,502.9L412.7,502.9L414.0,502.9L414.0,502.90000000000003L358.8,502.90000000000003Z" fill="#e7e7e7" stroke="#b8b8b8" stroke-width="0.5"/>
<path d="M358.8,502.8L360.1,502.7L361.3,502.5L362.6,502.1L363.8,501.4L365.1,500.1L366.3,498.0L367.6,495.0L368.8,491.2L370.1,485.3L371.3,479.1L372.6,471.2L373.9,465.6L375.1,459.2L376.4,455.5L377.6,455.2L378.9,462.6L380.1,477.6L381.4,491.0L382.6,498.9L383.9,501.9L385.1,502.7L386.4,502.9L387.7,502.9L388.9,502.9L390.2,502.9L391.4,502.9L392.7,502.9L393.9,502.9L395.2,502.9L396.4,502.9L397.7,502.9L398.9,502.9L400.2,502.9L401.5,502.9L402.7,502.9L404.0,502.9L405.2,502.9L406.5,502.9L407.7,502.9L409.0,502.9L410.2,502.9L411.5,502.9L412.7,502.9L414.0,502.9" fill="none" stroke="#b8203e" stroke-width="0.9" stroke-linejoin="round"/>
<rect x="358.30" y="447.40" width="56.20" height="55.90" fill="none" stroke="#111" stroke-width="1.1"/>
<text x="353.70" y="504.90" font-size="5.6" text-anchor="end" fill="#111" font-weight="normal">0</text>
<text x="353.70" y="494.32" font-size="5.6" text-anchor="end" fill="#111" font-weight="normal">20</text>
<text x="353.70" y="483.74" font-size="5.6" text-anchor="end" fill="#111" font-weight="normal">40</text>
<text x="353.70" y="473.16" font-size="5.6" text-anchor="end" fill="#111" font-weight="normal">60</text>
<text x="353.70" y="462.58" font-size="5.6" text-anchor="end" fill="#111" font-weight="normal">80</text>
<text x="353.70" y="452.00" font-size="5.6" text-anchor="end" fill="#111" font-weight="normal">100</text>
<text x="363.60" y="512.30" font-size="5.5" text-anchor="middle" fill="#111">10<tspan font-size="3.30" dy="-2.20">1</tspan></text>
<text x="375.00" y="512.30" font-size="5.5" text-anchor="middle" fill="#111">10<tspan font-size="3.30" dy="-2.20">2</tspan></text>
<text x="386.40" y="512.30" font-size="5.5" text-anchor="middle" fill="#111">10<tspan font-size="3.30" dy="-2.20">3</tspan></text>
<text x="397.80" y="512.30" font-size="5.5" text-anchor="middle" fill="#111">10<tspan font-size="3.30" dy="-2.20">4</tspan></text>
<text x="409.20" y="512.30" font-size="5.5" text-anchor="middle" fill="#111">10<tspan font-size="3.30" dy="-2.20">5</tspan></text>
<path d="M355.7,502.9h2.6M355.7,492.3h2.6M355.7,481.7h2.6M355.7,471.2h2.6M355.7,460.6h2.6M355.7,450.0h2.6M363.6,503.3v2M375.0,503.3v2M386.4,503.3v2M397.8,503.3v2M409.2,503.3v2" fill="none" stroke="#111" stroke-width="0.9"/>
<path d="M356.7,500.3h1.6M356.7,497.6h1.6M356.7,495.0h1.6M356.7,489.7h1.6M356.7,487.0h1.6M356.7,484.4h1.6M356.7,479.1h1.6M356.7,476.4h1.6M356.7,473.8h1.6M356.7,468.5h1.6M356.7,465.9h1.6M356.7,463.2h1.6M356.7,457.9h1.6M356.7,455.3h1.6M356.7,452.6h1.6M367.0,503.3v1.2M369.0,503.3v1.2M370.5,503.3v1.2M371.6,503.3v1.2M372.5,503.3v1.2M373.2,503.3v1.2M373.9,503.3v1.2M374.5,503.3v1.2M378.4,503.3v1.2M380.4,503.3v1.2M381.9,503.3v1.2M383.0,503.3v1.2M383.9,503.3v1.2M384.6,503.3v1.2M385.3,503.3v1.2M385.9,503.3v1.2M389.8,503.3v1.2M391.8,503.3v1.2M393.3,503.3v1.2M394.4,503.3v1.2M395.3,503.3v1.2M396.0,503.3v1.2M396.7,503.3v1.2M397.3,503.3v1.2M401.2,503.3v1.2M403.2,503.3v1.2M404.7,503.3v1.2M405.8,503.3v1.2M406.7,503.3v1.2M407.4,503.3v1.2M408.1,503.3v1.2M408.7,503.3v1.2M412.6,503.3v1.2" fill="none" stroke="#111" stroke-width="0.7"/>
<text x="412.00" y="453.00" font-size="5.8" text-anchor="end" fill="#111" font-weight="normal">46%</text>
<path d="M358.8,574.1L360.1,573.9L361.3,573.4L362.6,572.1L363.8,568.5L365.1,563.2L366.3,552.4L367.6,541.5L368.8,532.8L370.1,530.2L371.3,539.7L372.6,557.8L373.9,569.5L375.1,573.3L376.4,574.0L377.6,574.1L378.9,574.1L380.1,574.1L381.4,574.1L382.6,574.1L383.9,574.1L385.1,574.1L386.4,574.1L387.7,574.1L388.9,574.1L390.2,574.1L391.4,574.1L392.7,574.1L393.9,574.1L395.2,574.1L396.4,574.1L397.7,574.1L398.9,574.1L400.2,574.1L401.5,574.1L402.7,574.1L404.0,574.1L405.2,574.1L406.5,574.1L407.7,574.1L409.0,574.1L410.2,574.1L411.5,574.1L412.7,574.1L414.0,574.1L414.0,574.1L358.8,574.1Z" fill="#e7e7e7" stroke="#b8b8b8" stroke-width="0.5"/>
<path d="M358.8,574.0L360.1,574.0L361.3,573.8L362.6,573.6L363.8,573.2L365.1,572.5L366.3,571.6L367.6,570.0L368.8,567.8L370.1,564.4L371.3,560.5L372.6,556.4L373.9,550.4L375.1,544.6L376.4,539.8L377.6,533.8L378.9,528.6L380.1,526.2L381.4,526.4L382.6,530.2L383.9,543.0L385.1,555.2L386.4,564.9L387.7,570.3L388.9,572.9L390.2,573.8L391.4,574.0L392.7,574.1L393.9,574.1L395.2,574.1L396.4,574.1L397.7,574.1L398.9,574.1L400.2,574.1L401.5,574.1L402.7,574.1L404.0,574.1L405.2,574.1L406.5,574.1L407.7,574.1L409.0,574.1L410.2,574.1L411.5,574.1L412.7,574.1L414.0,574.1" fill="none" stroke="#b8203e" stroke-width="0.9" stroke-linejoin="round"/>
<rect x="358.30" y="518.90" width="56.20" height="55.60" fill="none" stroke="#111" stroke-width="1.1"/>
<text x="353.70" y="576.10" font-size="5.6" text-anchor="end" fill="#111" font-weight="normal">0</text>
<text x="353.70" y="565.58" font-size="5.6" text-anchor="end" fill="#111" font-weight="normal">20</text>
<text x="353.70" y="555.06" font-size="5.6" text-anchor="end" fill="#111" font-weight="normal">40</text>
<text x="353.70" y="544.54" font-size="5.6" text-anchor="end" fill="#111" font-weight="normal">60</text>
<text x="353.70" y="534.02" font-size="5.6" text-anchor="end" fill="#111" font-weight="normal">80</text>
<text x="353.70" y="523.50" font-size="5.6" text-anchor="end" fill="#111" font-weight="normal">100</text>
<text x="363.60" y="583.50" font-size="5.5" text-anchor="middle" fill="#111">10<tspan font-size="3.30" dy="-2.20">1</tspan></text>
<text x="375.00" y="583.50" font-size="5.5" text-anchor="middle" fill="#111">10<tspan font-size="3.30" dy="-2.20">2</tspan></text>
<text x="386.40" y="583.50" font-size="5.5" text-anchor="middle" fill="#111">10<tspan font-size="3.30" dy="-2.20">3</tspan></text>
<text x="397.80" y="583.50" font-size="5.5" text-anchor="middle" fill="#111">10<tspan font-size="3.30" dy="-2.20">4</tspan></text>
<text x="409.20" y="583.50" font-size="5.5" text-anchor="middle" fill="#111">10<tspan font-size="3.30" dy="-2.20">5</tspan></text>
<path d="M355.7,574.1h2.6M355.7,563.6h2.6M355.7,553.1h2.6M355.7,542.5h2.6M355.7,532.0h2.6M355.7,521.5h2.6M363.6,574.5v2M375.0,574.5v2M386.4,574.5v2M397.8,574.5v2M409.2,574.5v2" fill="none" stroke="#111" stroke-width="0.9"/>
<path d="M356.7,571.5h1.6M356.7,568.8h1.6M356.7,566.2h1.6M356.7,561.0h1.6M356.7,558.3h1.6M356.7,555.7h1.6M356.7,550.4h1.6M356.7,547.8h1.6M356.7,545.2h1.6M356.7,539.9h1.6M356.7,537.3h1.6M356.7,534.6h1.6M356.7,529.4h1.6M356.7,526.8h1.6M356.7,524.1h1.6M367.0,574.5v1.2M369.0,574.5v1.2M370.5,574.5v1.2M371.6,574.5v1.2M372.5,574.5v1.2M373.2,574.5v1.2M373.9,574.5v1.2M374.5,574.5v1.2M378.4,574.5v1.2M380.4,574.5v1.2M381.9,574.5v1.2M383.0,574.5v1.2M383.9,574.5v1.2M384.6,574.5v1.2M385.3,574.5v1.2M385.9,574.5v1.2M389.8,574.5v1.2M391.8,574.5v1.2M393.3,574.5v1.2M394.4,574.5v1.2M395.3,574.5v1.2M396.0,574.5v1.2M396.7,574.5v1.2M397.3,574.5v1.2M401.2,574.5v1.2M403.2,574.5v1.2M404.7,574.5v1.2M405.8,574.5v1.2M406.7,574.5v1.2M407.4,574.5v1.2M408.1,574.5v1.2M408.7,574.5v1.2M412.6,574.5v1.2" fill="none" stroke="#111" stroke-width="0.7"/>
<text x="412.00" y="524.50" font-size="5.8" text-anchor="end" fill="#111" font-weight="normal">81%</text>
<path d="M358.8,643.8L360.1,643.7L361.3,643.1L362.6,641.3L363.8,637.6L365.1,631.3L366.3,620.3L367.6,610.3L368.8,602.6L370.1,603.6L371.3,613.4L372.6,626.1L373.9,636.5L375.1,641.8L376.4,643.5L377.6,643.8L378.9,643.9L380.1,643.9L381.4,643.9L382.6,643.9L383.9,643.9L385.1,643.9L386.4,643.9L387.7,643.9L388.9,643.9L390.2,643.9L391.4,643.9L392.7,643.9L393.9,643.9L395.2,643.9L396.4,643.9L397.7,643.9L398.9,643.9L400.2,643.9L401.5,643.9L402.7,643.9L404.0,643.9L405.2,643.9L406.5,643.9L407.7,643.9L409.0,643.9L410.2,643.9L411.5,643.9L412.7,643.9L414.0,643.9L414.0,643.9L358.8,643.9Z" fill="#e7e7e7" stroke="#b8b8b8" stroke-width="0.5"/>
<path d="M358.8,643.9L360.1,643.9L361.3,643.9L362.6,643.9L363.8,643.9L365.1,643.8L366.3,643.6L367.6,643.3L368.8,642.7L370.1,641.6L371.3,639.6L372.6,636.6L373.9,632.8L375.1,626.8L376.4,620.8L377.6,613.3L378.9,606.8L380.1,600.3L381.4,596.3L382.6,594.2L383.9,613.2L385.1,634.9L386.4,642.5L387.7,643.8L388.9,643.9L390.2,643.9L391.4,643.9L392.7,643.9L393.9,643.9L395.2,643.9L396.4,643.9L397.7,643.9L398.9,643.9L400.2,643.9L401.5,643.9L402.7,643.9L404.0,643.9L405.2,643.9L406.5,643.9L407.7,643.9L409.0,643.9L410.2,643.9L411.5,643.9L412.7,643.9L414.0,643.9" fill="none" stroke="#b8203e" stroke-width="0.9" stroke-linejoin="round"/>
<rect x="358.30" y="588.70" width="56.20" height="55.60" fill="none" stroke="#111" stroke-width="1.1"/>
<text x="353.70" y="645.90" font-size="5.6" text-anchor="end" fill="#111" font-weight="normal">0</text>
<text x="353.70" y="635.38" font-size="5.6" text-anchor="end" fill="#111" font-weight="normal">20</text>
<text x="353.70" y="624.86" font-size="5.6" text-anchor="end" fill="#111" font-weight="normal">40</text>
<text x="353.70" y="614.34" font-size="5.6" text-anchor="end" fill="#111" font-weight="normal">60</text>
<text x="353.70" y="603.82" font-size="5.6" text-anchor="end" fill="#111" font-weight="normal">80</text>
<text x="353.70" y="593.30" font-size="5.6" text-anchor="end" fill="#111" font-weight="normal">100</text>
<text x="363.60" y="653.30" font-size="5.5" text-anchor="middle" fill="#111">10<tspan font-size="3.30" dy="-2.20">1</tspan></text>
<text x="375.00" y="653.30" font-size="5.5" text-anchor="middle" fill="#111">10<tspan font-size="3.30" dy="-2.20">2</tspan></text>
<text x="386.40" y="653.30" font-size="5.5" text-anchor="middle" fill="#111">10<tspan font-size="3.30" dy="-2.20">3</tspan></text>
<text x="397.80" y="653.30" font-size="5.5" text-anchor="middle" fill="#111">10<tspan font-size="3.30" dy="-2.20">4</tspan></text>
<text x="409.20" y="653.30" font-size="5.5" text-anchor="middle" fill="#111">10<tspan font-size="3.30" dy="-2.20">5</tspan></text>
<path d="M355.7,643.9h2.6M355.7,633.4h2.6M355.7,622.9h2.6M355.7,612.3h2.6M355.7,601.8h2.6M355.7,591.3h2.6M363.6,644.3v2M375.0,644.3v2M386.4,644.3v2M397.8,644.3v2M409.2,644.3v2" fill="none" stroke="#111" stroke-width="0.9"/>
<path d="M356.7,641.3h1.6M356.7,638.6h1.6M356.7,636.0h1.6M356.7,630.8h1.6M356.7,628.1h1.6M356.7,625.5h1.6M356.7,620.2h1.6M356.7,617.6h1.6M356.7,615.0h1.6M356.7,609.7h1.6M356.7,607.1h1.6M356.7,604.5h1.6M356.7,599.2h1.6M356.7,596.6h1.6M356.7,593.9h1.6M367.0,644.3v1.2M369.0,644.3v1.2M370.5,644.3v1.2M371.6,644.3v1.2M372.5,644.3v1.2M373.2,644.3v1.2M373.9,644.3v1.2M374.5,644.3v1.2M378.4,644.3v1.2M380.4,644.3v1.2M381.9,644.3v1.2M383.0,644.3v1.2M383.9,644.3v1.2M384.6,644.3v1.2M385.3,644.3v1.2M385.9,644.3v1.2M389.8,644.3v1.2M391.8,644.3v1.2M393.3,644.3v1.2M394.4,644.3v1.2M395.3,644.3v1.2M396.0,644.3v1.2M396.7,644.3v1.2M397.3,644.3v1.2M401.2,644.3v1.2M403.2,644.3v1.2M404.7,644.3v1.2M405.8,644.3v1.2M406.7,644.3v1.2M407.4,644.3v1.2M408.1,644.3v1.2M408.7,644.3v1.2M412.6,644.3v1.2" fill="none" stroke="#111" stroke-width="0.7"/>
<text x="412.00" y="594.30" font-size="5.8" text-anchor="end" fill="#111" font-weight="normal">94%</text>
<path d="M183.2,451.5 H202.4 V503" fill="none" stroke="#6b3f8e" stroke-width="1.1" stroke-dasharray="4.6,2.2"/>
<path d="M358.8,451.5 H377.3 V503" fill="none" stroke="#6b3f8e" stroke-width="1.1" stroke-dasharray="4.6,2.2"/>
<path d="M192.4,451.5 V443.6 H300 V446.6" fill="none" stroke="#6b3f8e" stroke-width="1.1" stroke-dasharray="4.6,2.2"/>
<path d="M368.8,451.5 V443.6 H476 V445.8" fill="none" stroke="#6b3f8e" stroke-width="1.1" stroke-dasharray="4.6,2.2"/>
<rect x="244.40" y="446.80" width="91.60" height="88.40" fill="none" stroke="#6b3f8e" stroke-width="1.1" stroke-dasharray="4.6,2.2"/>
<rect x="420.60" y="446.00" width="92.40" height="89.30" fill="none" stroke="#6b3f8e" stroke-width="1.1" stroke-dasharray="4.6,2.2"/>
<rect x="273.40" y="453.60" width="56.00" height="56.70" fill="#fff" stroke="#c8c8c8" stroke-width="0.8"/>
<path d="M301.2,479.5h0.6M289.3,490.3h0.6M301.0,486.0h0.6M285.9,487.1h0.6M302.8,480.0h0.6M301.3,500.5h0.6M274.5,486.9h0.6M282.0,469.7h0.6M291.9,486.3h0.6M295.0,471.5h0.6M279.1,476.8h0.6M294.5,474.4h0.6M278.4,496.9h0.6M285.5,480.2h0.6M288.6,476.5h0.6M294.8,479.0h0.6M301.0,471.3h0.6M278.6,498.6h0.6M293.6,488.3h0.6M307.0,486.4h0.6M294.8,468.1h0.6M277.4,490.1h0.6M301.6,486.6h0.6M276.7,463.0h0.6M283.1,471.3h0.6M296.1,472.7h0.6M311.3,476.2h0.6M288.4,489.1h0.6M297.9,473.8h0.6M303.2,498.4h0.6M281.3,479.4h0.6M282.9,464.7h0.6M301.1,487.7h0.6M304.8,485.3h0.6M272.9,481.4h0.6M287.3,471.3h0.6M282.6,488.3h0.6M291.2,498.8h0.6M299.4,464.9h0.6M304.0,492.5h0.6M294.7,471.0h0.6M313.3,470.1h0.6M293.5,464.9h0.6M281.0,466.7h0.6M306.1,491.9h0.6M290.1,469.7h0.6M293.8,484.9h0.6M278.1,471.5h0.6M293.3,487.8h0.6M295.2,485.5h0.6M281.0,459.8h0.6M297.7,473.6h0.6M293.1,478.3h0.6M299.6,474.8h0.6M309.9,481.9h0.6M300.1,487.1h0.6M305.5,485.1h0.6M275.6,476.1h0.6M314.4,485.8h0.6M300.4,485.7h0.6M287.5,475.6h0.6M287.4,491.8h0.6M298.3,497.3h0.6M299.8,498.2h0.6M299.3,471.2h0.6M313.1,484.6h0.6M307.2,483.5h0.6M290.9,483.1h0.6M282.3,471.1h0.6M284.8,477.0h0.6M279.8,480.7h0.6M297.7,499.5h0.6M314.3,481.2h0.6M303.9,479.7h0.6M298.6,481.3h0.6M288.6,482.3h0.6M278.4,485.5h0.6M291.3,472.0h0.6M290.5,486.5h0.6M287.1,485.8h0.6M300.6,495.4h0.6M282.6,480.6h0.6M299.9,494.9h0.6M297.2,488.3h0.6M278.5,476.4h0.6M312.4,479.1h0.6M317.8,475.1h0.6M291.4,467.5h0.6M301.3,483.9h0.6M316.3,483.1h0.6M291.7,469.1h0.6M293.5,490.0h0.6M302.4,492.5h0.6M303.8,481.2h0.6M301.0,483.1h0.6M279.9,496.8h0.6M298.5,472.3h0.6M298.6,484.2h0.6M305.2,494.4h0.6M261.4,486.5h0.6M311.0,473.2h0.6M274.2,484.1h0.6M298.1,484.7h0.6M282.3,477.4h0.6M296.5,488.2h0.6M318.3,484.2h0.6M287.8,460.6h0.6M306.1,480.4h0.6M293.2,472.8h0.6M302.4,465.6h0.6M295.6,482.7h0.6M297.7,493.2h0.6M293.3,482.4h0.6M303.7,467.8h0.6M291.2,482.2h0.6M304.8,474.5h0.6M303.2,485.0h0.6M278.2,468.4h0.6M278.8,482.8h0.6M296.7,488.1h0.6M303.4,476.7h0.6M306.1,488.9h0.6M299.6,485.9h0.6M280.3,484.8h0.6M283.1,470.9h0.6M290.6,482.8h0.6M293.8,478.6h0.6M283.5,483.3h0.6M286.3,469.0h0.6M295.4,494.6h0.6M290.0,472.1h0.6M309.5,496.9h0.6M291.2,479.7h0.6M296.7,508.0h0.6M295.9,490.5h0.6M299.3,465.3h0.6M282.3,470.6h0.6M299.1,482.6h0.6M314.0,479.2h0.6M297.8,482.3h0.6M295.9,502.4h0.6M297.5,494.8h0.6M308.6,476.2h0.6M301.9,478.2h0.6M295.6,483.0h0.6M294.6,477.4h0.6M311.5,479.2h0.6M302.1,496.7h0.6M301.3,490.8h0.6M309.6,491.4h0.6M313.2,468.8h0.6M315.9,481.8h0.6M275.2,475.9h0.6M279.1,481.4h0.6M278.1,472.6h0.6M297.6,483.0h0.6M285.6,479.5h0.6M293.3,482.3h0.6M294.3,479.6h0.6M304.0,467.2h0.6M289.0,482.8h0.6M290.0,476.6h0.6M289.6,483.5h0.6M308.1,479.9h0.6M291.5,484.8h0.6M291.7,464.2h0.6M297.3,478.2h0.6M288.1,487.3h0.6M294.9,476.5h0.6M270.5,466.1h0.6M294.6,480.5h0.6M299.2,483.6h0.6M289.1,470.2h0.6M282.4,480.3h0.6M281.8,488.4h0.6M279.8,465.5h0.6M292.3,465.6h0.6M312.3,472.7h0.6M293.8,479.4h0.6M285.4,465.7h0.6M273.9,489.4h0.6M305.6,501.1h0.6M278.3,486.6h0.6M294.2,489.2h0.6M288.7,488.1h0.6M304.3,487.1h0.6M310.3,480.0h0.6M311.4,475.3h0.6M312.7,456.9h0.6M294.5,474.4h0.6M294.4,490.9h0.6M302.3,482.5h0.6M313.1,468.3h0.6M285.4,495.2h0.6M298.0,462.9h0.6M298.1,470.9h0.6M310.7,491.9h0.6M288.4,493.2h0.6M285.2,489.9h0.6M300.8,480.5h0.6M278.8,479.1h0.6M269.2,476.5h0.6M274.0,492.5h0.6M283.8,459.7h0.6M300.8,484.9h0.6M288.8,500.7h0.6M302.9,482.2h0.6M287.3,455.0h0.6M299.7,490.2h0.6M287.9,468.9h0.6M293.9,466.6h0.6M294.5,488.5h0.6M311.0,484.0h0.6M296.6,488.3h0.6M309.8,478.7h0.6M280.9,474.5h0.6M280.6,473.6h0.6M293.1,484.7h0.6M296.1,482.2h0.6M290.5,485.4h0.6M304.1,488.4h0.6M310.9,479.0h0.6M291.6,496.9h0.6M296.6,485.3h0.6M290.7,490.3h0.6M290.0,472.5h0.6M293.7,477.6h0.6M303.6,478.2h0.6M295.8,479.6h0.6M298.1,475.9h0.6M306.6,468.8h0.6M290.2,475.2h0.6M301.5,482.0h0.6M299.7,478.6h0.6M286.5,471.5h0.6M290.7,476.8h0.6M297.5,484.8h0.6M305.1,480.6h0.6M286.2,472.1h0.6M295.1,484.8h0.6M315.8,483.2h0.6M313.7,498.5h0.6M282.9,492.5h0.6M306.9,493.7h0.6M294.3,490.2h0.6M289.1,481.0h0.6M294.6,497.6h0.6M292.0,490.2h0.6M295.1,475.2h0.6M297.1,487.5h0.6M286.6,487.3h0.6M286.6,473.7h0.6M296.8,479.5h0.6M283.6,466.9h0.6M294.7,483.8h0.6M289.3,483.3h0.6M277.6,485.1h0.6M299.0,484.1h0.6M287.7,482.3h0.6M295.8,491.2h0.6M297.4,483.9h0.6M286.4,489.4h0.6M307.3,477.2h0.6M301.4,484.4h0.6M293.9,470.0h0.6M313.7,464.8h0.6M297.7,478.2h0.6M307.0,477.8h0.6M294.8,487.1h0.6M299.4,476.9h0.6M301.9,485.1h0.6M305.3,477.0h0.6M293.9,478.1h0.6M285.2,483.9h0.6M298.9,494.4h0.6M290.8,485.1h0.6M306.9,480.6h0.6M295.1,482.8h0.6M286.8,472.7h0.6M306.7,483.2h0.6M293.6,470.4h0.6M295.7,492.1h0.6M281.8,473.6h0.6M306.6,494.4h0.6M311.4,476.6h0.6M301.0,474.9h0.6M300.1,478.3h0.6M296.5,493.6h0.6M298.1,479.4h0.6M295.0,484.0h0.6M288.8,483.5h0.6M301.0,495.6h0.6M271.8,470.9h0.6M280.9,489.4h0.6M321.1,483.3h0.6M295.7,491.8h0.6M267.7,480.0h0.6M260.3,483.0h0.6M288.8,477.3h0.6M298.1,476.4h0.6M306.5,481.6h0.6M298.6,504.3h0.6M289.5,489.9h0.6M285.4,492.8h0.6M304.9,482.9h0.6M305.2,496.0h0.6M309.4,481.6h0.6M293.8,491.5h0.6M278.3,476.2h0.6M299.7,486.7h0.6M314.7,497.3h0.6M297.9,485.5h0.6M280.0,479.9h0.6M297.2,479.6h0.6M295.1,487.0h0.6M284.0,476.5h0.6M275.0,491.8h0.6M282.9,466.4h0.6M302.8,479.7h0.6M304.9,478.3h0.6" fill="none" stroke="#a8a8a8" stroke-width="0.6"/>
<path d="M328.6,502.4h0.6M305.2,500.1h0.6M301.0,502.8h0.6M327.1,497.9h0.6M290.5,502.0h0.6M316.1,493.7h0.6M295.2,495.7h0.6M310.1,501.6h0.6M294.7,495.1h0.6M311.5,491.5h0.6M311.0,499.0h0.6M326.1,503.5h0.6M296.5,498.5h0.6M300.1,496.7h0.6M304.4,503.4h0.6M285.6,498.7h0.6M321.1,502.5h0.6M293.8,496.4h0.6M293.3,493.3h0.6M317.0,499.9h0.6M295.2,493.9h0.6M298.9,497.6h0.6M323.7,497.8h0.6M304.8,503.8h0.6M311.3,498.9h0.6M277.6,505.1h0.6M310.5,497.9h0.6M302.4,495.8h0.6M292.8,493.8h0.6M309.3,501.6h0.6M305.5,502.7h0.6M309.7,500.1h0.6M293.0,501.9h0.6M317.4,502.1h0.6M318.1,497.7h0.6M291.9,504.5h0.6M296.5,500.6h0.6M301.2,499.7h0.6M300.2,497.5h0.6M282.4,507.1h0.6M305.8,492.0h0.6M292.7,495.2h0.6M294.7,489.6h0.6M310.2,506.0h0.6M300.5,502.5h0.6M310.5,494.7h0.6M317.7,493.0h0.6M296.6,498.2h0.6M318.2,500.1h0.6M301.9,496.4h0.6M304.5,499.8h0.6M312.0,505.1h0.6M312.1,499.7h0.6M301.6,505.9h0.6M305.8,499.5h0.6M324.5,505.7h0.6M310.1,499.2h0.6M295.9,503.8h0.6M298.1,503.4h0.6M294.2,500.0h0.6M308.1,500.2h0.6M306.1,501.1h0.6M290.2,495.3h0.6M301.7,506.7h0.6M301.9,496.0h0.6M295.7,499.7h0.6M317.3,497.4h0.6M310.0,500.3h0.6M299.2,495.9h0.6M301.6,496.8h0.6M309.7,492.7h0.6M316.6,502.6h0.6M310.2,505.5h0.6M310.5,492.9h0.6M304.0,501.4h0.6M295.4,495.2h0.6M308.5,501.6h0.6M298.4,498.7h0.6M297.5,497.4h0.6M302.7,503.8h0.6M284.5,498.3h0.6M322.3,500.8h0.6M305.2,502.9h0.6M291.7,494.9h0.6M284.0,493.9h0.6M306.3,502.9h0.6M298.5,496.9h0.6M308.1,502.0h0.6M306.4,492.2h0.6M297.0,489.7h0.6M306.2,496.3h0.6M295.7,505.5h0.6M318.9,501.5h0.6M306.6,500.3h0.6M296.6,499.4h0.6M325.7,496.2h0.6M295.7,500.2h0.6M313.8,502.8h0.6M292.1,499.1h0.6M300.3,494.8h0.6M304.3,497.7h0.6M314.1,501.3h0.6M294.3,499.9h0.6M299.2,497.1h0.6M297.7,503.7h0.6M298.6,492.9h0.6M294.4,502.7h0.6M328.5,495.5h0.6M299.3,498.3h0.6M287.0,501.2h0.6M302.8,500.7h0.6M329.5,498.6h0.6M312.7,502.8h0.6M296.0,497.3h0.6M321.6,502.4h0.6M305.1,495.3h0.6M313.7,501.7h0.6M329.0,505.3h0.6M312.8,500.6h0.6M304.1,497.5h0.6M307.0,500.6h0.6M311.0,503.8h0.6M307.0,497.5h0.6M312.8,505.6h0.6M293.7,501.2h0.6M309.8,501.7h0.6M309.3,499.2h0.6M302.2,506.2h0.6M323.6,494.2h0.6M273.8,501.3h0.6M295.5,497.6h0.6M284.8,501.0h0.6M302.8,497.5h0.6M313.9,509.1h0.6M320.6,504.2h0.6M298.6,502.2h0.6M303.0,504.1h0.6M310.2,499.5h0.6M309.8,496.8h0.6M312.6,505.4h0.6" fill="none" stroke="#a0a0a0" stroke-width="0.6"/>
<g filter="url(#fb)">
<path d="M310.4,479.1L310.4,481.5L310.2,484.0L310.2,486.8L310.1,490.2L309.2,494.1L306.6,497.2L302.5,498.4L297.9,497.5L293.9,495.6L290.7,493.8L288.0,492.3L285.5,491.0L283.0,489.7L280.8,488.1L278.8,486.2L277.2,484.1L276.2,481.7L275.8,479.1L276.3,476.6L277.5,474.2L279.3,472.2L281.4,470.5L283.9,469.3L286.4,468.5L288.9,468.0L291.4,467.7L293.9,467.6L296.4,467.7L298.8,468.0L301.3,468.6L303.7,469.5L305.9,470.9L307.7,472.6L309.1,474.6L310.0,476.8Z" fill="none" stroke="#8a8a8a" stroke-width="0.5"/>
<path d="M308.3,478.6L308.3,480.7L308.1,483.0L308.1,485.6L308.0,488.7L307.2,492.2L304.9,495.0L301.1,496.1L296.9,495.3L293.3,493.6L290.4,491.9L287.9,490.6L285.6,489.4L283.4,488.2L281.3,486.8L279.5,485.1L278.1,483.1L277.1,480.9L276.8,478.6L277.2,476.2L278.3,474.1L279.9,472.3L281.9,470.8L284.1,469.7L286.4,468.9L288.8,468.4L291.0,468.2L293.3,468.1L295.5,468.2L297.8,468.5L300.0,469.0L302.2,469.9L304.2,471.1L305.8,472.6L307.1,474.4L307.9,476.4Z" fill="none" stroke="#666" stroke-width="0.5"/>
<path d="M306.2,478.0L306.2,480.0L306.0,482.0L306.0,484.3L306.0,487.2L305.2,490.3L303.1,492.8L299.7,493.8L295.9,493.1L292.6,491.6L290.1,490.0L287.8,488.8L285.7,487.8L283.7,486.7L281.9,485.4L280.2,483.9L278.9,482.1L278.1,480.1L277.8,478.0L278.2,475.9L279.2,474.0L280.6,472.3L282.4,471.0L284.4,470.0L286.5,469.3L288.6,468.9L290.6,468.7L292.6,468.6L294.7,468.7L296.7,468.9L298.7,469.4L300.7,470.2L302.5,471.3L304.0,472.7L305.1,474.3L305.8,476.1Z" fill="none" stroke="#8a8a8a" stroke-width="0.5"/>
<path d="M304.0,477.5L304.0,479.2L303.9,481.0L303.9,483.1L303.9,485.6L303.2,488.4L301.3,490.7L298.3,491.5L294.9,490.9L292.0,489.5L289.7,488.2L287.7,487.1L285.9,486.2L284.1,485.2L282.4,484.1L281.0,482.7L279.8,481.1L279.1,479.3L278.8,477.5L279.2,475.6L280.0,473.9L281.3,472.4L282.9,471.2L284.7,470.3L286.5,469.7L288.4,469.3L290.2,469.2L292.0,469.1L293.8,469.2L295.6,469.4L297.4,469.8L299.2,470.5L300.8,471.5L302.1,472.7L303.1,474.2L303.8,475.8Z" fill="none" stroke="#666" stroke-width="0.5"/>
<path d="M301.9,476.9L301.9,478.5L301.8,480.1L301.8,481.9L301.8,484.1L301.2,486.5L299.5,488.5L296.9,489.3L293.9,488.7L291.4,487.5L289.4,486.3L287.6,485.4L286.0,484.6L284.4,483.7L283.0,482.7L281.7,481.5L280.7,480.1L280.0,478.6L279.8,476.9L280.1,475.3L280.9,473.8L282.0,472.5L283.4,471.5L285.0,470.7L286.6,470.1L288.2,469.8L289.8,469.6L291.4,469.6L293.0,469.7L294.5,469.8L296.1,470.2L297.7,470.8L299.0,471.7L300.2,472.8L301.1,474.0L301.7,475.5Z" fill="none" stroke="#8a8a8a" stroke-width="0.5"/>
<path d="M299.8,476.4L299.8,477.7L299.7,479.1L299.7,480.6L299.7,482.5L299.2,484.6L297.8,486.3L295.5,487.0L292.9,486.5L290.8,485.5L289.0,484.5L287.5,483.7L286.1,483.0L284.8,482.2L283.5,481.4L282.4,480.3L281.6,479.1L281.0,477.8L280.8,476.4L281.1,475.0L281.7,473.7L282.7,472.6L283.9,471.7L285.2,471.0L286.6,470.6L288.0,470.3L289.4,470.1L290.8,470.1L292.1,470.1L293.5,470.3L294.8,470.6L296.1,471.1L297.3,471.9L298.4,472.8L299.1,473.9L299.6,475.1Z" fill="none" stroke="#666" stroke-width="0.5"/>
<path d="M297.7,475.9L297.7,477.0L297.6,478.1L297.6,479.4L297.6,481.0L297.2,482.7L296.0,484.2L294.1,484.7L291.9,484.3L290.1,483.5L288.7,482.6L287.4,481.9L286.2,481.4L285.1,480.7L284.1,480.0L283.2,479.1L282.4,478.1L282.0,477.0L281.8,475.9L282.0,474.7L282.6,473.6L283.4,472.7L284.4,471.9L285.5,471.4L286.7,471.0L287.8,470.7L289.0,470.6L290.1,470.6L291.2,470.6L292.4,470.8L293.5,471.0L294.6,471.5L295.6,472.1L296.5,472.9L297.1,473.8L297.5,474.8Z" fill="none" stroke="#8a8a8a" stroke-width="0.5"/>
<path d="M295.6,475.3L295.6,476.2L295.5,477.1L295.5,478.2L295.5,479.4L295.2,480.9L294.2,482.0L292.7,482.4L291.0,482.1L289.5,481.4L288.3,480.7L287.3,480.2L286.4,479.7L285.5,479.2L284.6,478.7L283.9,478.0L283.3,477.2L282.9,476.3L282.8,475.3L283.0,474.4L283.4,473.5L284.1,472.8L284.9,472.2L285.8,471.7L286.7,471.4L287.7,471.2L288.6,471.1L289.5,471.1L290.4,471.1L291.3,471.2L292.2,471.4L293.1,471.8L293.9,472.3L294.6,472.9L295.1,473.6L295.4,474.5Z" fill="none" stroke="#666" stroke-width="0.5"/>
<path d="M293.5,474.8L293.5,475.4L293.4,476.1L293.4,476.9L293.4,477.9L293.2,479.0L292.4,479.8L291.3,480.2L290.0,479.9L288.9,479.4L288.0,478.9L287.2,478.5L286.5,478.1L285.8,477.7L285.2,477.3L284.6,476.8L284.2,476.2L283.9,475.5L283.8,474.8L283.9,474.1L284.3,473.4L284.8,472.8L285.4,472.4L286.1,472.0L286.8,471.8L287.5,471.7L288.2,471.6L288.9,471.6L289.5,471.6L290.2,471.7L290.9,471.8L291.6,472.1L292.2,472.5L292.7,473.0L293.1,473.5L293.4,474.1Z" fill="none" stroke="#8a8a8a" stroke-width="0.5"/>
<path d="M291.4,474.2L291.4,474.7L291.3,475.2L291.3,475.7L291.3,476.4L291.1,477.1L290.7,477.7L289.9,477.9L289.0,477.7L288.2,477.4L287.6,477.0L287.1,476.7L286.6,476.5L286.2,476.3L285.7,476.0L285.4,475.6L285.1,475.2L284.9,474.7L284.8,474.2L284.9,473.8L285.1,473.3L285.4,472.9L285.9,472.6L286.3,472.4L286.8,472.2L287.3,472.1L287.8,472.1L288.2,472.1L288.7,472.1L289.2,472.1L289.6,472.2L290.1,472.4L290.5,472.7L290.9,473.0L291.1,473.4L291.3,473.8Z" fill="none" stroke="#666" stroke-width="0.5"/>
</g>
<ellipse cx="274.6" cy="476.6" rx="1.0" ry="4.5" transform="rotate(0 274.6 476.6)" fill="#444" stroke="none" stroke-width="0.5" opacity="1.0"/>
<ellipse cx="304.4" cy="508.8" rx="9.0" ry="0.9" transform="rotate(0 304.4 508.8)" fill="#777" stroke="none" stroke-width="0.5" opacity="1.0"/>
<rect x="273.80" y="454.20" width="20.32" height="35.86" fill="none" stroke="#b5304b" stroke-width="1.0"/>
<rect x="294.12" y="490.06" width="34.98" height="19.94" fill="none" stroke="#6aaa44" stroke-width="1.0"/>
<text x="276.40" y="460.30" font-size="5.6" text-anchor="start" fill="#222" font-weight="normal">33%</text>
<text x="327.40" y="460.30" font-size="5.6" text-anchor="end" fill="#222" font-weight="normal">53%</text>
<text x="276.40" y="508.30" font-size="5.6" text-anchor="start" fill="#222" font-weight="normal">3%</text>
<text x="327.40" y="508.30" font-size="5.6" text-anchor="end" fill="#222" font-weight="normal">11%</text>
<text x="270.9" y="460.6" font-size="5.2" text-anchor="end" fill="#222">10<tspan font-size="3.2" dy="-2">5</tspan></text>
<text x="270.9" y="472.0" font-size="5.2" text-anchor="end" fill="#222">10<tspan font-size="3.2" dy="-2">4</tspan></text>
<text x="270.9" y="483.4" font-size="5.2" text-anchor="end" fill="#222">10<tspan font-size="3.2" dy="-2">3</tspan></text>
<text x="270.9" y="494.8" font-size="5.2" text-anchor="end" fill="#222">10<tspan font-size="3.2" dy="-2">2</tspan></text>
<text x="270.9" y="506.2" font-size="5.2" text-anchor="end" fill="#222">10<tspan font-size="3.2" dy="-2">1</tspan></text>
<text x="278.7" y="518.3" font-size="5.2" text-anchor="middle" fill="#222">10<tspan font-size="3.2" dy="-2">1</tspan></text>
<text x="290.3" y="518.3" font-size="5.2" text-anchor="middle" fill="#222">10<tspan font-size="3.2" dy="-2">2</tspan></text>
<text x="301.9" y="518.3" font-size="5.2" text-anchor="middle" fill="#222">10<tspan font-size="3.2" dy="-2">3</tspan></text>
<text x="313.5" y="518.3" font-size="5.2" text-anchor="middle" fill="#222">10<tspan font-size="3.2" dy="-2">4</tspan></text>
<text x="325.1" y="518.3" font-size="5.2" text-anchor="middle" fill="#222">10<tspan font-size="3.2" dy="-2">5</tspan></text>
<path d="M271.8,458.8h1.6M271.8,470.2h1.6M271.8,481.6h1.6M271.8,493.0h1.6M271.8,504.4h1.6M278.7,510.3v1.6M290.3,510.3v1.6M301.9,510.3v1.6M313.5,510.3v1.6M325.1,510.3v1.6" fill="none" stroke="#333" stroke-width="0.5"/>
<text x="257.20" y="472.60" font-size="5.8" text-anchor="middle" fill="#c0304c" font-weight="normal" transform="rotate(-90 257.2 472.6)">CFU-E</text>
<text x="311.40" y="523.90" font-size="5.8" text-anchor="middle" fill="#7fbf5a" font-weight="normal">BFU-E</text>
<path d="M257.5,523.4V493.6" fill="none" stroke="#111" stroke-width="1"/>
<path d="M255.5,495.1L257.5,490.1L259.5,495.1Z" fill="#111" stroke="none" stroke-width="1"/>
<path d="M257.5,523.4H285.5" fill="none" stroke="#111" stroke-width="1"/>
<path d="M284.5,521.4L289.5,523.4L284.5,525.4Z" fill="#111" stroke="none" stroke-width="1"/>
<g transform="translate(253.50,507.30) rotate(-90) scale(0.823,1)"><text x="0" y="0" font-size="7.6" text-anchor="middle" fill="#222"><tspan>CD36</tspan></text></g>
<g transform="translate(273.00,531.50) rotate(0) scale(0.832,1)"><text x="0" y="0" font-size="7.8" text-anchor="middle" fill="#222"><tspan>CD34</tspan></text></g>
<rect x="449.80" y="453.80" width="57.10" height="56.10" fill="#fff" stroke="#c8c8c8" stroke-width="0.8"/>
<path d="M480.0,493.7h0.6M469.9,497.8h0.6M489.6,476.9h0.6M496.4,489.0h0.6M469.4,473.2h0.6M489.6,484.9h0.6M491.4,471.2h0.6M482.0,498.2h0.6M477.5,495.1h0.6M480.0,491.5h0.6M485.3,511.7h0.6M473.2,496.1h0.6M493.0,475.8h0.6M483.4,512.5h0.6M491.0,456.1h0.6M481.0,469.5h0.6M485.2,480.0h0.6M478.4,478.9h0.6M485.1,482.8h0.6M475.8,485.4h0.6M486.0,478.7h0.6M491.4,470.1h0.6M486.0,483.6h0.6M495.0,480.9h0.6M477.6,473.5h0.6M498.2,494.4h0.6M474.4,484.2h0.6M475.4,504.1h0.6M486.0,466.0h0.6M484.4,497.6h0.6M482.8,492.9h0.6M481.9,490.0h0.6M484.5,480.2h0.6M485.5,489.6h0.6M482.5,480.5h0.6M474.9,490.4h0.6M489.2,462.0h0.6M478.6,502.3h0.6M489.9,480.2h0.6M493.3,477.3h0.6M476.7,508.5h0.6M479.4,485.5h0.6M470.0,477.0h0.6M473.7,486.3h0.6M468.5,499.2h0.6M480.0,481.3h0.6M477.9,495.8h0.6M494.7,483.4h0.6M495.4,505.0h0.6M493.2,491.0h0.6M471.2,495.0h0.6M479.6,489.9h0.6M468.1,484.8h0.6M484.6,477.8h0.6M485.1,505.7h0.6M484.6,480.5h0.6M501.4,464.8h0.6M475.6,492.2h0.6M478.2,463.2h0.6M484.8,496.7h0.6M476.6,503.5h0.6M486.7,500.6h0.6M470.9,487.8h0.6M495.3,509.4h0.6M493.1,487.8h0.6M484.2,481.1h0.6M491.4,480.4h0.6M483.8,465.7h0.6M471.1,506.9h0.6M483.3,490.1h0.6M465.7,487.4h0.6M498.9,471.8h0.6M464.3,486.1h0.6M478.7,485.5h0.6M473.0,473.2h0.6M473.2,494.7h0.6M482.4,496.6h0.6M474.4,494.1h0.6M479.3,488.8h0.6M490.1,488.2h0.6M480.1,469.9h0.6M483.3,496.2h0.6M477.9,487.1h0.6M469.0,473.4h0.6M486.0,501.7h0.6M480.4,469.8h0.6M479.8,471.0h0.6M480.6,508.6h0.6M485.1,486.2h0.6M490.9,483.7h0.6M485.4,490.0h0.6M486.3,472.0h0.6M488.4,497.3h0.6M464.9,458.5h0.6M475.8,503.9h0.6M483.0,495.1h0.6M487.2,497.4h0.6M477.8,481.5h0.6M485.8,494.4h0.6M487.3,491.5h0.6M479.0,499.7h0.6M486.5,499.3h0.6M462.8,498.7h0.6M463.6,490.1h0.6M477.6,489.1h0.6M479.1,484.4h0.6M484.3,491.6h0.6M476.5,460.4h0.6M476.7,493.7h0.6M476.2,492.4h0.6M479.9,477.6h0.6M492.0,505.8h0.6M482.0,487.3h0.6M490.4,473.4h0.6M475.9,500.1h0.6M489.9,482.4h0.6M476.7,491.6h0.6M471.7,482.4h0.6M481.0,461.1h0.6M487.5,496.1h0.6M491.2,472.2h0.6M472.6,478.9h0.6M472.5,510.2h0.6M475.1,484.4h0.6M484.4,492.8h0.6M494.3,475.9h0.6M489.8,489.4h0.6M473.5,489.4h0.6M471.7,505.5h0.6M477.0,498.8h0.6M493.1,481.1h0.6M475.7,489.2h0.6M474.5,497.6h0.6M484.2,479.5h0.6M477.4,495.7h0.6M471.3,506.2h0.6M476.6,485.7h0.6M475.5,505.5h0.6M489.3,502.0h0.6M488.0,488.8h0.6M496.3,495.1h0.6M486.3,494.1h0.6M488.7,490.8h0.6M481.5,470.3h0.6M499.2,473.6h0.6M465.6,480.0h0.6M498.2,501.2h0.6M478.0,490.7h0.6M482.6,466.0h0.6M480.1,491.0h0.6M492.1,474.6h0.6M464.8,470.5h0.6M485.4,488.7h0.6M484.0,489.4h0.6M479.9,472.8h0.6M486.4,492.0h0.6M487.4,501.5h0.6M472.9,462.1h0.6M468.6,511.3h0.6M475.5,492.2h0.6M482.7,495.8h0.6M508.5,482.1h0.6M481.4,481.2h0.6M484.8,493.5h0.6M475.0,502.3h0.6M492.0,492.7h0.6M481.9,485.2h0.6M469.7,495.0h0.6M475.0,482.3h0.6M490.8,477.7h0.6M478.6,497.2h0.6M497.7,480.2h0.6M491.6,480.6h0.6M485.9,493.1h0.6M473.7,499.1h0.6M497.2,488.4h0.6M485.0,474.9h0.6M497.1,488.5h0.6M472.6,496.2h0.6M471.1,480.3h0.6M465.7,502.9h0.6M500.5,480.8h0.6M477.6,481.4h0.6M478.3,493.9h0.6M494.5,476.7h0.6M486.3,468.0h0.6M495.0,486.8h0.6M477.2,504.6h0.6M482.0,502.9h0.6M491.4,506.0h0.6M476.4,488.4h0.6M485.7,485.7h0.6M495.0,479.9h0.6M490.8,502.8h0.6M467.2,477.1h0.6M475.6,481.8h0.6M485.9,485.9h0.6M483.4,482.7h0.6M482.1,493.1h0.6M488.8,479.2h0.6M481.9,479.4h0.6M481.4,472.0h0.6M490.4,495.2h0.6M481.8,480.3h0.6M479.1,480.5h0.6M470.5,505.8h0.6M509.1,474.3h0.6M473.5,494.2h0.6M487.6,470.5h0.6M467.4,493.8h0.6M466.9,503.5h0.6M478.8,488.7h0.6M482.8,481.6h0.6M481.7,484.5h0.6M492.8,486.8h0.6M482.5,482.0h0.6M477.7,479.7h0.6M482.9,508.0h0.6M491.7,490.4h0.6M496.2,499.0h0.6M484.5,486.0h0.6M474.0,490.5h0.6M480.3,470.4h0.6M472.5,509.1h0.6M484.5,493.3h0.6M484.4,482.7h0.6M486.5,499.7h0.6M480.3,493.4h0.6M491.0,482.5h0.6M484.2,479.7h0.6M487.6,483.7h0.6M492.0,479.4h0.6M496.3,484.4h0.6M476.1,477.9h0.6M488.1,478.4h0.6M497.2,501.9h0.6M486.9,472.2h0.6M482.6,479.8h0.6M468.3,492.5h0.6M500.4,481.9h0.6M489.3,501.9h0.6M475.1,484.1h0.6M484.9,493.0h0.6M473.6,490.2h0.6M481.9,498.3h0.6M470.0,481.6h0.6M478.8,484.3h0.6M488.6,480.9h0.6M504.7,480.0h0.6M489.5,499.0h0.6M490.5,485.6h0.6M476.2,485.0h0.6M488.1,489.1h0.6M487.5,494.1h0.6M475.7,477.5h0.6M494.3,482.5h0.6M470.1,508.3h0.6M476.1,477.5h0.6M490.5,475.4h0.6M475.8,499.3h0.6M476.2,515.4h0.6M483.6,517.3h0.6M483.8,488.4h0.6M477.7,485.4h0.6M478.8,487.5h0.6M489.0,473.8h0.6M475.5,464.8h0.6M494.8,487.0h0.6M482.7,487.2h0.6M490.8,491.3h0.6M489.6,486.0h0.6M481.8,487.2h0.6M467.9,499.8h0.6M470.2,476.9h0.6M488.2,488.4h0.6M489.3,506.6h0.6M497.7,503.0h0.6M481.0,510.3h0.6M475.8,486.9h0.6M490.8,485.5h0.6M481.8,483.9h0.6M493.7,460.7h0.6M493.0,499.5h0.6M482.2,494.0h0.6M475.1,500.0h0.6M507.3,477.7h0.6M494.0,487.2h0.6M480.1,482.4h0.6M481.3,474.0h0.6M471.9,506.1h0.6M482.7,493.9h0.6M485.3,493.0h0.6M470.6,477.4h0.6M487.9,498.8h0.6M473.6,481.4h0.6M474.3,495.0h0.6M485.6,488.2h0.6M477.6,491.6h0.6M483.1,479.6h0.6M485.5,480.5h0.6" fill="none" stroke="#a8a8a8" stroke-width="0.6"/>
<g filter="url(#fb)">
<path d="M494.3,488.8L494.2,491.8L493.8,494.7L493.1,497.5L492.3,500.3L491.2,503.1L489.8,505.6L488.1,507.9L486.1,509.5L483.8,510.1L481.5,509.5L479.5,507.9L477.8,505.6L476.4,503.1L475.3,500.3L474.5,497.5L473.8,494.7L473.4,491.8L473.3,488.8L473.4,485.8L473.9,483.0L474.6,480.2L475.6,477.6L476.8,475.3L478.2,473.2L479.9,471.6L481.8,470.5L483.8,470.1L485.8,470.5L487.7,471.6L489.4,473.2L490.8,475.3L492.0,477.6L493.0,480.2L493.7,483.0L494.2,485.8Z" fill="none" stroke="#9a9a9a" stroke-width="0.45"/>
<path d="M493.3,489.1L493.2,491.8L492.8,494.4L492.2,497.0L491.4,499.5L490.4,501.9L489.2,504.3L487.7,506.3L485.8,507.7L483.8,508.2L481.8,507.7L479.9,506.3L478.4,504.3L477.2,501.9L476.2,499.5L475.4,497.0L474.8,494.4L474.4,491.8L474.3,489.1L474.5,486.4L474.9,483.8L475.5,481.4L476.4,479.1L477.5,476.9L478.8,475.1L480.3,473.6L482.0,472.6L483.8,472.3L485.6,472.6L487.3,473.6L488.8,475.1L490.1,476.9L491.2,479.1L492.1,481.4L492.7,483.8L493.1,486.4Z" fill="none" stroke="#777" stroke-width="0.45"/>
<path d="M492.2,489.4L492.1,491.8L491.8,494.1L491.3,496.4L490.6,498.6L489.7,500.8L488.6,502.9L487.2,504.7L485.6,505.9L483.8,506.4L482.0,505.9L480.4,504.7L479.0,502.9L477.9,500.8L477.0,498.6L476.3,496.4L475.8,494.1L475.5,491.8L475.4,489.4L475.5,487.0L475.9,484.7L476.4,482.5L477.2,480.5L478.2,478.6L479.4,476.9L480.7,475.6L482.2,474.7L483.8,474.4L485.4,474.7L486.9,475.6L488.2,476.9L489.4,478.6L490.4,480.5L491.2,482.5L491.7,484.7L492.1,487.0Z" fill="none" stroke="#9a9a9a" stroke-width="0.45"/>
<path d="M491.2,489.7L491.1,491.8L490.8,493.8L490.3,495.8L489.7,497.8L489.0,499.7L488.0,501.5L486.8,503.1L485.4,504.2L483.8,504.6L482.2,504.2L480.8,503.1L479.6,501.5L478.6,499.7L477.9,497.8L477.3,495.8L476.8,493.8L476.5,491.8L476.4,489.7L476.5,487.6L476.9,485.6L477.4,483.7L478.0,481.9L478.9,480.2L479.9,478.8L481.1,477.6L482.4,476.9L483.8,476.6L485.2,476.9L486.5,477.6L487.7,478.8L488.7,480.2L489.6,481.9L490.2,483.7L490.7,485.6L491.1,487.6Z" fill="none" stroke="#777" stroke-width="0.45"/>
<path d="M490.1,490.0L490.0,491.8L489.8,493.5L489.4,495.2L488.9,496.9L488.2,498.6L487.4,500.1L486.4,501.5L485.2,502.4L483.8,502.8L482.4,502.4L481.2,501.5L480.2,500.1L479.4,498.6L478.7,496.9L478.2,495.2L477.8,493.5L477.6,491.8L477.5,490.0L477.6,488.2L477.8,486.5L478.3,484.8L478.9,483.3L479.6,481.9L480.5,480.7L481.5,479.7L482.6,479.0L483.8,478.8L485.0,479.0L486.1,479.7L487.1,480.7L488.0,481.9L488.7,483.3L489.3,484.8L489.8,486.5L490.0,488.2Z" fill="none" stroke="#9a9a9a" stroke-width="0.45"/>
<path d="M489.1,490.3L489.0,491.8L488.8,493.2L488.5,494.7L488.0,496.1L487.5,497.4L486.8,498.7L485.9,499.9L484.9,500.6L483.8,500.9L482.7,500.6L481.7,499.9L480.8,498.7L480.1,497.4L479.6,496.1L479.1,494.7L478.8,493.2L478.6,491.8L478.5,490.3L478.6,488.8L478.8,487.4L479.2,486.0L479.7,484.7L480.3,483.5L481.0,482.5L481.9,481.7L482.8,481.1L483.8,480.9L484.8,481.1L485.7,481.7L486.6,482.5L487.3,483.5L487.9,484.7L488.4,486.0L488.8,487.4L489.0,488.8Z" fill="none" stroke="#777" stroke-width="0.45"/>
<path d="M488.0,490.6L488.0,491.8L487.8,493.0L487.5,494.1L487.2,495.2L486.8,496.3L486.2,497.3L485.5,498.2L484.7,498.9L483.8,499.1L482.9,498.9L482.1,498.2L481.4,497.3L480.8,496.3L480.4,495.2L480.1,494.1L479.8,493.0L479.6,491.8L479.6,490.6L479.7,489.4L479.8,488.3L480.1,487.2L480.5,486.1L481.0,485.2L481.6,484.4L482.3,483.7L483.0,483.3L483.8,483.1L484.6,483.3L485.3,483.7L486.0,484.4L486.6,485.2L487.1,486.1L487.5,487.2L487.8,488.3L487.9,489.4Z" fill="none" stroke="#9a9a9a" stroke-width="0.45"/>
<path d="M487.0,490.9L486.9,491.8L486.8,492.7L486.6,493.5L486.3,494.4L486.0,495.2L485.6,496.0L485.1,496.6L484.5,497.1L483.8,497.3L483.1,497.1L482.5,496.6L482.0,496.0L481.6,495.2L481.3,494.4L481.0,493.5L480.8,492.7L480.7,491.8L480.6,490.9L480.7,490.0L480.8,489.1L481.0,488.3L481.3,487.6L481.7,486.8L482.1,486.2L482.6,485.7L483.2,485.4L483.8,485.3L484.4,485.4L485.0,485.7L485.5,486.2L485.9,486.8L486.3,487.6L486.6,488.3L486.8,489.1L486.9,490.0Z" fill="none" stroke="#777" stroke-width="0.45"/>
<path d="M485.9,491.2L485.9,491.8L485.8,492.4L485.7,492.9L485.5,493.5L485.3,494.1L485.0,494.6L484.7,495.0L484.3,495.3L483.8,495.5L483.3,495.3L482.9,495.0L482.6,494.6L482.3,494.1L482.1,493.5L481.9,492.9L481.8,492.4L481.7,491.8L481.7,491.2L481.7,490.6L481.8,490.0L482.0,489.5L482.2,489.0L482.4,488.5L482.7,488.1L483.0,487.8L483.4,487.5L483.8,487.5L484.2,487.5L484.6,487.8L484.9,488.1L485.2,488.5L485.4,489.0L485.6,489.5L485.8,490.0L485.9,490.6Z" fill="none" stroke="#9a9a9a" stroke-width="0.45"/>
</g>
<ellipse cx="484.8" cy="491.8" rx="1.0" ry="3.2" transform="rotate(0 484.8 491.8)" fill="#f4f4f4" stroke="none" stroke-width="0.5" opacity="1.0"/>
<ellipse cx="485.8" cy="508.6" rx="11.0" ry="1.1" transform="rotate(0 485.8 508.6)" fill="#333" stroke="none" stroke-width="0.5" opacity="1.0"/>
<rect x="450.20" y="454.40" width="23.87" height="35.47" fill="none" stroke="#b5304b" stroke-width="1.0"/>
<rect x="474.07" y="489.87" width="32.53" height="19.73" fill="none" stroke="#6aaa44" stroke-width="1.0"/>
<text x="452.80" y="460.50" font-size="5.6" text-anchor="start" fill="#222" font-weight="normal">4%</text>
<text x="504.90" y="460.50" font-size="5.6" text-anchor="end" fill="#222" font-weight="normal">23%</text>
<text x="452.80" y="507.90" font-size="5.6" text-anchor="start" fill="#222" font-weight="normal">13%</text>
<text x="504.90" y="507.90" font-size="5.6" text-anchor="end" fill="#222" font-weight="normal">60%</text>
<text x="447.3" y="460.8" font-size="5.2" text-anchor="end" fill="#222">10<tspan font-size="3.2" dy="-2">5</tspan></text>
<text x="447.3" y="472.2" font-size="5.2" text-anchor="end" fill="#222">10<tspan font-size="3.2" dy="-2">4</tspan></text>
<text x="447.3" y="483.6" font-size="5.2" text-anchor="end" fill="#222">10<tspan font-size="3.2" dy="-2">3</tspan></text>
<text x="447.3" y="495.0" font-size="5.2" text-anchor="end" fill="#222">10<tspan font-size="3.2" dy="-2">2</tspan></text>
<text x="447.3" y="506.4" font-size="5.2" text-anchor="end" fill="#222">10<tspan font-size="3.2" dy="-2">1</tspan></text>
<text x="455.1" y="517.9" font-size="5.2" text-anchor="middle" fill="#222">10<tspan font-size="3.2" dy="-2">1</tspan></text>
<text x="466.7" y="517.9" font-size="5.2" text-anchor="middle" fill="#222">10<tspan font-size="3.2" dy="-2">2</tspan></text>
<text x="478.3" y="517.9" font-size="5.2" text-anchor="middle" fill="#222">10<tspan font-size="3.2" dy="-2">3</tspan></text>
<text x="489.9" y="517.9" font-size="5.2" text-anchor="middle" fill="#222">10<tspan font-size="3.2" dy="-2">4</tspan></text>
<text x="501.5" y="517.9" font-size="5.2" text-anchor="middle" fill="#222">10<tspan font-size="3.2" dy="-2">5</tspan></text>
<path d="M448.2,459.0h1.6M448.2,470.4h1.6M448.2,481.8h1.6M448.2,493.2h1.6M448.2,504.6h1.6M455.1,509.9v1.6M466.7,509.9v1.6M478.3,509.9v1.6M489.9,509.9v1.6M501.5,509.9v1.6" fill="none" stroke="#333" stroke-width="0.5"/>
<text x="433.60" y="472.80" font-size="5.8" text-anchor="middle" fill="#c0304c" font-weight="normal" transform="rotate(-90 433.6 472.8)">CFU-E</text>
<text x="487.80" y="523.50" font-size="5.8" text-anchor="middle" fill="#7fbf5a" font-weight="normal">BFU-E</text>
<path d="M433.9,523.0V493.8" fill="none" stroke="#111" stroke-width="1"/>
<path d="M431.9,495.3L433.9,490.3L435.9,495.3Z" fill="#111" stroke="none" stroke-width="1"/>
<path d="M433.9,523.0H461.9" fill="none" stroke="#111" stroke-width="1"/>
<path d="M460.9,521.0L465.9,523.0L460.9,525.0Z" fill="#111" stroke="none" stroke-width="1"/>
<g transform="translate(429.90,506.90) rotate(-90) scale(0.823,1)"><text x="0" y="0" font-size="7.6" text-anchor="middle" fill="#222"><tspan>CD36</tspan></text></g>
<g transform="translate(449.40,531.10) rotate(0) scale(0.832,1)"><text x="0" y="0" font-size="7.8" text-anchor="middle" fill="#222"><tspan>CD34</tspan></text></g>
<text x="145.30" y="672.30" font-size="13.5" text-anchor="start" fill="#111" font-weight="bold">G</text>
<text x="213.00" y="674.20" font-size="8.6" text-anchor="middle" fill="#222" font-weight="normal">Control</text>
<text x="290.8" y="674.2" font-size="8.4" text-anchor="middle" fill="#222">ENT1<tspan font-size="6" font-style="italic" dy="2.3">null</tspan><tspan dy="-2.3">P3</tspan></text>
<rect x="176.90" y="677.70" width="72.20" height="62.80" fill="url(#bgG)" stroke="#333" stroke-width="1.0"/>
<rect x="254.50" y="677.70" width="72.20" height="62.80" fill="url(#bgG2)" stroke="#333" stroke-width="1.0"/>
<g filter="url(#rag)">
<path d="M191.6,733.0L190.8,734.1L189.9,735.0L189.8,736.2L189.1,737.4L188.0,738.2L186.4,738.1L185.0,738.5L183.5,738.5L181.8,738.7L180.7,737.6L180.7,735.9L179.6,735.2L179.0,734.2L178.4,733.0L177.9,731.6L178.8,730.5L180.0,729.6L180.9,728.6L182.4,728.4L183.6,728.0L185.0,727.9L186.2,728.5L187.5,728.6L188.9,728.9L190.8,729.1L191.8,730.2L192.3,731.6Z" fill="#6a625a" opacity="0.55"/>
<path d="M197.3,726.4L196.9,728.1L196.4,729.6L195.7,731.1L194.5,732.2L193.2,733.1L191.7,733.8L190.2,734.0L188.5,734.4L187.1,733.5L185.8,732.4L185.1,730.8L184.1,729.6L183.4,728.1L183.3,726.4L183.1,724.7L183.4,722.8L184.6,721.6L185.7,720.2L187.2,719.6L188.7,719.3L190.2,719.0L191.7,719.2L193.1,720.0L194.5,720.6L196.0,721.4L197.2,722.7L197.4,724.6Z" fill="#2a2422" opacity="1.0"/>
<path d="M214.1,728.6L213.6,730.8L212.9,732.9L211.7,734.5L210.3,735.8L209.0,737.3L207.2,737.5L205.5,738.0L203.8,737.4L202.0,737.2L200.4,736.3L198.9,734.9L197.7,733.1L197.6,730.8L198.1,728.6L197.9,726.5L198.6,724.6L199.2,722.6L200.3,720.8L201.9,719.7L203.7,719.3L205.5,718.3L207.3,719.1L208.9,720.1L210.4,721.3L211.2,723.1L212.3,724.7L213.2,726.5Z" fill="#231f1e" opacity="1.0"/>
<path d="M187.8,735.0L187.8,735.7L188.0,736.5L187.4,737.1L186.7,737.5L185.9,737.7L185.0,737.2L184.4,737.3L183.6,738.1L182.7,738.2L182.0,737.6L181.6,736.9L181.1,736.4L180.9,735.7L181.3,735.0L180.9,734.3L181.4,733.7L182.0,733.3L182.4,732.8L182.9,732.3L183.6,731.8L184.4,731.2L185.1,732.1L185.8,732.5L186.1,733.1L187.0,733.2L187.5,733.7L187.7,734.3Z" fill="#3a3330" opacity="1.0"/>
<path d="M223.8,704.1L224.0,705.0L223.7,705.9L222.9,706.5L222.3,707.2L221.1,707.0L220.4,707.1L219.7,707.6L218.8,708.0L217.9,707.7L217.1,707.2L216.6,706.5L216.1,705.7L216.1,704.9L215.9,704.1L215.8,703.3L216.1,702.5L216.7,701.8L217.1,700.9L217.7,700.2L218.7,700.1L219.7,700.4L220.5,700.9L221.3,700.9L222.0,701.3L223.0,701.6L223.1,702.5L223.8,703.2Z" fill="#2a2422" opacity="1.0"/>
<path d="M234.8,707.3L234.8,707.9L234.8,708.6L234.6,709.4L234.1,709.8L233.5,710.2L232.9,710.7L232.2,711.1L231.4,710.9L230.7,710.6L230.3,709.9L230.1,709.1L230.0,708.4L229.3,708.0L228.8,707.3L228.9,706.5L229.2,705.8L229.8,705.3L230.2,704.7L230.8,704.2L231.6,704.5L232.2,704.4L232.8,704.4L233.5,704.5L234.2,704.6L234.9,705.0L235.5,705.6L235.4,706.5Z" fill="#2e2826" opacity="1.0"/>
<path d="M246.7,703.2L246.9,704.1L246.6,705.0L246.0,705.5L245.6,706.3L245.0,706.7L244.4,707.5L243.6,708.3L242.7,707.8L242.1,707.0L241.7,706.2L241.2,705.5L241.1,704.7L240.6,704.0L239.9,703.2L240.1,702.2L240.5,701.3L240.6,700.2L241.3,699.7L242.0,699.0L242.9,699.4L243.6,699.6L244.3,699.6L245.1,699.5L246.0,699.5L246.6,700.3L247.1,701.1L246.9,702.3Z" fill="#2a2422" opacity="1.0"/>
</g>
<g opacity="0.2" filter="url(#fb)">
<path d="M191.1,724.5L191.0,725.0L190.5,725.4L190.2,725.7L189.9,726.1L189.3,726.1L188.9,726.0L188.5,726.1L188.0,726.4L187.4,726.6L186.9,726.4L186.4,726.0L186.3,725.5L186.6,724.9L186.8,724.5L186.7,724.1L186.4,723.6L187.1,723.5L187.1,722.9L187.5,722.5L187.9,722.3L188.5,722.0L189.0,722.7L189.2,723.1L189.5,723.3L189.7,723.6L190.6,723.6L190.7,724.0Z" fill="#8a8078" opacity="1.0"/>
<path d="M205.3,726.0L205.5,726.7L205.2,727.3L204.7,727.6L204.1,727.7L203.7,727.6L203.4,728.1L203.0,728.2L202.6,728.1L202.1,728.2L201.6,728.1L201.3,727.6L201.0,727.1L201.1,726.5L201.2,726.0L201.5,725.6L201.5,725.1L201.3,724.4L201.6,723.9L201.9,723.3L202.5,723.2L203.0,723.8L203.5,723.4L203.9,723.8L204.1,724.4L204.3,724.7L204.6,725.1L205.1,725.4Z" fill="#6a6058" opacity="1.0"/>
</g>
<circle cx="226.5" cy="700.5" r="0.7" fill="#5a4070"/>
<circle cx="228" cy="702" r="0.7" fill="#5a4070"/>
<circle cx="225.5" cy="703" r="0.7" fill="#5a4070"/>
<circle cx="238.5" cy="695.5" r="0.7" fill="#5a4070"/>
<circle cx="225.5" cy="721.5" r="0.7" fill="#5a4070"/>
<circle cx="229" cy="702.8" r="0.7" fill="#5a4070"/>
<circle cx="224" cy="704.5" r="0.7" fill="#5a4070"/>
<g filter="url(#fb)">
<path d="M293.8,713.0L292.7,713.9L292.4,714.8L291.7,715.4L291.6,716.6L290.9,717.2L290.0,717.4L289.1,718.0L288.1,717.8L286.8,718.4L286.0,717.4L285.8,716.0L286.2,714.6L285.7,713.9L285.5,713.0L284.5,711.8L284.8,710.6L285.8,710.0L286.7,709.6L287.3,708.7L288.2,708.2L289.1,708.2L289.9,709.2L290.3,710.2L291.5,709.6L292.1,710.2L293.7,710.4L293.5,711.8Z" fill="#b4a894" opacity="0.7"/>
<path d="M290.9,712.6L290.9,713.2L290.8,713.8L290.3,714.2L289.9,714.5L289.4,714.5L289.1,715.2L288.6,715.2L288.0,715.5L287.5,715.4L287.2,714.6L287.0,714.1L286.8,713.6L286.6,713.1L286.3,712.6L286.5,712.0L286.8,711.6L286.9,711.0L286.9,710.1L287.4,709.6L288.1,710.0L288.6,710.0L289.0,710.4L289.4,710.7L289.9,710.6L290.4,710.9L290.9,711.3L290.9,712.0Z" fill="#8c7c66" opacity="0.8"/>
</g>
<path d="M292.7,715.8h0.6M287.2,715.6h0.6M289.7,711.0h0.6M286.4,707.5h0.6M285.7,714.7h0.6M293.6,711.2h0.6M290.0,714.7h0.6M292.2,715.1h0.6M293.7,716.3h0.6M286.9,714.9h0.6M281.5,712.9h0.6M289.6,715.6h0.6M288.5,716.5h0.6M294.0,710.5h0.6M287.7,714.4h0.6M291.2,714.0h0.6M292.3,709.2h0.6M292.1,717.7h0.6M293.3,715.0h0.6M288.7,714.9h0.6M289.2,707.8h0.6M287.4,713.4h0.6M287.7,710.1h0.6M288.7,712.2h0.6M289.7,713.3h0.6M290.1,717.1h0.6M290.0,715.0h0.6M285.3,702.9h0.6M288.1,715.9h0.6M288.3,711.3h0.6M285.3,716.7h0.6M287.7,714.4h0.6M293.3,715.4h0.6M297.1,713.0h0.6M292.8,716.0h0.6M287.3,713.7h0.6M287.6,709.8h0.6M290.5,710.7h0.6M295.2,710.8h0.6M287.6,713.8h0.6M287.7,713.7h0.6M287.4,708.4h0.6M281.3,708.9h0.6M294.7,715.1h0.6M290.0,711.8h0.6M289.0,714.6h0.6M284.8,710.6h0.6M286.5,718.0h0.6M285.9,717.7h0.6M287.9,723.3h0.6" fill="none" stroke="#8a7a64" stroke-width="0.6"/>
<rect x="379.00" y="699.52" width="15.00" height="29.68" fill="#454e63" stroke="none" stroke-width="1"/>
<line x1="386.50" y1="694.67" x2="386.50" y2="699.52" stroke="#454e63" stroke-width="0.7"/>
<line x1="384.00" y1="694.67" x2="389.00" y2="694.67" stroke="#454e63" stroke-width="0.7"/>
<rect x="401.50" y="706.10" width="15.00" height="23.10" fill="#454e63" stroke="none" stroke-width="1"/>
<line x1="409.00" y1="701.48" x2="409.00" y2="706.10" stroke="#454e63" stroke-width="0.7"/>
<line x1="406.50" y1="701.48" x2="411.50" y2="701.48" stroke="#454e63" stroke-width="0.7"/>
<rect x="424.40" y="724.58" width="15.00" height="4.62" fill="#b21030" stroke="none" stroke-width="1"/>
<line x1="431.90" y1="722.04" x2="431.90" y2="724.58" stroke="#b21030" stroke-width="0.7"/>
<line x1="429.40" y1="722.04" x2="434.40" y2="722.04" stroke="#b21030" stroke-width="0.7"/>
<line x1="374.70" y1="682.00" x2="374.70" y2="729.20" stroke="#222" stroke-width="0.8"/>
<line x1="374.70" y1="729.20" x2="442.50" y2="729.20" stroke="#222" stroke-width="0.9"/>
<text x="371.90" y="731.30" font-size="6" text-anchor="end" fill="#222" font-weight="normal">0</text>
<text x="371.90" y="719.75" font-size="6" text-anchor="end" fill="#222" font-weight="normal">10</text>
<text x="371.90" y="708.20" font-size="6" text-anchor="end" fill="#222" font-weight="normal">20</text>
<text x="371.90" y="696.65" font-size="6" text-anchor="end" fill="#222" font-weight="normal">30</text>
<text x="371.90" y="685.10" font-size="6" text-anchor="end" fill="#222" font-weight="normal">40</text>
<path d="M372.7,729.2h2M372.7,717.7h2M372.7,706.1h2M372.7,694.5h2M372.7,683.0h2M386.5,729.2v2M409.0,729.2v2M431.9,729.2v2" fill="none" stroke="#222" stroke-width="0.7"/>
<rect x="378.50" y="681.20" width="4.30" height="2.10" fill="#454e63" stroke="none" stroke-width="1"/>
<text x="384.20" y="684.20" font-size="5.2" text-anchor="start" fill="#222" font-weight="normal">Control</text>
<rect x="378.50" y="687.30" width="4.30" height="2.10" fill="#b21030" stroke="none" stroke-width="1"/>
<text x="384.20" y="690.30" font-size="5.2" text-anchor="start" fill="#222" font-weight="normal">P3</text>
<text x="386.20" y="740.20" font-size="6" text-anchor="middle" fill="#222" font-weight="normal">BFU-E</text>
<text x="408.70" y="740.20" font-size="6" text-anchor="middle" fill="#222" font-weight="normal">CFU-E</text>
<text x="432.40" y="740.20" font-size="6" text-anchor="middle" fill="#222" font-weight="normal">CFU-GM/</text>
<text x="432.40" y="747.90" font-size="6" text-anchor="middle" fill="#222" font-weight="normal">GEMM</text>
<g transform="translate(360.20,705.30) rotate(-90) scale(0.788,1)"><text x="0" y="0" font-size="8.4" text-anchor="middle" fill="#222"><tspan>Number of colonies</tspan></text></g>
<rect x="0.5" y="0.5" width="519" height="767" fill="none" stroke="#000" stroke-width="1.3"/>
</svg></body></html>
